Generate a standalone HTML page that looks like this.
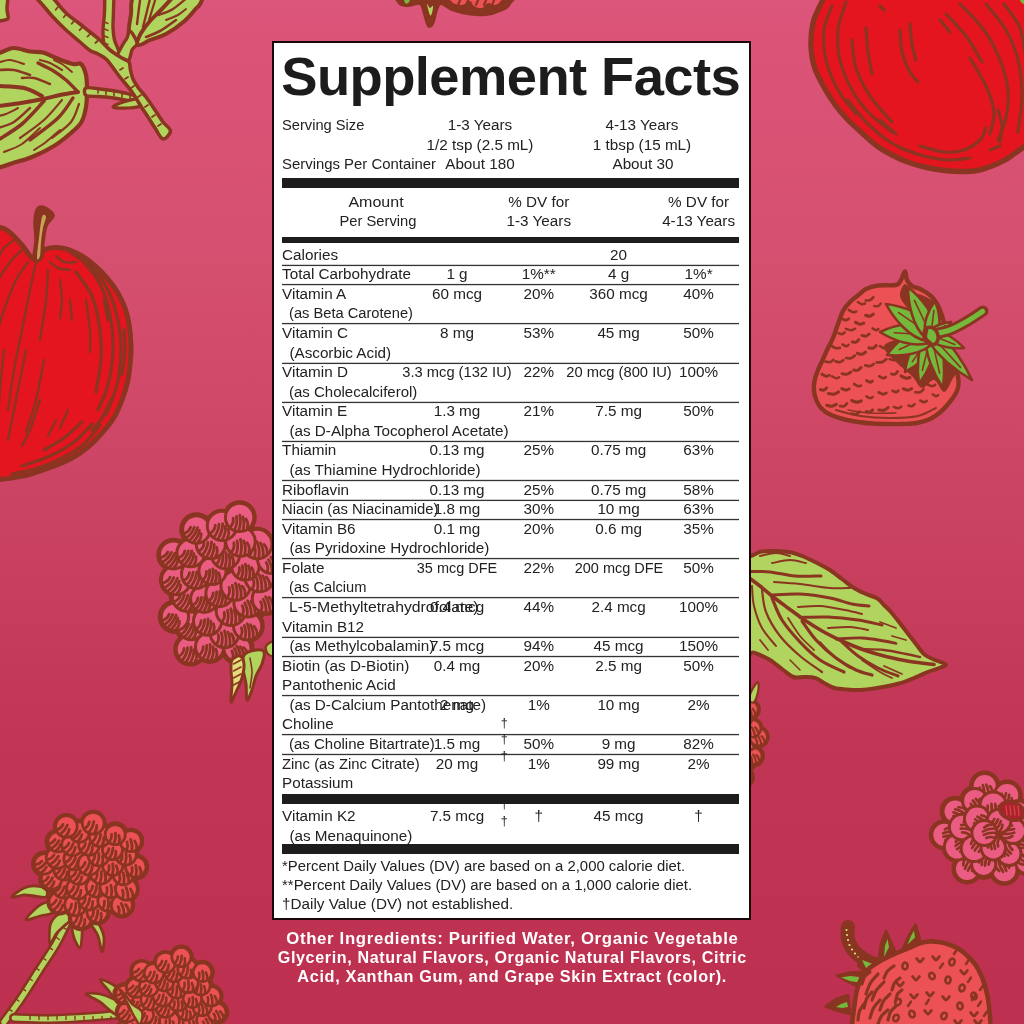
<!DOCTYPE html>
<html><head><meta charset="utf-8"><title>Supplement Facts</title>
<style>
html,body{margin:0;padding:0;}
body{width:1024px;height:1024px;overflow:hidden;position:relative;font-family:"Liberation Sans",sans-serif;
background:linear-gradient(180deg,#dc557a 0%,#d54f6f 25.6%,#cb4362 50%,#c03454 74%,#bd3050 100%);}
#art{position:absolute;left:0;top:0;width:1024px;height:1024px;}
#panel{position:absolute;left:272px;top:41px;width:475px;height:875px;border:2.2px solid #1a0508;background:#fff;box-sizing:content-box;}
#lbl{position:absolute;left:0;top:0;width:1024px;height:1024px;color:#222;font-size:15.25px;will-change:transform;}
.t{position:absolute;white-space:nowrap;line-height:20px;}
.b{position:absolute;}
.title{position:absolute;left:281.3px;top:47.1px;font-weight:bold;font-size:54.4px;line-height:60px;white-space:nowrap;color:#1c1c1c;letter-spacing:-0.6px;}
.oi{position:absolute;left:0;width:1024px;will-change:transform;text-align:center;color:#fff;font-weight:bold;font-size:15.6px;line-height:20px;white-space:nowrap;}
.oi span{display:inline-block;letter-spacing:0.62px;}
</style></head>
<body>
<svg id="art" viewBox="0 0 1024 1024" width="1024" height="1024">
<path d="M-30.0,-30.0 C-24.0,-37.7 -0.2,-36.3 6.0,-30.0 C12.2,-23.7 7.2,-0.3 7.0,8.0 C6.8,16.3 11.2,18.7 5.0,20.0 C-1.2,21.3 -24.2,24.3 -30.0,16.0 C-35.8,7.7 -36.0,-22.3 -30.0,-30.0Z" fill="#b1d45f" stroke="#8a3521" stroke-width="3.5" stroke-linejoin="round" stroke-linecap="round" />
<path d="M129.0,34.0 C127.8,28.8 130.3,20.3 131.0,14.0 C131.7,7.7 129.8,5.0 133.0,-4.0 C136.2,-13.0 136.3,-34.0 150.0,-40.0 C163.7,-46.0 206.3,-46.7 215.0,-40.0 C223.7,-33.3 205.2,-8.2 202.0,0.0 C198.8,8.2 198.5,5.4 195.5,9.0 C192.5,12.6 188.9,17.3 184.0,21.5 C179.1,25.7 171.7,30.9 166.0,34.0 C160.3,37.1 154.7,38.2 150.0,40.0 C145.3,41.8 141.5,46.0 138.0,45.0 C134.5,44.0 130.2,39.2 129.0,34.0Z" fill="#b1d45f" stroke="#8a3521" stroke-width="4" stroke-linejoin="round" stroke-linecap="round" />
<path d="M137.0,42.0 C137.7,40.5 138.8,36.5 141.0,33.0 C143.2,29.5 146.7,24.8 150.0,21.0 C153.3,17.2 157.2,14.0 161.0,10.0 C164.8,6.0 171.0,-0.8 173.0,-3.0" fill="none" stroke="#8a3521" stroke-width="4.0" stroke-linecap="round" stroke-linejoin="round"/>
<path d="M137.0,24.0 C137.3,21.3 138.4,12.5 139.0,8.0 C139.6,3.5 140.2,-1.2 140.5,-3.0" fill="none" stroke="#8a3521" stroke-width="2.4" stroke-linecap="round" stroke-linejoin="round"/>
<path d="M143.0,27.0 C143.7,24.3 145.8,16.0 147.0,11.0 C148.2,6.0 149.9,-0.7 150.5,-3.0" fill="none" stroke="#8a3521" stroke-width="2.4" stroke-linecap="round" stroke-linejoin="round"/>
<path d="M149.0,20.0 C149.7,17.8 151.8,10.8 153.0,7.0 C154.2,3.2 155.5,-1.3 156.0,-3.0" fill="none" stroke="#8a3521" stroke-width="2.2" stroke-linecap="round" stroke-linejoin="round"/>
<path d="M146.0,37.0 C148.3,36.0 155.0,33.8 160.0,31.0 C165.0,28.2 173.3,21.8 176.0,20.0" fill="none" stroke="#8a3521" stroke-width="2.6" stroke-linecap="round" stroke-linejoin="round"/>
<path d="M159.0,15.0 C161.3,14.0 168.2,12.0 173.0,9.0 C177.8,6.0 185.5,-1.0 188.0,-3.0" fill="none" stroke="#8a3521" stroke-width="2.4" stroke-linecap="round" stroke-linejoin="round"/>
<path d="M166.0,20.0 C168.0,19.2 174.7,16.8 178.0,15.0 C181.3,13.2 184.7,10.0 186.0,9.0" fill="none" stroke="#8a3521" stroke-width="2.0" stroke-linecap="round" stroke-linejoin="round"/>
<path d="M-40.0,60.0 C-34.0,40.7 -12.8,56.0 -4.0,54.0 C4.8,52.0 7.3,48.4 13.0,48.0 C18.7,47.6 25.0,50.8 30.0,51.5 C35.0,52.2 38.7,51.4 43.0,52.5 C47.3,53.6 51.0,56.1 56.0,58.0 C61.0,59.9 68.8,63.0 73.0,64.0 C77.2,65.0 78.8,62.2 81.0,64.0 C83.2,65.8 85.0,70.7 86.0,75.0 C87.0,79.3 87.0,84.7 87.0,90.0 C87.0,95.3 86.9,101.7 86.0,107.0 C85.1,112.3 84.0,117.7 81.5,122.0 C79.0,126.3 75.6,129.0 71.0,133.0 C66.4,137.0 60.5,142.0 54.0,146.0 C47.5,150.0 38.8,154.2 32.0,157.0 C25.2,159.8 19.0,161.2 13.0,163.0 C7.0,164.8 4.8,166.8 -4.0,168.0 C-12.8,169.2 -34.0,188.0 -40.0,170.0 C-46.0,152.0 -46.0,79.3 -40.0,60.0Z" fill="#b1d45f" stroke="#8a3521" stroke-width="4.2" stroke-linejoin="round" stroke-linecap="round" />
<path d="M78.0,92.0 C75.0,92.5 65.8,93.8 60.0,95.0 C54.2,96.2 49.5,97.7 43.0,99.0 C36.5,100.3 28.5,101.8 21.0,103.0 C13.5,104.2 1.8,105.5 -2.0,106.0" fill="none" stroke="#8a3521" stroke-width="4.0" stroke-linecap="round" stroke-linejoin="round"/>
<path d="M42.0,96.0 C39.0,94.7 31.3,89.7 24.0,88.0 C16.7,86.3 2.3,86.3 -2.0,86.0" fill="none" stroke="#8a3521" stroke-width="4.0" stroke-linecap="round" stroke-linejoin="round"/>
<path d="M77.0,91.0 C75.2,89.2 70.2,83.5 66.0,80.0 C61.8,76.5 56.7,72.8 52.0,70.0 C47.3,67.2 40.3,64.2 38.0,63.0" fill="none" stroke="#8a3521" stroke-width="3.4" stroke-linecap="round" stroke-linejoin="round"/>
<path d="M62.0,70.0 C60.0,68.8 53.7,64.7 50.0,63.0 C46.3,61.3 41.7,60.5 40.0,60.0" fill="none" stroke="#8a3521" stroke-width="2.2" stroke-linecap="round" stroke-linejoin="round"/>
<path d="M72.0,72.0 C70.3,70.7 65.0,66.0 62.0,64.0 C59.0,62.0 55.3,60.7 54.0,60.0" fill="none" stroke="#8a3521" stroke-width="2.0" stroke-linecap="round" stroke-linejoin="round"/>
<path d="M30.0,75.0 C27.3,74.2 19.3,70.8 14.0,70.0 C8.7,69.2 0.7,70.0 -2.0,70.0" fill="none" stroke="#8a3521" stroke-width="2.6" stroke-linecap="round" stroke-linejoin="round"/>
<path d="M24.0,64.0 C21.7,63.3 14.0,60.3 10.0,60.0 C6.0,59.7 1.7,61.7 0.0,62.0" fill="none" stroke="#8a3521" stroke-width="2.0" stroke-linecap="round" stroke-linejoin="round"/>
<path d="M50.0,84.0 C47.3,83.0 38.7,79.0 34.0,78.0 C29.3,77.0 24.0,78.0 22.0,78.0" fill="none" stroke="#8a3521" stroke-width="2.4" stroke-linecap="round" stroke-linejoin="round"/>
<path d="M73.0,98.0 C70.5,101.3 65.2,111.0 58.0,118.0 C50.8,125.0 34.7,136.3 30.0,140.0" fill="none" stroke="#8a3521" stroke-width="3.4" stroke-linecap="round" stroke-linejoin="round"/>
<path d="M44.0,101.0 C40.3,104.8 29.7,117.5 22.0,124.0 C14.3,130.5 2.0,137.3 -2.0,140.0" fill="none" stroke="#8a3521" stroke-width="3.6" stroke-linecap="round" stroke-linejoin="round"/>
<path d="M62.0,100.0 C59.0,103.3 51.0,113.7 44.0,120.0 C37.0,126.3 24.0,135.0 20.0,138.0" fill="none" stroke="#8a3521" stroke-width="2.2" stroke-linecap="round" stroke-linejoin="round"/>
<path d="M79.0,104.0 C77.7,107.0 75.5,116.3 71.0,122.0 C66.5,127.7 55.2,135.3 52.0,138.0" fill="none" stroke="#8a3521" stroke-width="2.2" stroke-linecap="round" stroke-linejoin="round"/>
<path d="M30.0,108.0 C27.3,110.3 19.3,118.7 14.0,122.0 C8.7,125.3 0.7,127.0 -2.0,128.0" fill="none" stroke="#8a3521" stroke-width="2.4" stroke-linecap="round" stroke-linejoin="round"/>
<path d="M40.0,128.0 C37.0,130.7 28.0,140.0 22.0,144.0 C16.0,148.0 7.0,150.7 4.0,152.0" fill="none" stroke="#8a3521" stroke-width="2.0" stroke-linecap="round" stroke-linejoin="round"/>
<path d="M18.0,108.0 C16.0,109.0 9.3,112.7 6.0,114.0 C2.7,115.3 -0.7,115.7 -2.0,116.0" fill="none" stroke="#8a3521" stroke-width="2.0" stroke-linecap="round" stroke-linejoin="round"/>
<path d="M60.0,130.0 C57.7,132.0 50.3,138.7 46.0,142.0 C41.7,145.3 36.0,148.7 34.0,150.0" fill="none" stroke="#8a3521" stroke-width="2.0" stroke-linecap="round" stroke-linejoin="round"/>
<path d="M106.0,-30.0 C107.6,-37.0 112.8,-36.7 114.0,-30.0 C115.2,-23.3 113.7,0.3 113.5,10.0 C113.3,19.7 112.8,23.0 113.0,28.0 C113.2,33.0 113.5,36.0 114.5,40.0 C115.5,44.0 118.6,49.0 119.0,52.0 C119.4,55.0 118.8,57.3 117.0,58.0 C115.2,58.7 110.2,58.2 108.0,56.0 C105.8,53.8 104.8,49.3 104.0,45.0 C103.2,40.7 102.9,35.5 103.0,30.0 C103.1,24.5 104.0,22.0 104.5,12.0 C105.0,2.0 104.4,-23.0 106.0,-30.0Z" fill="#b1d45f" stroke="#8a3521" stroke-width="3.4" stroke-linejoin="round" stroke-linecap="round" />
<path d="M86.0,88.0 C88.3,86.9 95.7,88.6 100.0,89.0 C104.3,89.4 107.8,89.8 112.0,90.5 C116.2,91.2 121.0,92.0 125.0,93.0 C129.0,94.0 133.8,94.8 136.0,96.5 C138.2,98.2 139.8,102.4 138.0,103.0 C136.2,103.6 129.7,100.9 125.0,100.0 C120.3,99.1 114.5,98.1 110.0,97.5 C105.5,96.9 102.0,96.8 98.0,96.5 C94.0,96.2 88.0,96.9 86.0,95.5 C84.0,94.1 83.7,89.1 86.0,88.0Z" fill="#b1d45f" stroke="#8a3521" stroke-width="3.4" stroke-linejoin="round" stroke-linecap="round" />
<path d="M113.0,107.0 C112.5,105.9 120.8,102.8 125.0,101.5 C129.2,100.2 135.0,98.4 138.0,99.0 C141.0,99.6 144.7,103.5 143.0,105.0 C141.3,106.5 133.0,107.7 128.0,108.0 C123.0,108.3 113.5,108.1 113.0,107.0Z" fill="#b1d45f" stroke="#8a3521" stroke-width="3.2" stroke-linejoin="round" stroke-linecap="round" />
<path d="M117.0,58.0 C116.0,55.5 120.3,49.3 122.0,46.0 C123.7,42.7 125.7,40.5 127.0,38.0 C128.3,35.5 128.3,30.2 130.0,31.0 C131.7,31.8 136.7,39.8 137.0,43.0 C137.3,46.2 133.5,47.0 132.0,50.0 C130.5,53.0 130.5,59.7 128.0,61.0 C125.5,62.3 118.0,60.5 117.0,58.0Z" fill="#b1d45f" stroke="#8a3521" stroke-width="3.4" stroke-linejoin="round" stroke-linecap="round" />
<path d="M10.0,-30.0 C8.0,-35.3 20.8,-34.7 28.0,-30.0 C35.2,-25.3 46.7,-9.2 53.0,-2.0 C59.3,5.2 61.5,8.7 66.0,13.0 C70.5,17.3 76.0,20.8 80.0,24.0 C84.0,27.2 86.7,29.3 90.0,32.0 C93.3,34.7 96.7,37.0 100.0,40.0 C103.3,43.0 106.3,47.0 110.0,50.0 C113.7,53.0 118.8,56.0 122.0,58.0 C125.2,60.0 127.6,60.0 129.0,62.0 C130.4,64.0 129.8,67.2 130.5,70.0 C131.2,72.8 131.7,76.0 133.0,79.0 C134.3,82.0 136.3,85.0 138.5,88.0 C140.7,91.0 143.2,93.3 146.0,97.0 C148.8,100.7 152.2,105.8 155.0,110.0 C157.8,114.2 160.4,118.5 163.0,122.0 C165.6,125.5 170.5,128.2 170.5,131.0 C170.5,133.8 165.6,139.5 163.0,139.0 C160.4,138.5 157.5,131.7 155.0,128.0 C152.5,124.3 150.2,120.3 148.0,117.0 C145.8,113.7 144.7,112.2 142.0,108.0 C139.3,103.8 135.8,97.3 132.0,92.0 C128.2,86.7 123.2,81.3 119.0,76.0 C114.8,70.7 110.5,63.7 107.0,60.0 C103.5,56.3 100.8,55.6 98.0,54.0 C95.2,52.4 93.0,52.5 90.0,50.5 C87.0,48.5 84.0,45.4 80.0,42.0 C76.0,38.6 70.7,34.3 66.0,30.0 C61.3,25.7 56.3,20.7 52.0,16.0 C47.7,11.3 47.0,9.7 40.0,2.0 C33.0,-5.7 12.0,-24.7 10.0,-30.0Z" fill="#b1d45f" stroke="#8a3521" stroke-width="3.6" stroke-linejoin="round" stroke-linecap="round" />
<path d="M58.0,7.0 L55.7,9.8" fill="none" stroke="#8a3521" stroke-width="1.8" stroke-linecap="round" stroke-linejoin="round"/>
<path d="M66.0,14.5 L63.7,17.3" fill="none" stroke="#8a3521" stroke-width="1.8" stroke-linecap="round" stroke-linejoin="round"/>
<path d="M74.0,21.0 L71.7,23.8" fill="none" stroke="#8a3521" stroke-width="1.8" stroke-linecap="round" stroke-linejoin="round"/>
<path d="M82.0,27.5 L79.6,30.2" fill="none" stroke="#8a3521" stroke-width="1.8" stroke-linecap="round" stroke-linejoin="round"/>
<path d="M90.0,34.0 L87.5,36.6" fill="none" stroke="#8a3521" stroke-width="1.8" stroke-linecap="round" stroke-linejoin="round"/>
<path d="M98.0,40.5 L95.4,43.0" fill="none" stroke="#8a3521" stroke-width="1.8" stroke-linecap="round" stroke-linejoin="round"/>
<path d="M123.0,68.0 L119.9,69.9" fill="none" stroke="#8a3521" stroke-width="1.8" stroke-linecap="round" stroke-linejoin="round"/>
<path d="M128.0,77.0 L124.9,78.9" fill="none" stroke="#8a3521" stroke-width="1.8" stroke-linecap="round" stroke-linejoin="round"/>
<path d="M134.0,86.0 L131.0,88.0" fill="none" stroke="#8a3521" stroke-width="1.8" stroke-linecap="round" stroke-linejoin="round"/>
<path d="M141.0,95.0 L138.0,97.0" fill="none" stroke="#8a3521" stroke-width="1.8" stroke-linecap="round" stroke-linejoin="round"/>
<path d="M148.0,105.0 L145.0,107.0" fill="none" stroke="#8a3521" stroke-width="1.8" stroke-linecap="round" stroke-linejoin="round"/>
<path d="M155.0,115.0 L152.0,117.0" fill="none" stroke="#8a3521" stroke-width="1.8" stroke-linecap="round" stroke-linejoin="round"/>
<path d="M161.0,124.0 L158.0,126.0" fill="none" stroke="#8a3521" stroke-width="1.8" stroke-linecap="round" stroke-linejoin="round"/>
<path d="M98.0,90.0 L98.0,93.0" fill="none" stroke="#8a3521" stroke-width="1.6" stroke-linecap="round" stroke-linejoin="round"/>
<path d="M106.0,91.4 L106.0,94.4" fill="none" stroke="#8a3521" stroke-width="1.6" stroke-linecap="round" stroke-linejoin="round"/>
<path d="M114.0,92.7 L114.0,95.7" fill="none" stroke="#8a3521" stroke-width="1.6" stroke-linecap="round" stroke-linejoin="round"/>
<path d="M122.0,94.1 L122.0,97.1" fill="none" stroke="#8a3521" stroke-width="1.6" stroke-linecap="round" stroke-linejoin="round"/>
<path d="M130.0,95.4 L130.0,98.4" fill="none" stroke="#8a3521" stroke-width="1.6" stroke-linecap="round" stroke-linejoin="round"/>
<path d="M104.5,22.0 L108.0,23.5" fill="none" stroke="#8a3521" stroke-width="1.5" stroke-linecap="round" stroke-linejoin="round"/>
<path d="M104.5,29.0 L108.0,30.5" fill="none" stroke="#8a3521" stroke-width="1.5" stroke-linecap="round" stroke-linejoin="round"/>
<path d="M104.5,36.0 L108.0,37.5" fill="none" stroke="#8a3521" stroke-width="1.5" stroke-linecap="round" stroke-linejoin="round"/>
<path d="M104.5,43.0 L108.0,44.5" fill="none" stroke="#8a3521" stroke-width="1.5" stroke-linecap="round" stroke-linejoin="round"/>
<path d="M-60.0,215.0 C-51.0,172.3 -17.3,223.3 -6.0,226.0 C5.3,228.7 3.3,227.8 8.0,231.0 C12.7,234.2 17.7,240.3 22.0,245.0 C26.3,249.7 30.0,258.3 34.0,259.0 C38.0,259.7 41.0,250.8 46.0,249.0 C51.0,247.2 58.0,247.3 64.0,248.5 C70.0,249.7 77.0,253.2 82.0,256.0 C87.0,258.8 89.8,261.3 94.0,265.0 C98.2,268.7 103.2,273.6 107.0,278.0 C110.8,282.4 114.0,286.5 117.0,291.5 C120.0,296.5 123.0,302.6 125.0,308.0 C127.0,313.4 128.0,317.5 129.0,324.0 C130.0,330.5 130.8,340.2 131.0,347.0 C131.2,353.8 130.6,359.2 130.0,365.0 C129.4,370.8 128.8,376.2 127.5,382.0 C126.2,387.8 124.2,394.1 122.0,400.0 C119.8,405.9 117.3,412.0 114.0,417.5 C110.7,423.0 106.3,428.1 102.0,433.0 C97.7,437.9 93.0,442.8 88.0,447.0 C83.0,451.2 77.0,455.1 72.0,458.0 C67.0,460.9 63.3,462.3 58.0,464.5 C52.7,466.7 45.8,469.1 40.0,471.0 C34.2,472.9 30.7,474.5 23.0,476.0 C15.3,477.5 7.8,479.0 -6.0,480.0 C-19.8,481.0 -51.0,526.2 -60.0,482.0 C-69.0,437.8 -69.0,257.7 -60.0,215.0Z" fill="#e5151f" stroke="#8a3521" stroke-width="5.0" stroke-linejoin="round" stroke-linecap="round" />
<path d="M70.0,252.0 C73.7,254.7 85.7,261.7 92.0,268.0 C98.3,274.3 103.7,281.3 108.0,290.0 C112.3,298.7 115.8,310.0 118.0,320.0 C120.2,330.0 121.2,339.2 121.0,350.0 C120.8,360.8 119.5,374.2 117.0,385.0 C114.5,395.8 107.8,410.0 106.0,415.0" fill="none" stroke="#8a3521" stroke-width="3.3" stroke-linecap="round" stroke-linejoin="round"/>
<path d="M84.0,262.0 C86.7,265.7 95.7,275.2 100.0,284.0 C104.3,292.8 107.8,304.0 110.0,315.0 C112.2,326.0 113.3,338.3 113.0,350.0 C112.7,361.7 110.5,375.0 108.0,385.0 C105.5,395.0 99.7,405.8 98.0,410.0" fill="none" stroke="#8a3521" stroke-width="3.3" stroke-linecap="round" stroke-linejoin="round"/>
<path d="M76.0,272.0 C78.7,276.0 88.0,286.3 92.0,296.0 C96.0,305.7 98.5,319.3 100.0,330.0 C101.5,340.7 101.7,349.7 101.0,360.0 C100.3,370.3 96.8,386.7 96.0,392.0" fill="none" stroke="#8a3521" stroke-width="3.3" stroke-linecap="round" stroke-linejoin="round"/>
<path d="M100.0,425.0 C97.3,428.2 90.3,438.5 84.0,444.0 C77.7,449.5 69.7,454.0 62.0,458.0 C54.3,462.0 46.3,465.3 38.0,468.0 C29.7,470.7 16.3,473.0 12.0,474.0" fill="none" stroke="#8a3521" stroke-width="3.3" stroke-linecap="round" stroke-linejoin="round"/>
<path d="M92.0,424.0 C89.0,427.0 81.0,436.7 74.0,442.0 C67.0,447.3 58.7,452.0 50.0,456.0 C41.3,460.0 26.7,464.3 22.0,466.0" fill="none" stroke="#8a3521" stroke-width="3.3" stroke-linecap="round" stroke-linejoin="round"/>
<path d="M82.0,422.0 C79.0,424.7 70.3,433.3 64.0,438.0 C57.7,442.7 47.3,448.0 44.0,450.0" fill="none" stroke="#8a3521" stroke-width="3.3" stroke-linecap="round" stroke-linejoin="round"/>
<path d="M112.0,398.0 C110.3,401.3 105.3,412.7 102.0,418.0 C98.7,423.3 93.7,428.0 92.0,430.0" fill="none" stroke="#8a3521" stroke-width="3.3" stroke-linecap="round" stroke-linejoin="round"/>
<path d="M124.0,330.0 C124.2,333.7 125.3,344.7 125.0,352.0 C124.7,359.3 122.5,370.3 122.0,374.0" fill="none" stroke="#8a3521" stroke-width="3.3" stroke-linecap="round" stroke-linejoin="round"/>
<path d="M104.0,300.0 L108.0,320.0" fill="none" stroke="#8a3521" stroke-width="3.3" stroke-linecap="round" stroke-linejoin="round"/>
<path d="M36.0,262.0 C35.0,266.7 32.3,278.7 30.0,290.0 C27.7,301.3 24.7,316.7 22.0,330.0 C19.3,343.3 16.3,356.7 14.0,370.0 C11.7,383.3 9.0,403.3 8.0,410.0" fill="none" stroke="#8a3521" stroke-width="2.5" stroke-linecap="round" stroke-linejoin="round"/>
<path d="M48.0,270.0 C47.7,275.0 47.3,288.3 46.0,300.0 C44.7,311.7 41.0,333.3 40.0,340.0" fill="none" stroke="#8a3521" stroke-width="2.5" stroke-linecap="round" stroke-linejoin="round"/>
<path d="M56.0,256.0 C57.3,257.0 60.7,261.0 64.0,262.0 C67.3,263.0 74.0,262.0 76.0,262.0" fill="none" stroke="#8a3521" stroke-width="2.5" stroke-linecap="round" stroke-linejoin="round"/>
<path d="M50.0,262.0 C51.3,263.0 54.7,266.7 58.0,268.0 C61.3,269.3 68.0,269.7 70.0,270.0" fill="none" stroke="#8a3521" stroke-width="2.5" stroke-linecap="round" stroke-linejoin="round"/>
<path d="M28.0,262.0 C26.0,265.0 20.0,272.0 16.0,280.0 C12.0,288.0 7.0,301.7 4.0,310.0 C1.0,318.3 -1.0,326.7 -2.0,330.0" fill="none" stroke="#8a3521" stroke-width="2.5" stroke-linecap="round" stroke-linejoin="round"/>
<path d="M22.0,250.0 C20.0,252.0 14.0,257.0 10.0,262.0 C6.0,267.0 0.0,277.0 -2.0,280.0" fill="none" stroke="#8a3521" stroke-width="2.5" stroke-linecap="round" stroke-linejoin="round"/>
<path d="M14.0,240.0 C12.3,241.3 6.7,245.0 4.0,248.0 C1.3,251.0 -1.0,256.3 -2.0,258.0" fill="none" stroke="#8a3521" stroke-width="2.5" stroke-linecap="round" stroke-linejoin="round"/>
<path d="M26.0,350.0 C24.3,358.3 19.0,385.0 16.0,400.0 C13.0,415.0 9.3,433.3 8.0,440.0" fill="none" stroke="#8a3521" stroke-width="2.5" stroke-linecap="round" stroke-linejoin="round"/>
<path d="M44.0,360.0 C42.7,366.7 39.0,388.0 36.0,400.0 C33.0,412.0 27.7,426.7 26.0,432.0" fill="none" stroke="#8a3521" stroke-width="2.5" stroke-linecap="round" stroke-linejoin="round"/>
<path d="M60.0,280.0 C60.3,283.3 62.0,293.7 62.0,300.0 C62.0,306.3 60.3,315.0 60.0,318.0" fill="none" stroke="#8a3521" stroke-width="2.5" stroke-linecap="round" stroke-linejoin="round"/>
<path d="M70.0,300.0 L72.0,320.0" fill="none" stroke="#8a3521" stroke-width="2.5" stroke-linecap="round" stroke-linejoin="round"/>
<path d="M40.0,400.0 C38.3,405.0 33.0,422.3 30.0,430.0 C27.0,437.7 23.3,443.3 22.0,446.0" fill="none" stroke="#8a3521" stroke-width="2.5" stroke-linecap="round" stroke-linejoin="round"/>
<path d="M56.0,420.0 L48.0,436.0" fill="none" stroke="#8a3521" stroke-width="2.5" stroke-linecap="round" stroke-linejoin="round"/>
<path d="M4.0,350.0 C3.3,356.7 1.0,378.3 0.0,390.0 C-1.0,401.7 -1.7,415.0 -2.0,420.0" fill="none" stroke="#8a3521" stroke-width="2.5" stroke-linecap="round" stroke-linejoin="round"/>
<path d="M68.0,410.0 L60.0,428.0" fill="none" stroke="#8a3521" stroke-width="2.5" stroke-linecap="round" stroke-linejoin="round"/>
<path d="M86.0,300.0 C86.7,305.0 89.3,321.3 90.0,330.0 C90.7,338.7 90.0,348.3 90.0,352.0" fill="none" stroke="#8a3521" stroke-width="2.5" stroke-linecap="round" stroke-linejoin="round"/>
<path d="M33.0,259.0 C32.5,255.3 34.8,246.2 35.0,240.0 C35.2,233.8 33.8,227.0 34.0,222.0 C34.2,217.0 34.8,212.7 36.0,210.0 C37.2,207.3 38.7,206.0 41.0,206.0 C43.3,206.0 47.8,208.3 50.0,210.0 C52.2,211.7 54.5,213.3 54.0,216.0 C53.5,218.7 48.7,221.7 47.0,226.0 C45.3,230.3 44.7,237.0 44.0,242.0 C43.3,247.0 44.0,252.7 43.0,256.0 C42.0,259.3 39.7,261.5 38.0,262.0 C36.3,262.5 33.5,262.7 33.0,259.0Z" fill="#8a3521" stroke="#8a3521" stroke-width="1.5" stroke-linejoin="round" stroke-linecap="round" />
<path d="M37.0,258.0 C36.8,255.0 38.3,244.0 39.0,238.0 C39.7,232.0 40.3,225.8 41.0,222.0 C41.7,218.2 42.2,215.8 43.0,215.0 C43.8,214.2 46.0,214.8 46.0,217.0 C46.0,219.2 43.8,223.8 43.0,228.0 C42.2,232.2 41.5,237.3 41.0,242.0 C40.5,246.7 40.7,253.3 40.0,256.0 C39.3,258.7 37.2,261.0 37.0,258.0Z" fill="#c9a257" stroke="none" stroke-width="0" stroke-linejoin="round" stroke-linecap="round" />
<path d="M835.0,-40.0 C794.3,-34.7 828.8,-16.3 826.0,-8.0 C823.2,0.3 820.2,4.8 818.0,10.0 C815.8,15.2 814.2,17.0 813.0,23.0 C811.8,29.0 810.7,38.3 811.0,46.0 C811.3,53.7 812.4,61.4 815.0,69.0 C817.6,76.6 823.0,85.3 826.5,91.5 C830.0,97.7 832.6,101.4 836.0,106.0 C839.4,110.6 842.7,114.5 847.0,119.0 C851.3,123.5 857.0,128.5 862.0,133.0 C867.0,137.5 872.0,142.3 877.0,146.0 C882.0,149.7 886.7,152.2 892.0,155.0 C897.3,157.8 903.2,160.4 909.0,162.5 C914.8,164.6 921.0,166.2 927.0,167.5 C933.0,168.8 939.2,169.8 945.0,170.5 C950.8,171.2 956.7,171.5 962.0,171.5 C967.3,171.5 972.0,171.4 977.0,170.5 C982.0,169.6 987.3,167.8 992.0,166.0 C996.7,164.2 1001.0,162.2 1005.0,160.0 C1009.0,157.8 1011.5,155.5 1016.0,152.5 C1020.5,149.5 1023.0,147.4 1032.0,142.0 C1041.0,136.6 1063.7,150.3 1070.0,120.0 C1076.3,89.7 1109.2,-13.3 1070.0,-40.0 C1030.8,-66.7 875.7,-45.3 835.0,-40.0Z" fill="#e5151f" stroke="#8a3521" stroke-width="5.4" stroke-linejoin="round" stroke-linecap="round" />
<path d="M832.0,6.0 C830.7,10.0 825.0,21.0 824.0,30.0 C823.0,39.0 823.7,50.0 826.0,60.0 C828.3,70.0 833.0,81.0 838.0,90.0 C843.0,99.0 853.0,110.0 856.0,114.0" fill="none" stroke="#8a3521" stroke-width="3.2" stroke-linecap="round" stroke-linejoin="round"/>
<path d="M846.0,2.0 C844.7,6.7 839.0,20.3 838.0,30.0 C837.0,39.7 837.7,50.0 840.0,60.0 C842.3,70.0 847.0,81.0 852.0,90.0 C857.0,99.0 863.3,107.0 870.0,114.0 C876.7,121.0 888.3,129.0 892.0,132.0" fill="none" stroke="#8a3521" stroke-width="3.2" stroke-linecap="round" stroke-linejoin="round"/>
<path d="M852.0,40.0 C852.7,44.7 853.0,58.7 856.0,68.0 C859.0,77.3 864.0,87.0 870.0,96.0 C876.0,105.0 888.3,117.7 892.0,122.0" fill="none" stroke="#8a3521" stroke-width="3.2" stroke-linecap="round" stroke-linejoin="round"/>
<path d="M866.0,28.0 C866.3,32.0 867.0,44.3 868.0,52.0 C869.0,59.7 871.3,70.3 872.0,74.0" fill="none" stroke="#8a3521" stroke-width="3.2" stroke-linecap="round" stroke-linejoin="round"/>
<path d="M848.0,100.0 C851.0,103.7 859.0,115.0 866.0,122.0 C873.0,129.0 881.7,136.7 890.0,142.0 C898.3,147.3 911.7,152.0 916.0,154.0" fill="none" stroke="#8a3521" stroke-width="3.2" stroke-linecap="round" stroke-linejoin="round"/>
<path d="M900.0,148.0 C904.0,149.3 916.0,154.0 924.0,156.0 C932.0,158.0 940.3,159.7 948.0,160.0 C955.7,160.3 966.3,158.3 970.0,158.0" fill="none" stroke="#8a3521" stroke-width="3.2" stroke-linecap="round" stroke-linejoin="round"/>
<path d="M920.0,146.0 C924.0,147.0 936.7,151.3 944.0,152.0 C951.3,152.7 958.0,152.0 964.0,150.0 C970.0,148.0 976.3,143.7 980.0,140.0 C983.7,136.3 985.0,130.0 986.0,128.0" fill="none" stroke="#8a3521" stroke-width="3.2" stroke-linecap="round" stroke-linejoin="round"/>
<path d="M960.0,4.0 C964.0,8.3 977.3,20.7 984.0,30.0 C990.7,39.3 996.0,50.0 1000.0,60.0 C1004.0,70.0 1007.0,80.3 1008.0,90.0 C1009.0,99.7 1007.7,109.7 1006.0,118.0 C1004.3,126.3 999.3,136.3 998.0,140.0" fill="none" stroke="#8a3521" stroke-width="3.2" stroke-linecap="round" stroke-linejoin="round"/>
<path d="M946.0,14.0 C949.3,17.7 960.0,28.0 966.0,36.0 C972.0,44.0 979.3,57.7 982.0,62.0" fill="none" stroke="#8a3521" stroke-width="3.2" stroke-linecap="round" stroke-linejoin="round"/>
<path d="M970.0,58.0 C972.7,62.7 982.0,77.0 986.0,86.0 C990.0,95.0 993.3,104.0 994.0,112.0 C994.7,120.0 990.7,130.3 990.0,134.0" fill="none" stroke="#8a3521" stroke-width="3.2" stroke-linecap="round" stroke-linejoin="round"/>
<path d="M986.0,4.0 C989.3,8.3 1000.7,20.7 1006.0,30.0 C1011.3,39.3 1015.3,49.0 1018.0,60.0 C1020.7,71.0 1022.0,84.0 1022.0,96.0 C1022.0,108.0 1018.7,126.0 1018.0,132.0" fill="none" stroke="#8a3521" stroke-width="3.2" stroke-linecap="round" stroke-linejoin="round"/>
<path d="M1004.0,4.0 C1006.7,8.0 1016.3,18.7 1020.0,28.0 C1023.7,37.3 1025.0,54.7 1026.0,60.0" fill="none" stroke="#8a3521" stroke-width="3.2" stroke-linecap="round" stroke-linejoin="round"/>
<path d="M900.0,30.0 C900.3,33.7 900.3,45.0 902.0,52.0 C903.7,59.0 907.3,67.0 910.0,72.0 C912.7,77.0 916.7,80.3 918.0,82.0" fill="none" stroke="#8a3521" stroke-width="3.2" stroke-linecap="round" stroke-linejoin="round"/>
<path d="M910.0,24.0 C910.3,27.3 911.0,38.0 912.0,44.0 C913.0,50.0 915.3,57.3 916.0,60.0" fill="none" stroke="#8a3521" stroke-width="3.2" stroke-linecap="round" stroke-linejoin="round"/>
<path d="M940.0,20.0 L950.0,32.0" fill="none" stroke="#8a3521" stroke-width="3.2" stroke-linecap="round" stroke-linejoin="round"/>
<path d="M884.0,10.0 L880.0,6.0" fill="none" stroke="#8a3521" stroke-width="3.2" stroke-linecap="round" stroke-linejoin="round"/>
<path d="M998.0,110.0 C998.7,112.7 1001.7,120.7 1002.0,126.0 C1002.3,131.3 1000.3,139.3 1000.0,142.0" fill="none" stroke="#8a3521" stroke-width="3.2" stroke-linecap="round" stroke-linejoin="round"/>
<path d="M880.0,120.0 L896.0,134.0" fill="none" stroke="#8a3521" stroke-width="3.2" stroke-linecap="round" stroke-linejoin="round"/>
<path d="M990.0,150.0 L1000.0,146.0" fill="none" stroke="#8a3521" stroke-width="3.2" stroke-linecap="round" stroke-linejoin="round"/>
<path d="M1019.0,-3.0 C1019.8,-4.0 1025.7,-4.2 1027.0,-3.0 C1028.3,-1.8 1027.8,3.0 1027.0,4.0 C1026.2,5.0 1023.3,4.2 1022.0,3.0 C1020.7,1.8 1018.2,-2.0 1019.0,-3.0Z" fill="#74b83c" stroke="none" stroke-width="0" stroke-linejoin="round" stroke-linecap="round" />
<path d="M396.0,-20.0 C376.3,-16.3 396.0,-2.3 398.0,2.0 C400.0,6.3 404.3,5.7 408.0,6.0 C411.7,6.3 417.3,2.7 420.0,4.0 C422.7,5.3 422.7,10.3 424.0,14.0 C425.3,17.7 426.5,24.3 428.0,26.0 C429.5,27.7 431.5,26.7 433.0,24.0 C434.5,21.3 435.7,13.3 437.0,10.0 C438.3,6.7 438.5,4.0 441.0,4.0 C443.5,4.0 447.2,8.2 452.0,10.0 C456.8,11.8 464.3,13.7 470.0,14.5 C475.7,15.3 481.0,15.6 486.0,15.0 C491.0,14.4 496.0,12.8 500.0,11.0 C504.0,9.2 507.3,9.2 510.0,4.0 C512.7,-1.2 535.0,-16.0 516.0,-20.0 C497.0,-24.0 415.7,-23.7 396.0,-20.0Z" fill="#8a3521" stroke="#8a3521" stroke-width="2" stroke-linejoin="round" stroke-linecap="round" />
<path d="M448.0,-10.0 C439.5,-8.0 449.7,-0.5 452.0,2.0 C454.3,4.5 459.0,5.2 462.0,5.0 C465.0,4.8 468.0,0.8 470.0,1.0 C472.0,1.2 472.0,4.8 474.0,6.0 C476.0,7.2 479.7,8.5 482.0,8.0 C484.3,7.5 486.0,3.5 488.0,3.0 C490.0,2.5 492.0,5.2 494.0,5.0 C496.0,4.8 498.5,4.5 500.0,2.0 C501.5,-0.5 511.7,-8.0 503.0,-10.0 C494.3,-12.0 456.5,-12.0 448.0,-10.0Z" fill="#ec5255" stroke="none" stroke-width="0" stroke-linejoin="round" stroke-linecap="round" />
<path d="M461.0,-2.0 L458.0,5.0" fill="none" stroke="#8a3521" stroke-width="2.2" stroke-linecap="round" stroke-linejoin="round"/>
<path d="M469.0,-2.0 L466.0,5.0" fill="none" stroke="#8a3521" stroke-width="2.2" stroke-linecap="round" stroke-linejoin="round"/>
<path d="M479.0,-2.0 L476.0,5.0" fill="none" stroke="#8a3521" stroke-width="2.2" stroke-linecap="round" stroke-linejoin="round"/>
<path d="M487.0,-2.0 L484.0,5.0" fill="none" stroke="#8a3521" stroke-width="2.2" stroke-linecap="round" stroke-linejoin="round"/>
<path d="M495.0,-2.0 L492.0,5.0" fill="none" stroke="#8a3521" stroke-width="2.2" stroke-linecap="round" stroke-linejoin="round"/>
<path d="M404.0,-6.0 C405.0,-7.5 410.2,-7.3 411.0,-6.0 C411.8,-4.7 410.0,0.5 409.0,2.0 C408.0,3.5 405.8,4.3 405.0,3.0 C404.2,1.7 403.0,-4.5 404.0,-6.0Z" fill="#74b83c" stroke="none" stroke-width="0" stroke-linejoin="round" stroke-linecap="round" />
<path d="M427.0,4.0 C427.0,2.8 429.0,7.7 430.0,8.0 C431.0,8.3 432.7,5.2 433.0,6.0 C433.3,6.8 432.5,11.5 432.0,13.0 C431.5,14.5 430.8,16.5 430.0,15.0 C429.2,13.5 427.0,5.2 427.0,4.0Z" fill="#b1d45f" stroke="none" stroke-width="0" stroke-linejoin="round" stroke-linecap="round" />
<path d="M878.0,285.5 C873.0,286.2 869.2,287.4 866.0,289.0 C862.8,290.6 861.2,292.8 858.5,295.0 C855.8,297.2 852.6,299.3 850.0,302.0 C847.4,304.7 845.0,307.3 843.0,311.0 C841.0,314.7 839.7,319.5 838.0,324.0 C836.3,328.5 834.7,334.0 833.0,338.0 C831.3,342.0 829.6,344.7 828.0,348.0 C826.4,351.3 825.2,354.3 823.5,358.0 C821.8,361.7 819.5,366.2 818.0,370.0 C816.5,373.8 815.2,377.5 814.5,381.0 C813.8,384.5 813.7,387.8 814.0,391.0 C814.3,394.2 815.3,397.7 816.5,400.5 C817.7,403.3 818.9,405.8 821.0,408.0 C823.1,410.2 825.3,412.2 829.0,414.0 C832.7,415.8 838.1,417.7 843.0,419.0 C847.9,420.3 853.5,421.2 858.5,422.0 C863.5,422.8 868.1,423.2 873.0,423.5 C877.9,423.8 883.0,423.9 888.0,424.0 C893.0,424.1 898.2,424.2 903.0,424.0 C907.8,423.8 912.5,423.8 917.0,423.0 C921.5,422.2 926.1,420.8 930.0,419.0 C933.9,417.2 937.3,414.7 940.5,412.0 C943.7,409.3 946.4,406.2 949.0,403.0 C951.6,399.8 954.4,396.0 956.0,393.0 C957.6,390.0 958.2,387.7 958.5,385.0 C958.8,382.3 958.6,380.3 958.0,377.0 C957.4,373.7 956.3,369.5 955.0,365.0 C953.7,360.5 951.5,355.8 950.0,350.0 C948.5,344.2 947.7,336.7 946.0,330.0 C944.3,323.3 942.3,315.5 940.0,310.0 C937.7,304.5 935.2,300.4 932.0,297.0 C928.8,293.6 924.3,291.3 921.0,289.5 C917.7,287.7 914.3,287.6 912.0,286.0 C909.7,284.4 908.2,282.4 907.0,280.0 C905.8,277.6 906.0,271.5 905.0,271.5 C904.0,271.5 902.5,277.8 901.0,280.0 C899.5,282.2 899.8,284.1 896.0,285.0 C892.2,285.9 883.0,284.8 878.0,285.5Z" fill="#ec5255" stroke="#8a3521" stroke-width="4.4" stroke-linejoin="round" stroke-linecap="round" />
<path d="M842.3,318.8 C842.9,319.1 844.9,320.2 846.0,320.2 C847.1,320.2 848.3,318.9 848.7,318.7" fill="none" stroke="#8a3521" stroke-width="2.9207475784318833" stroke-linecap="round" stroke-linejoin="round"/>
<path d="M848.8,310.0 C849.5,310.3 851.8,311.9 853.0,312.2 C854.2,312.5 855.7,311.6 856.2,311.5" fill="none" stroke="#8a3521" stroke-width="2.6925511335300683" stroke-linecap="round" stroke-linejoin="round"/>
<path d="M857.8,302.0 C858.5,302.3 860.8,303.9 862.0,304.2 C863.2,304.5 864.6,303.7 865.2,303.5" fill="none" stroke="#8a3521" stroke-width="2.429996526753588" stroke-linecap="round" stroke-linejoin="round"/>
<path d="M838.4,333.1 C839.0,333.3 841.0,334.3 842.0,334.2 C843.0,334.1 844.2,332.7 844.6,332.4" fill="none" stroke="#8a3521" stroke-width="2.472570410675092" stroke-linecap="round" stroke-linejoin="round"/>
<path d="M845.9,328.8 C846.7,329.1 849.5,330.2 851.0,330.2 C852.5,330.2 854.4,328.9 855.1,328.7" fill="none" stroke="#8a3521" stroke-width="2.4990415689197163" stroke-linecap="round" stroke-linejoin="round"/>
<path d="M855.4,322.3 C856.2,322.6 858.6,324.1 860.0,324.2 C861.4,324.3 863.0,323.4 863.6,323.2" fill="none" stroke="#8a3521" stroke-width="3.1581671539656044" stroke-linecap="round" stroke-linejoin="round"/>
<path d="M865.7,315.4 C866.4,315.5 868.7,316.4 870.0,316.2 C871.3,316.0 872.7,314.5 873.3,314.1" fill="none" stroke="#8a3521" stroke-width="3.181004084474336" stroke-linecap="round" stroke-linejoin="round"/>
<path d="M831.2,345.6 C832.0,346.0 834.6,347.8 836.0,348.2 C837.4,348.6 839.1,347.9 839.8,347.9" fill="none" stroke="#8a3521" stroke-width="2.631687429065341" stroke-linecap="round" stroke-linejoin="round"/>
<path d="M842.5,344.5 C843.1,344.8 845.0,346.1 846.0,346.2 C847.0,346.3 848.1,345.2 848.5,345.0" fill="none" stroke="#8a3521" stroke-width="2.6467854592815474" stroke-linecap="round" stroke-linejoin="round"/>
<path d="M852.2,341.9 C852.8,342.0 854.9,342.6 856.0,342.2 C857.1,341.8 858.4,340.0 858.8,339.6" fill="none" stroke="#8a3521" stroke-width="2.865280130929973" stroke-linecap="round" stroke-linejoin="round"/>
<path d="M861.8,335.5 C862.5,335.6 864.8,336.5 866.0,336.2 C867.2,335.9 868.7,334.3 869.2,334.0" fill="none" stroke="#8a3521" stroke-width="2.8381955725676464" stroke-linecap="round" stroke-linejoin="round"/>
<path d="M872.6,328.4 C873.2,328.7 875.0,330.1 876.0,330.2 C877.0,330.3 878.0,329.3 878.4,329.1" fill="none" stroke="#8a3521" stroke-width="2.5647669702554614" stroke-linecap="round" stroke-linejoin="round"/>
<path d="M825.6,361.6 C826.4,361.7 828.7,362.5 830.0,362.2 C831.3,361.9 832.8,360.2 833.4,359.9" fill="none" stroke="#8a3521" stroke-width="2.6513177363014333" stroke-linecap="round" stroke-linejoin="round"/>
<path d="M835.6,361.4 C836.3,361.5 838.7,362.4 840.0,362.2 C841.3,362.0 842.8,360.5 843.4,360.1" fill="none" stroke="#8a3521" stroke-width="2.639813597490946" stroke-linecap="round" stroke-linejoin="round"/>
<path d="M846.1,358.0 C846.9,358.1 849.5,358.6 851.0,358.2 C852.5,357.8 854.2,355.9 854.9,355.5" fill="none" stroke="#8a3521" stroke-width="2.5952772085777225" stroke-linecap="round" stroke-linejoin="round"/>
<path d="M857.5,353.4 C858.2,353.5 860.7,354.4 862.0,354.2 C863.3,354.0 865.0,352.5 865.5,352.1" fill="none" stroke="#8a3521" stroke-width="3.1001099964587433" stroke-linecap="round" stroke-linejoin="round"/>
<path d="M868.9,347.8 C869.6,347.8 871.8,348.5 873.0,348.2 C874.2,347.9 875.6,346.2 876.1,345.7" fill="none" stroke="#8a3521" stroke-width="3.184139877994066" stroke-linecap="round" stroke-linejoin="round"/>
<path d="M821.9,374.2 C822.6,374.5 824.8,376.0 826.0,376.2 C827.2,376.4 828.6,375.5 829.1,375.3" fill="none" stroke="#8a3521" stroke-width="3.0057127436521998" stroke-linecap="round" stroke-linejoin="round"/>
<path d="M831.8,376.2 C832.5,376.5 834.8,378.0 836.0,378.2 C837.2,378.4 838.7,377.4 839.2,377.3" fill="none" stroke="#8a3521" stroke-width="2.43136580563795" stroke-linecap="round" stroke-linejoin="round"/>
<path d="M842.0,373.6 C842.8,373.7 845.5,374.5 847.0,374.2 C848.5,373.9 850.4,372.3 851.0,371.9" fill="none" stroke="#8a3521" stroke-width="2.858420752221907" stroke-linecap="round" stroke-linejoin="round"/>
<path d="M853.9,370.1 C854.6,370.1 856.8,370.7 858.0,370.2 C859.2,369.7 860.6,367.8 861.1,367.4" fill="none" stroke="#8a3521" stroke-width="2.9562362930189274" stroke-linecap="round" stroke-linejoin="round"/>
<path d="M865.3,365.4 C866.1,365.5 868.6,366.4 870.0,366.2 C871.4,366.0 873.0,364.4 873.7,364.1" fill="none" stroke="#8a3521" stroke-width="2.7649642650411304" stroke-linecap="round" stroke-linejoin="round"/>
<path d="M876.7,362.3 C877.6,362.2 880.4,362.7 882.0,362.2 C883.6,361.7 885.6,359.7 886.3,359.2" fill="none" stroke="#8a3521" stroke-width="2.7792786699357155" stroke-linecap="round" stroke-linejoin="round"/>
<path d="M820.4,389.6 C821.0,389.7 823.0,390.5 824.0,390.2 C825.0,389.9 826.2,388.3 826.6,387.9" fill="none" stroke="#8a3521" stroke-width="2.961193617043539" stroke-linecap="round" stroke-linejoin="round"/>
<path d="M828.5,393.6 C829.4,393.7 832.3,394.5 834.0,394.2 C835.7,393.9 837.7,392.3 838.5,391.9" fill="none" stroke="#8a3521" stroke-width="3.057539829287772" stroke-linecap="round" stroke-linejoin="round"/>
<path d="M841.8,388.6 C842.5,388.9 844.8,390.2 846.0,390.2 C847.2,390.2 848.6,389.1 849.2,388.9" fill="none" stroke="#8a3521" stroke-width="2.934922172707351" stroke-linecap="round" stroke-linejoin="round"/>
<path d="M854.0,383.9 C854.6,384.3 856.8,385.9 858.0,386.2 C859.2,386.5 860.5,385.7 861.0,385.6" fill="none" stroke="#8a3521" stroke-width="2.5344387031252356" stroke-linecap="round" stroke-linejoin="round"/>
<path d="M866.6,380.5 C867.2,380.8 869.0,382.1 870.0,382.2 C871.0,382.3 872.0,381.2 872.4,381.0" fill="none" stroke="#8a3521" stroke-width="3.0145863907780166" stroke-linecap="round" stroke-linejoin="round"/>
<path d="M879.2,376.3 C879.9,376.7 881.9,378.1 883.0,378.2 C884.1,378.3 885.3,377.3 885.8,377.2" fill="none" stroke="#8a3521" stroke-width="2.7127597625065816" stroke-linecap="round" stroke-linejoin="round"/>
<path d="M891.4,374.0 C892.0,374.1 894.0,374.6 895.0,374.2 C896.0,373.8 897.2,371.9 897.6,371.5" fill="none" stroke="#8a3521" stroke-width="2.759349920759465" stroke-linecap="round" stroke-linejoin="round"/>
<path d="M826.7,405.2 C827.6,405.4 830.4,406.4 832.0,406.2 C833.6,406.0 835.5,404.6 836.3,404.3" fill="none" stroke="#8a3521" stroke-width="3.0554238702685934" stroke-linecap="round" stroke-linejoin="round"/>
<path d="M840.0,406.1 C840.7,406.1 842.8,406.6 844.0,406.2 C845.2,405.8 846.5,403.9 847.0,403.4" fill="none" stroke="#8a3521" stroke-width="2.732237213769359" stroke-linecap="round" stroke-linejoin="round"/>
<path d="M851.8,400.6 C852.7,400.9 855.4,402.1 857.0,402.2 C858.6,402.3 860.5,401.1 861.2,400.9" fill="none" stroke="#8a3521" stroke-width="3.166184963171193" stroke-linecap="round" stroke-linejoin="round"/>
<path d="M866.4,396.4 C867.0,396.7 869.0,398.1 870.0,398.2 C871.0,398.3 872.2,397.2 872.6,397.1" fill="none" stroke="#8a3521" stroke-width="2.5855654934556287" stroke-linecap="round" stroke-linejoin="round"/>
<path d="M878.7,392.4 C879.4,392.7 881.7,394.1 883.0,394.2 C884.3,394.3 885.8,393.3 886.3,393.1" fill="none" stroke="#8a3521" stroke-width="2.8712988029858044" stroke-linecap="round" stroke-linejoin="round"/>
<path d="M892.6,390.8 C893.2,391.0 895.0,392.2 896.0,392.2 C897.0,392.2 898.0,391.0 898.4,390.7" fill="none" stroke="#8a3521" stroke-width="2.7351572009002623" stroke-linecap="round" stroke-linejoin="round"/>
<path d="M903.4,388.8 C904.2,389.0 906.6,390.2 908.0,390.2 C909.4,390.2 911.0,389.0 911.6,388.7" fill="none" stroke="#8a3521" stroke-width="3.1624783404200763" stroke-linecap="round" stroke-linejoin="round"/>
<path d="M851.5,413.7 C852.2,413.8 854.7,414.5 856.0,414.2 C857.3,413.9 858.9,412.2 859.5,411.8" fill="none" stroke="#8a3521" stroke-width="2.894074199527302" stroke-linecap="round" stroke-linejoin="round"/>
<path d="M866.4,411.6 C867.0,411.7 869.0,412.5 870.0,412.2 C871.0,411.9 872.2,410.3 872.6,409.9" fill="none" stroke="#8a3521" stroke-width="3.119626408046362" stroke-linecap="round" stroke-linejoin="round"/>
<path d="M878.8,410.0 C879.7,410.1 882.4,410.6 884.0,410.2 C885.6,409.8 887.5,407.9 888.2,407.5" fill="none" stroke="#8a3521" stroke-width="3.038298496957253" stroke-linecap="round" stroke-linejoin="round"/>
<path d="M893.8,406.9 C894.5,407.1 896.8,408.2 898.0,408.2 C899.2,408.2 900.7,406.9 901.2,406.6" fill="none" stroke="#8a3521" stroke-width="2.4828296749682592" stroke-linecap="round" stroke-linejoin="round"/>
<path d="M908.4,405.5 C909.0,405.6 911.0,406.5 912.0,406.2 C913.0,405.9 914.2,404.4 914.6,404.0" fill="none" stroke="#8a3521" stroke-width="2.4538780926744197" stroke-linecap="round" stroke-linejoin="round"/>
<path d="M920.3,400.6 C920.9,400.8 922.9,402.1 924.0,402.2 C925.1,402.3 926.2,401.1 926.7,400.9" fill="none" stroke="#8a3521" stroke-width="2.6720429217858745" stroke-linecap="round" stroke-linejoin="round"/>
<path d="M932.8,394.4 C933.3,394.7 935.1,396.1 936.0,396.2 C936.9,396.3 937.9,395.3 938.2,395.1" fill="none" stroke="#8a3521" stroke-width="2.5210119458235423" stroke-linecap="round" stroke-linejoin="round"/>
<path d="M940.1,384.2 C940.7,384.5 942.9,386.0 944.0,386.2 C945.1,386.4 946.5,385.5 946.9,385.3" fill="none" stroke="#8a3521" stroke-width="2.4204007093329163" stroke-linecap="round" stroke-linejoin="round"/>
<path d="M915.3,392.2 C916.1,392.2 918.6,392.7 920.0,392.2 C921.4,391.7 923.0,389.8 923.7,389.3" fill="none" stroke="#8a3521" stroke-width="2.5188403882647132" stroke-linecap="round" stroke-linejoin="round"/>
<path d="M927.9,384.6 C928.6,384.8 930.8,386.1 932.0,386.2 C933.2,386.3 934.5,385.1 935.1,384.9" fill="none" stroke="#8a3521" stroke-width="2.691330751622626" stroke-linecap="round" stroke-linejoin="round"/>
<path d="M901.1,375.9 C901.9,376.2 904.5,377.9 906.0,378.2 C907.5,378.5 909.2,377.7 909.9,377.6" fill="none" stroke="#8a3521" stroke-width="3.1944821773637715" stroke-linecap="round" stroke-linejoin="round"/>
<path d="M889.6,359.1 C890.3,359.3 892.7,360.3 894.0,360.2 C895.3,360.1 896.9,358.7 897.4,358.4" fill="none" stroke="#8a3521" stroke-width="2.468707729244932" stroke-linecap="round" stroke-linejoin="round"/>
<path d="M880.1,346.2 C880.7,346.5 882.9,348.0 884.0,348.2 C885.1,348.4 886.4,347.4 886.9,347.3" fill="none" stroke="#8a3521" stroke-width="2.611805513373744" stroke-linecap="round" stroke-linejoin="round"/>
<path d="M874.2,306.0 C874.8,306.0 876.9,306.6 878.0,306.2 C879.1,305.8 880.3,304.0 880.8,303.5" fill="none" stroke="#8a3521" stroke-width="2.4184765768361984" stroke-linecap="round" stroke-linejoin="round"/>
<path d="M865.6,300.4 C866.3,300.4 868.7,300.8 870.0,300.2 C871.3,299.6 872.9,297.6 873.4,297.1" fill="none" stroke="#8a3521" stroke-width="2.5172820311192723" stroke-linecap="round" stroke-linejoin="round"/>
<path d="M836.0,410.0 C840.0,411.0 851.0,414.7 860.0,416.0 C869.0,417.3 880.3,418.0 890.0,418.0 C899.7,418.0 910.3,417.7 918.0,416.0 C925.7,414.3 933.0,409.3 936.0,408.0" fill="none" stroke="#8a3521" stroke-width="2.0" stroke-linecap="round" stroke-linejoin="round"/>
<path d="M848.0,410.0 C851.7,410.5 862.0,412.5 870.0,413.0 C878.0,413.5 891.7,413.0 896.0,413.0" fill="none" stroke="#8a3521" stroke-width="1.6" stroke-linecap="round" stroke-linejoin="round"/>
<path d="M884.0,346.0 C882.5,350.0 891.3,357.0 896.0,362.0 C900.7,367.0 907.7,371.7 912.0,376.0 C916.3,380.3 918.3,387.3 922.0,388.0 C925.7,388.7 930.3,379.3 934.0,380.0 C937.7,380.7 941.0,392.0 944.0,392.0 C947.0,392.0 949.7,384.3 952.0,380.0 C954.3,375.7 958.7,371.0 958.0,366.0 C957.3,361.0 952.7,354.3 948.0,350.0 C943.3,345.7 937.2,342.0 930.0,340.0 C922.8,338.0 912.7,337.0 905.0,338.0 C897.3,339.0 885.5,342.0 884.0,346.0Z" fill="#8a3521" stroke="none" stroke-width="0" stroke-linejoin="round" stroke-linecap="round" />
<path d="M905.0,284.0 C907.0,283.3 908.8,290.0 912.0,292.0 C915.2,294.0 920.0,294.0 924.0,296.0 C928.0,298.0 932.7,300.3 936.0,304.0 C939.3,307.7 945.0,315.3 944.0,318.0 C943.0,320.7 935.7,321.3 930.0,320.0 C924.3,318.7 915.0,314.0 910.0,310.0 C905.0,306.0 900.8,300.3 900.0,296.0 C899.2,291.7 903.0,284.7 905.0,284.0Z" fill="#8a3521" stroke="none" stroke-width="0" stroke-linejoin="round" stroke-linecap="round" />
<path d="M926.0,331.5 C912.8,338.8 906.5,359.3 905.0,372.0 C916.5,366.2 933.6,353.4 936.0,338.5Z" fill="#74b83c" stroke="#8a3521" stroke-width="2.6" stroke-linejoin="round"/>
<path d="M924.5,344.2 L912.3,361.6" stroke="#8a3521" stroke-width="1.6" stroke-linecap="round"/>
<path d="M925.9,333.8 C916.8,347.1 916.9,370.5 919.0,384.0 C927.1,373.0 938.0,352.3 936.1,336.2Z" fill="#74b83c" stroke="#8a3521" stroke-width="2.6" stroke-linejoin="round"/>
<path d="M928.0,347.2 L922.4,370.3" stroke="#8a3521" stroke-width="1.6" stroke-linecap="round"/>
<path d="M925.9,336.2 C923.9,353.3 934.9,375.9 943.0,388.0 C945.1,373.6 945.3,348.5 936.1,333.8Z" fill="#74b83c" stroke="#8a3521" stroke-width="2.6" stroke-linejoin="round"/>
<path d="M934.0,348.2 L939.6,373.2" stroke="#8a3521" stroke-width="1.6" stroke-linecap="round"/>
<path d="M927.3,338.3 C935.6,355.5 958.1,372.1 972.0,380.0 C965.4,365.4 951.0,341.5 934.7,331.7Z" fill="#74b83c" stroke="#8a3521" stroke-width="2.6" stroke-linejoin="round"/>
<path d="M941.2,346.2 L960.5,367.4" stroke="#8a3521" stroke-width="1.6" stroke-linecap="round"/>
<path d="M929.4,339.1 C937.5,347.5 954.1,348.8 964.0,348.0 C957.4,340.7 944.3,330.3 932.6,330.9Z" fill="#74b83c" stroke="#8a3521" stroke-width="2.6" stroke-linejoin="round"/>
<path d="M939.2,338.2 L954.8,344.4" stroke="#8a3521" stroke-width="1.6" stroke-linecap="round"/>
<path d="M928.0,328.5 C911.6,327.4 895.0,343.5 887.0,355.0 C901.0,356.5 924.0,354.6 934.0,341.5Z" fill="#74b83c" stroke="#8a3521" stroke-width="2.6" stroke-linejoin="round"/>
<path d="M920.0,340.0 L899.3,349.4" stroke="#8a3521" stroke-width="1.6" stroke-linecap="round"/>
<path d="M931.4,327.9 C916.6,319.2 893.2,325.6 880.0,332.0 C892.3,339.9 914.8,349.0 930.6,342.1Z" fill="#74b83c" stroke="#8a3521" stroke-width="2.6" stroke-linejoin="round"/>
<path d="M918.2,334.2 L894.3,332.8" stroke="#8a3521" stroke-width="1.6" stroke-linecap="round"/>
<path d="M935.1,329.1 C926.0,313.4 901.3,305.9 886.0,304.0 C893.2,317.6 909.0,338.0 926.9,340.9Z" fill="#74b83c" stroke="#8a3521" stroke-width="2.6" stroke-linejoin="round"/>
<path d="M919.8,327.2 L898.6,312.7" stroke="#8a3521" stroke-width="1.6" stroke-linecap="round"/>
<path d="M936.7,332.3 C936.0,314.9 919.5,296.3 908.0,287.0 C908.0,301.7 912.2,326.3 925.3,337.7Z" fill="#74b83c" stroke="#8a3521" stroke-width="2.6" stroke-linejoin="round"/>
<path d="M925.2,323.0 L914.4,300.4" stroke="#8a3521" stroke-width="1.6" stroke-linecap="round"/>
<path d="M935.9,335.6 C942.5,326.0 938.9,310.1 935.0,301.0 C929.1,308.9 921.9,323.6 926.1,334.4Z" fill="#74b83c" stroke="#8a3521" stroke-width="2.6" stroke-linejoin="round"/>
<path d="M932.0,326.5 L933.9,310.5" stroke="#8a3521" stroke-width="1.6" stroke-linecap="round"/>
<path d="M932.8,337.8 C940.8,336.9 947.8,328.0 951.0,322.0 C944.2,322.5 933.2,325.3 929.2,332.2Z" fill="#74b83c" stroke="#8a3521" stroke-width="2.6" stroke-linejoin="round"/>
<path d="M936.0,331.8 L945.4,325.6" stroke="#8a3521" stroke-width="1.6" stroke-linecap="round"/>
<path d="M934.0,334.0 C936.7,333.3 944.7,332.0 950.0,330.0 C955.3,328.0 960.5,325.2 966.0,322.0 C971.5,318.8 980.2,312.8 983.0,311.0" fill="none" stroke="#8a3521" stroke-width="11" stroke-linecap="round" stroke-linejoin="round"/>
<path d="M934.0,334.0 C936.7,333.3 944.7,332.0 950.0,330.0 C955.3,328.0 960.6,325.1 966.0,322.0 C971.4,318.9 979.8,313.2 982.5,311.5" fill="none" stroke="#74b83c" stroke-width="5.2" stroke-linecap="round" stroke-linejoin="round"/>
<ellipse cx="931" cy="336" rx="7" ry="9" fill="#74b83c" stroke="#8a3521" stroke-width="3.6" transform="rotate(-20 931 336)"/>
<path d="M927.0,330.0 C926.8,331.3 925.3,335.8 926.0,338.0 C926.7,340.2 930.2,342.2 931.0,343.0" fill="none" stroke="#8a3521" stroke-width="2.6" stroke-linecap="round" stroke-linejoin="round"/>
<path d="M740.0,560.0 C741.8,544.2 747.4,557.4 751.0,556.0 C754.6,554.6 757.3,552.3 761.5,551.5 C765.7,550.7 771.0,550.8 776.0,551.0 C781.0,551.2 787.2,551.7 791.5,552.5 C795.8,553.3 798.8,554.8 802.0,556.0 C805.2,557.2 807.8,558.5 811.0,560.0 C814.2,561.5 817.8,563.3 821.0,565.0 C824.2,566.7 826.5,567.7 830.0,570.0 C833.5,572.3 838.0,576.0 842.0,579.0 C846.0,582.0 850.0,585.5 854.0,588.0 C858.0,590.5 862.1,592.2 866.0,594.0 C869.9,595.8 874.5,596.7 877.5,598.5 C880.5,600.3 881.8,602.8 884.0,605.0 C886.2,607.2 888.0,608.7 890.5,611.5 C893.0,614.3 896.2,618.4 899.0,622.0 C901.8,625.6 904.7,629.3 907.5,633.0 C910.3,636.7 913.2,640.4 916.0,644.0 C918.8,647.6 921.3,651.8 924.5,654.5 C927.7,657.2 931.4,658.3 935.0,660.0 C938.6,661.7 945.5,663.1 946.0,664.5 C946.5,665.9 940.8,667.3 938.0,668.5 C935.2,669.7 933.0,669.9 929.0,671.5 C925.0,673.1 919.0,676.0 914.0,678.0 C909.0,680.0 904.7,681.9 899.0,683.5 C893.3,685.1 886.5,686.4 880.0,687.5 C873.5,688.6 865.5,689.7 860.0,690.0 C854.5,690.3 851.2,689.8 847.0,689.5 C842.8,689.2 838.2,689.0 834.5,688.0 C830.8,687.0 828.2,685.2 825.0,683.5 C821.8,681.8 818.5,679.1 815.0,678.0 C811.5,676.9 807.6,677.2 804.0,677.0 C800.4,676.8 797.2,678.3 793.5,677.0 C789.8,675.7 785.9,671.8 782.0,669.0 C778.1,666.2 773.5,662.2 770.0,660.0 C766.5,657.8 763.8,656.8 761.0,655.5 C758.2,654.2 756.5,653.2 753.0,652.5 C749.5,651.8 742.2,666.4 740.0,651.0 C737.8,635.6 738.2,575.8 740.0,560.0Z" fill="#b1d45f" stroke="#8a3521" stroke-width="4.0" stroke-linejoin="round" stroke-linecap="round" />
<path d="M748.0,577.0 C750.0,578.5 756.0,582.8 760.0,586.0 C764.0,589.2 767.3,592.3 772.0,596.0 C776.7,599.7 782.6,604.0 788.0,608.0 C793.4,612.0 798.7,616.1 804.5,620.0 C810.3,623.9 816.6,627.9 823.0,631.5 C829.4,635.1 836.2,638.4 843.0,641.5 C849.8,644.6 856.8,647.5 864.0,650.0 C871.2,652.5 878.3,654.6 886.0,656.5 C893.7,658.4 902.0,660.2 910.0,661.5 C918.0,662.8 930.0,664.0 934.0,664.5" fill="none" stroke="#8a3521" stroke-width="3.6" stroke-linecap="round" stroke-linejoin="round"/>
<path d="M750.0,571.5 C753.3,571.6 762.5,571.2 770.0,572.0 C777.5,572.8 786.5,575.3 795.0,576.0 C803.5,576.7 816.7,576.0 821.0,576.0" fill="none" stroke="#8a3521" stroke-width="3.0" stroke-linecap="round" stroke-linejoin="round"/>
<path d="M760.0,556.0 C762.7,555.5 771.0,553.0 776.0,553.0 C781.0,553.0 787.7,555.5 790.0,556.0" fill="none" stroke="#8a3521" stroke-width="2.0" stroke-linecap="round" stroke-linejoin="round"/>
<path d="M772.0,563.0 C775.0,562.5 784.3,560.0 790.0,560.0 C795.7,560.0 803.3,562.5 806.0,563.0" fill="none" stroke="#8a3521" stroke-width="1.8" stroke-linecap="round" stroke-linejoin="round"/>
<path d="M774.0,582.0 C778.3,582.3 790.7,583.0 800.0,584.0 C809.3,585.0 821.7,587.3 830.0,588.0 C838.3,588.7 846.7,588.0 850.0,588.0" fill="none" stroke="#8a3521" stroke-width="2.0" stroke-linecap="round" stroke-linejoin="round"/>
<path d="M772.0,595.0 C776.7,594.8 790.3,593.5 800.0,594.0 C809.7,594.5 821.3,596.3 830.0,598.0 C838.7,599.7 845.5,602.7 852.0,604.0 C858.5,605.3 866.2,605.7 869.0,606.0" fill="none" stroke="#8a3521" stroke-width="3.0" stroke-linecap="round" stroke-linejoin="round"/>
<path d="M798.0,607.0 C801.7,606.8 812.2,605.5 820.0,606.0 C827.8,606.5 838.0,608.7 845.0,610.0 C852.0,611.3 859.2,613.3 862.0,614.0" fill="none" stroke="#8a3521" stroke-width="2.0" stroke-linecap="round" stroke-linejoin="round"/>
<path d="M800.0,617.5 C804.7,617.4 818.3,616.6 828.0,617.0 C837.7,617.4 849.0,618.7 858.0,620.0 C867.0,621.3 878.0,624.2 882.0,625.0" fill="none" stroke="#8a3521" stroke-width="3.0" stroke-linecap="round" stroke-linejoin="round"/>
<path d="M828.0,628.0 C831.7,627.8 843.3,626.7 850.0,627.0 C856.7,627.3 865.0,629.5 868.0,630.0" fill="none" stroke="#8a3521" stroke-width="2.0" stroke-linecap="round" stroke-linejoin="round"/>
<path d="M836.0,639.0 C840.3,638.8 854.0,637.7 862.0,638.0 C870.0,638.3 878.3,640.1 884.0,641.0 C889.7,641.9 894.0,643.1 896.0,643.5" fill="none" stroke="#8a3521" stroke-width="2.8" stroke-linecap="round" stroke-linejoin="round"/>
<path d="M860.0,649.0 C864.0,649.2 876.3,649.2 884.0,650.0 C891.7,650.8 900.0,652.8 906.0,654.0 C912.0,655.2 917.7,656.5 920.0,657.0" fill="none" stroke="#8a3521" stroke-width="2.4" stroke-linecap="round" stroke-linejoin="round"/>
<path d="M880.0,622.0 L896.0,628.0" fill="none" stroke="#8a3521" stroke-width="1.8" stroke-linecap="round" stroke-linejoin="round"/>
<path d="M892.0,636.0 L906.0,640.0" fill="none" stroke="#8a3521" stroke-width="1.8" stroke-linecap="round" stroke-linejoin="round"/>
<path d="M772.0,598.0 C773.7,601.7 777.3,612.7 782.0,620.0 C786.7,627.3 793.7,635.3 800.0,642.0 C806.3,648.7 812.7,655.0 820.0,660.0 C827.3,665.0 840.0,670.0 844.0,672.0" fill="none" stroke="#8a3521" stroke-width="3.2" stroke-linecap="round" stroke-linejoin="round"/>
<path d="M802.0,621.0 C804.3,624.2 810.3,633.8 816.0,640.0 C821.7,646.2 829.3,653.0 836.0,658.0 C842.7,663.0 850.0,667.2 856.0,670.0 C862.0,672.8 869.3,674.2 872.0,675.0" fill="none" stroke="#8a3521" stroke-width="3.2" stroke-linecap="round" stroke-linejoin="round"/>
<path d="M842.0,642.0 C844.7,644.3 852.0,651.7 858.0,656.0 C864.0,660.3 871.3,664.7 878.0,668.0 C884.7,671.3 894.7,674.7 898.0,676.0" fill="none" stroke="#8a3521" stroke-width="3.0" stroke-linecap="round" stroke-linejoin="round"/>
<path d="M762.0,590.0 C762.7,593.7 763.0,604.3 766.0,612.0 C769.0,619.7 774.3,628.7 780.0,636.0 C785.7,643.3 793.0,650.0 800.0,656.0 C807.0,662.0 818.3,669.3 822.0,672.0" fill="none" stroke="#8a3521" stroke-width="2.2" stroke-linecap="round" stroke-linejoin="round"/>
<path d="M752.0,586.0 C752.3,589.3 752.3,599.0 754.0,606.0 C755.7,613.0 758.3,621.3 762.0,628.0 C765.7,634.7 773.7,643.0 776.0,646.0" fill="none" stroke="#8a3521" stroke-width="2.0" stroke-linecap="round" stroke-linejoin="round"/>
<path d="M788.0,618.0 C790.0,621.0 795.7,630.7 800.0,636.0 C804.3,641.3 811.7,647.7 814.0,650.0" fill="none" stroke="#8a3521" stroke-width="1.8" stroke-linecap="round" stroke-linejoin="round"/>
<path d="M820.0,642.0 C822.7,644.7 831.0,653.7 836.0,658.0 C841.0,662.3 847.7,666.3 850.0,668.0" fill="none" stroke="#8a3521" stroke-width="1.8" stroke-linecap="round" stroke-linejoin="round"/>
<path d="M862.0,660.0 C865.0,662.0 875.0,669.0 880.0,672.0 C885.0,675.0 890.0,677.0 892.0,678.0" fill="none" stroke="#8a3521" stroke-width="1.8" stroke-linecap="round" stroke-linejoin="round"/>
<path d="M884.0,666.0 L902.0,674.0" fill="none" stroke="#8a3521" stroke-width="1.8" stroke-linecap="round" stroke-linejoin="round"/>
<path d="M760.0,640.0 L768.0,650.0" fill="none" stroke="#8a3521" stroke-width="1.8" stroke-linecap="round" stroke-linejoin="round"/>
<path d="M790.0,660.0 L800.0,670.0" fill="none" stroke="#8a3521" stroke-width="1.6" stroke-linecap="round" stroke-linejoin="round"/>
<g>
<circle cx="190.4" cy="649.4" r="17.2" fill="#8a3521"/>
<circle cx="209.7" cy="646.7" r="17.2" fill="#8a3521"/>
<circle cx="237.4" cy="648.2" r="17.2" fill="#8a3521"/>
<circle cx="224.7" cy="633.1" r="17.2" fill="#8a3521"/>
<circle cx="191.1" cy="625.9" r="17.2" fill="#8a3521"/>
<circle cx="247.6" cy="625.9" r="17.2" fill="#8a3521"/>
<circle cx="207.6" cy="621.1" r="17.2" fill="#8a3521"/>
<circle cx="174.9" cy="616.8" r="17.2" fill="#8a3521"/>
<circle cx="230.8" cy="610.9" r="17.2" fill="#8a3521"/>
<circle cx="186.8" cy="597.0" r="17.2" fill="#8a3521"/>
<circle cx="204.1" cy="599.0" r="17.2" fill="#8a3521"/>
<circle cx="248.1" cy="602.8" r="17.2" fill="#8a3521"/>
<circle cx="219.4" cy="593.2" r="17.2" fill="#8a3521"/>
<circle cx="266.3" cy="598.8" r="17.2" fill="#8a3521"/>
<circle cx="176.1" cy="580.1" r="17.2" fill="#8a3521"/>
<circle cx="235.6" cy="585.6" r="17.2" fill="#8a3521"/>
<circle cx="196.0" cy="574.0" r="17.2" fill="#8a3521"/>
<circle cx="259.5" cy="577.1" r="17.2" fill="#8a3521"/>
<circle cx="212.5" cy="570.9" r="17.2" fill="#8a3521"/>
<circle cx="245.4" cy="566.4" r="17.2" fill="#8a3521"/>
<circle cx="173.5" cy="554.9" r="17.2" fill="#8a3521"/>
<circle cx="190.8" cy="552.9" r="17.2" fill="#8a3521"/>
<circle cx="225.6" cy="554.8" r="17.2" fill="#8a3521"/>
<circle cx="271.8" cy="559.3" r="17.2" fill="#8a3521"/>
<circle cx="210.8" cy="544.1" r="17.2" fill="#8a3521"/>
<circle cx="257.3" cy="544.0" r="17.2" fill="#8a3521"/>
<circle cx="240.5" cy="541.6" r="17.2" fill="#8a3521"/>
<circle cx="196.4" cy="529.5" r="17.2" fill="#8a3521"/>
<circle cx="222.0" cy="525.9" r="17.2" fill="#8a3521"/>
<circle cx="239.6" cy="517.4" r="17.2" fill="#8a3521"/>
<ellipse cx="220" cy="583.5" rx="51.3" ry="72.3" fill="#8a3521" transform="rotate(6.9 220 583.5)"/>
<circle cx="190.4" cy="649.4" r="15.7" fill="#8a3521"/>
<circle cx="190.4" cy="649.4" r="12.7" fill="#eb5c82"/>
<path d="M196.2,652.5 Q197.7,657.4 195.3,661.1" stroke="#8a3521" stroke-width="2.8" fill="none" stroke-linecap="round"/>
<path d="M193.7,649.7 Q194.1,656.5 190.6,662.1" stroke="#8a3521" stroke-width="2.8" fill="none" stroke-linecap="round"/>
<path d="M191.2,647.2 Q190.8,655.0 186.5,661.4" stroke="#8a3521" stroke-width="2.8" fill="none" stroke-linecap="round"/>
<path d="M187.6,647.7 Q187.2,654.2 182.8,659.5" stroke="#8a3521" stroke-width="2.8" fill="none" stroke-linecap="round"/>
<path d="M184.0,648.5 Q183.8,652.9 179.7,656.0" stroke="#8a3521" stroke-width="2.8" fill="none" stroke-linecap="round"/>
<circle cx="209.7" cy="646.7" r="15.7" fill="#8a3521"/>
<circle cx="209.7" cy="646.7" r="12.7" fill="#eb5c82"/>
<path d="M215.8,649.1 Q217.9,653.8 216.0,657.8" stroke="#8a3521" stroke-width="2.8" fill="none" stroke-linecap="round"/>
<path d="M213.0,646.6 Q214.3,653.4 211.5,659.4" stroke="#8a3521" stroke-width="2.8" fill="none" stroke-linecap="round"/>
<path d="M210.1,644.5 Q210.7,652.3 207.3,659.3" stroke="#8a3521" stroke-width="2.8" fill="none" stroke-linecap="round"/>
<path d="M206.7,645.4 Q207.0,652.0 203.4,657.8" stroke="#8a3521" stroke-width="2.8" fill="none" stroke-linecap="round"/>
<path d="M203.2,646.7 Q203.5,651.1 199.8,654.7" stroke="#8a3521" stroke-width="2.8" fill="none" stroke-linecap="round"/>
<circle cx="237.4" cy="648.2" r="15.0" fill="#8a3521"/>
<circle cx="237.4" cy="648.2" r="12.0" fill="#eb5c82"/>
<path d="M243.5,647.5 Q247.4,650.5 247.5,654.7" stroke="#8a3521" stroke-width="2.8" fill="none" stroke-linecap="round"/>
<path d="M240.1,646.7 Q244.1,651.7 244.5,658.0" stroke="#8a3521" stroke-width="2.8" fill="none" stroke-linecap="round"/>
<path d="M236.7,646.1 Q240.7,652.4 240.9,659.7" stroke="#8a3521" stroke-width="2.8" fill="none" stroke-linecap="round"/>
<path d="M234.3,648.4 Q237.5,653.8 237.0,660.2" stroke="#8a3521" stroke-width="2.8" fill="none" stroke-linecap="round"/>
<path d="M231.9,651.0 Q234.1,654.6 232.6,659.3" stroke="#8a3521" stroke-width="2.8" fill="none" stroke-linecap="round"/>
<circle cx="224.7" cy="633.1" r="16.0" fill="#8a3521"/>
<circle cx="224.7" cy="633.1" r="13.0" fill="#eb5c82"/>
<path d="M231.3,633.8 Q234.6,637.9 233.8,642.4" stroke="#8a3521" stroke-width="2.8" fill="none" stroke-linecap="round"/>
<path d="M227.9,632.1 Q230.9,638.4 229.7,645.1" stroke="#8a3521" stroke-width="2.8" fill="none" stroke-linecap="round"/>
<path d="M224.5,630.7 Q227.1,638.3 225.6,646.1" stroke="#8a3521" stroke-width="2.8" fill="none" stroke-linecap="round"/>
<path d="M221.3,632.6 Q223.4,639.0 221.3,645.7" stroke="#8a3521" stroke-width="2.8" fill="none" stroke-linecap="round"/>
<path d="M218.2,634.7 Q219.6,639.0 216.9,643.6" stroke="#8a3521" stroke-width="2.8" fill="none" stroke-linecap="round"/>
<circle cx="191.1" cy="625.9" r="15.3" fill="#8a3521"/>
<circle cx="191.1" cy="625.9" r="12.3" fill="#eb5c82"/>
<path d="M195.9,630.0 Q196.3,635.0 193.3,638.0" stroke="#8a3521" stroke-width="2.8" fill="none" stroke-linecap="round"/>
<path d="M194.1,626.9 Q193.1,633.4 188.7,638.0" stroke="#8a3521" stroke-width="2.8" fill="none" stroke-linecap="round"/>
<path d="M192.2,624.0 Q190.2,631.3 184.9,636.5" stroke="#8a3521" stroke-width="2.8" fill="none" stroke-linecap="round"/>
<path d="M188.7,623.8 Q187.0,629.9 181.8,634.0" stroke="#8a3521" stroke-width="2.8" fill="none" stroke-linecap="round"/>
<path d="M185.2,623.8 Q184.0,627.9 179.5,630.0" stroke="#8a3521" stroke-width="2.8" fill="none" stroke-linecap="round"/>
<circle cx="247.6" cy="625.9" r="15.6" fill="#8a3521"/>
<circle cx="247.6" cy="625.9" r="12.6" fill="#eb5c82"/>
<path d="M254.0,626.3 Q257.4,630.1 256.9,634.4" stroke="#8a3521" stroke-width="2.8" fill="none" stroke-linecap="round"/>
<path d="M250.6,624.8 Q253.9,630.8 253.1,637.2" stroke="#8a3521" stroke-width="2.8" fill="none" stroke-linecap="round"/>
<path d="M247.3,623.7 Q250.2,630.8 249.1,638.4" stroke="#8a3521" stroke-width="2.8" fill="none" stroke-linecap="round"/>
<path d="M244.3,625.6 Q246.7,631.7 245.0,638.3" stroke="#8a3521" stroke-width="2.8" fill="none" stroke-linecap="round"/>
<path d="M241.4,627.9 Q243.1,631.9 240.7,636.5" stroke="#8a3521" stroke-width="2.8" fill="none" stroke-linecap="round"/>
<circle cx="207.6" cy="621.1" r="15.6" fill="#8a3521"/>
<circle cx="207.6" cy="621.1" r="12.6" fill="#eb5c82"/>
<path d="M213.4,623.8 Q215.2,628.6 213.1,632.4" stroke="#8a3521" stroke-width="2.8" fill="none" stroke-linecap="round"/>
<path d="M210.8,621.2 Q211.6,627.9 208.6,633.6" stroke="#8a3521" stroke-width="2.8" fill="none" stroke-linecap="round"/>
<path d="M208.1,618.9 Q208.2,626.6 204.5,633.3" stroke="#8a3521" stroke-width="2.8" fill="none" stroke-linecap="round"/>
<path d="M204.7,619.6 Q204.6,626.1 200.7,631.6" stroke="#8a3521" stroke-width="2.8" fill="none" stroke-linecap="round"/>
<path d="M201.1,620.6 Q201.2,625.0 197.3,628.4" stroke="#8a3521" stroke-width="2.8" fill="none" stroke-linecap="round"/>
<circle cx="174.9" cy="616.8" r="15.2" fill="#8a3521"/>
<circle cx="174.9" cy="616.8" r="12.2" fill="#eb5c82"/>
<path d="M179.4,621.1 Q179.5,626.1 176.3,628.9" stroke="#8a3521" stroke-width="2.8" fill="none" stroke-linecap="round"/>
<path d="M177.8,617.9 Q176.4,624.3 171.8,628.6" stroke="#8a3521" stroke-width="2.8" fill="none" stroke-linecap="round"/>
<path d="M176.1,615.0 Q173.8,622.0 168.2,626.9" stroke="#8a3521" stroke-width="2.8" fill="none" stroke-linecap="round"/>
<path d="M172.7,614.5 Q170.6,620.4 165.2,624.2" stroke="#8a3521" stroke-width="2.8" fill="none" stroke-linecap="round"/>
<path d="M169.2,614.3 Q167.8,618.3 163.2,620.2" stroke="#8a3521" stroke-width="2.8" fill="none" stroke-linecap="round"/>
<circle cx="230.8" cy="610.9" r="16.1" fill="#8a3521"/>
<circle cx="230.8" cy="610.9" r="13.1" fill="#eb5c82"/>
<path d="M237.4,611.9 Q240.6,616.3 239.6,620.7" stroke="#8a3521" stroke-width="2.8" fill="none" stroke-linecap="round"/>
<path d="M234.1,610.1 Q236.8,616.6 235.4,623.2" stroke="#8a3521" stroke-width="2.8" fill="none" stroke-linecap="round"/>
<path d="M230.7,608.6 Q233.0,616.3 231.2,624.0" stroke="#8a3521" stroke-width="2.8" fill="none" stroke-linecap="round"/>
<path d="M227.5,610.3 Q229.3,616.8 226.9,623.4" stroke="#8a3521" stroke-width="2.8" fill="none" stroke-linecap="round"/>
<path d="M224.2,612.3 Q225.5,616.7 222.6,621.1" stroke="#8a3521" stroke-width="2.8" fill="none" stroke-linecap="round"/>
<circle cx="186.8" cy="597.0" r="15.9" fill="#8a3521"/>
<circle cx="186.8" cy="597.0" r="12.9" fill="#eb5c82"/>
<path d="M191.9,601.2 Q192.4,606.5 189.3,609.7" stroke="#8a3521" stroke-width="2.8" fill="none" stroke-linecap="round"/>
<path d="M190.0,598.0 Q189.0,604.9 184.5,609.7" stroke="#8a3521" stroke-width="2.8" fill="none" stroke-linecap="round"/>
<path d="M187.9,595.0 Q186.0,602.7 180.5,608.3" stroke="#8a3521" stroke-width="2.8" fill="none" stroke-linecap="round"/>
<path d="M184.3,594.8 Q182.5,601.2 177.2,605.7" stroke="#8a3521" stroke-width="2.8" fill="none" stroke-linecap="round"/>
<path d="M180.5,594.9 Q179.4,599.2 174.7,601.6" stroke="#8a3521" stroke-width="2.8" fill="none" stroke-linecap="round"/>
<circle cx="204.1" cy="599.0" r="15.0" fill="#8a3521"/>
<circle cx="204.1" cy="599.0" r="12.0" fill="#eb5c82"/>
<path d="M209.5,602.1 Q210.7,606.8 208.3,610.3" stroke="#8a3521" stroke-width="2.8" fill="none" stroke-linecap="round"/>
<path d="M207.2,599.4 Q207.4,605.9 203.9,611.0" stroke="#8a3521" stroke-width="2.8" fill="none" stroke-linecap="round"/>
<path d="M204.9,596.9 Q204.3,604.3 200.0,610.3" stroke="#8a3521" stroke-width="2.8" fill="none" stroke-linecap="round"/>
<path d="M201.5,597.3 Q200.9,603.5 196.6,608.3" stroke="#8a3521" stroke-width="2.8" fill="none" stroke-linecap="round"/>
<path d="M198.1,597.9 Q197.7,602.1 193.7,604.9" stroke="#8a3521" stroke-width="2.8" fill="none" stroke-linecap="round"/>
<circle cx="248.1" cy="602.8" r="15.7" fill="#8a3521"/>
<circle cx="248.1" cy="602.8" r="12.7" fill="#eb5c82"/>
<path d="M254.6,602.3 Q258.6,605.6 258.6,610.1" stroke="#8a3521" stroke-width="2.8" fill="none" stroke-linecap="round"/>
<path d="M251.0,601.3 Q255.1,606.8 255.2,613.4" stroke="#8a3521" stroke-width="2.8" fill="none" stroke-linecap="round"/>
<path d="M247.5,600.6 Q251.4,607.4 251.4,615.1" stroke="#8a3521" stroke-width="2.8" fill="none" stroke-linecap="round"/>
<path d="M244.8,603.0 Q248.0,608.7 247.2,615.5" stroke="#8a3521" stroke-width="2.8" fill="none" stroke-linecap="round"/>
<path d="M242.2,605.6 Q244.4,609.5 242.7,614.4" stroke="#8a3521" stroke-width="2.8" fill="none" stroke-linecap="round"/>
<circle cx="219.4" cy="593.2" r="15.0" fill="#8a3521"/>
<circle cx="219.4" cy="593.2" r="12.0" fill="#eb5c82"/>
<path d="M225.0,595.6 Q226.9,600.2 224.9,603.9" stroke="#8a3521" stroke-width="2.8" fill="none" stroke-linecap="round"/>
<path d="M222.5,593.3 Q223.4,599.6 220.6,605.2" stroke="#8a3521" stroke-width="2.8" fill="none" stroke-linecap="round"/>
<path d="M219.8,591.1 Q220.1,598.5 216.7,604.9" stroke="#8a3521" stroke-width="2.8" fill="none" stroke-linecap="round"/>
<path d="M216.6,591.9 Q216.7,598.1 213.1,603.5" stroke="#8a3521" stroke-width="2.8" fill="none" stroke-linecap="round"/>
<path d="M213.2,592.9 Q213.4,597.1 209.8,600.4" stroke="#8a3521" stroke-width="2.8" fill="none" stroke-linecap="round"/>
<circle cx="266.3" cy="598.8" r="15.6" fill="#8a3521"/>
<circle cx="266.3" cy="598.8" r="12.6" fill="#eb5c82"/>
<path d="M272.7,598.0 Q276.7,601.2 276.9,605.5" stroke="#8a3521" stroke-width="2.8" fill="none" stroke-linecap="round"/>
<path d="M269.1,597.2 Q273.3,602.5 273.7,609.0" stroke="#8a3521" stroke-width="2.8" fill="none" stroke-linecap="round"/>
<path d="M265.6,596.7 Q269.8,603.2 270.0,610.8" stroke="#8a3521" stroke-width="2.8" fill="none" stroke-linecap="round"/>
<path d="M263.1,599.1 Q266.4,604.7 266.0,611.4" stroke="#8a3521" stroke-width="2.8" fill="none" stroke-linecap="round"/>
<path d="M260.6,601.8 Q262.9,605.5 261.4,610.4" stroke="#8a3521" stroke-width="2.8" fill="none" stroke-linecap="round"/>
<circle cx="176.1" cy="580.1" r="16.1" fill="#8a3521"/>
<circle cx="176.1" cy="580.1" r="13.1" fill="#eb5c82"/>
<path d="M180.7,585.0 Q180.5,590.3 177.0,593.1" stroke="#8a3521" stroke-width="2.8" fill="none" stroke-linecap="round"/>
<path d="M179.2,581.4 Q177.4,588.2 172.1,592.5" stroke="#8a3521" stroke-width="2.8" fill="none" stroke-linecap="round"/>
<path d="M177.5,578.2 Q174.6,585.6 168.3,590.6" stroke="#8a3521" stroke-width="2.8" fill="none" stroke-linecap="round"/>
<path d="M173.9,577.5 Q171.3,583.7 165.3,587.5" stroke="#8a3521" stroke-width="2.8" fill="none" stroke-linecap="round"/>
<path d="M170.1,577.1 Q168.4,581.3 163.3,583.0" stroke="#8a3521" stroke-width="2.8" fill="none" stroke-linecap="round"/>
<circle cx="235.6" cy="585.6" r="16.2" fill="#8a3521"/>
<circle cx="235.6" cy="585.6" r="13.2" fill="#eb5c82"/>
<path d="M242.3,586.2 Q245.7,590.4 245.0,594.9" stroke="#8a3521" stroke-width="2.8" fill="none" stroke-linecap="round"/>
<path d="M238.9,584.6 Q242.0,591.0 240.9,597.7" stroke="#8a3521" stroke-width="2.8" fill="none" stroke-linecap="round"/>
<path d="M235.4,583.3 Q238.2,590.8 236.7,598.7" stroke="#8a3521" stroke-width="2.8" fill="none" stroke-linecap="round"/>
<path d="M232.2,585.2 Q234.4,591.6 232.4,598.4" stroke="#8a3521" stroke-width="2.8" fill="none" stroke-linecap="round"/>
<path d="M229.1,587.4 Q230.6,591.7 228.0,596.3" stroke="#8a3521" stroke-width="2.8" fill="none" stroke-linecap="round"/>
<circle cx="196.0" cy="574.0" r="16.0" fill="#8a3521"/>
<circle cx="196.0" cy="574.0" r="13.0" fill="#eb5c82"/>
<path d="M201.7,577.5 Q202.9,582.7 200.2,586.3" stroke="#8a3521" stroke-width="2.8" fill="none" stroke-linecap="round"/>
<path d="M199.3,574.5 Q199.3,581.5 195.4,587.0" stroke="#8a3521" stroke-width="2.8" fill="none" stroke-linecap="round"/>
<path d="M196.9,571.9 Q196.0,579.8 191.2,586.1" stroke="#8a3521" stroke-width="2.8" fill="none" stroke-linecap="round"/>
<path d="M193.2,572.1 Q192.3,578.8 187.6,583.9" stroke="#8a3521" stroke-width="2.8" fill="none" stroke-linecap="round"/>
<path d="M189.5,572.7 Q188.9,577.2 184.5,580.2" stroke="#8a3521" stroke-width="2.8" fill="none" stroke-linecap="round"/>
<circle cx="259.5" cy="577.1" r="16.2" fill="#8a3521"/>
<circle cx="259.5" cy="577.1" r="13.2" fill="#eb5c82"/>
<path d="M266.2,577.1 Q270.0,581.0 269.6,585.5" stroke="#8a3521" stroke-width="2.8" fill="none" stroke-linecap="round"/>
<path d="M262.6,575.8 Q266.3,581.9 265.8,588.6" stroke="#8a3521" stroke-width="2.8" fill="none" stroke-linecap="round"/>
<path d="M259.1,574.7 Q262.5,582.0 261.7,590.1" stroke="#8a3521" stroke-width="2.8" fill="none" stroke-linecap="round"/>
<path d="M256.1,576.9 Q258.8,583.1 257.4,590.1" stroke="#8a3521" stroke-width="2.8" fill="none" stroke-linecap="round"/>
<path d="M253.1,579.4 Q255.0,583.5 252.7,588.4" stroke="#8a3521" stroke-width="2.8" fill="none" stroke-linecap="round"/>
<circle cx="212.5" cy="570.9" r="15.1" fill="#8a3521"/>
<circle cx="212.5" cy="570.9" r="12.1" fill="#eb5c82"/>
<path d="M218.5,572.7 Q220.8,577.0 219.3,580.9" stroke="#8a3521" stroke-width="2.8" fill="none" stroke-linecap="round"/>
<path d="M215.7,570.6 Q217.3,576.9 215.2,582.7" stroke="#8a3521" stroke-width="2.8" fill="none" stroke-linecap="round"/>
<path d="M212.8,568.8 Q213.9,576.1 211.2,583.0" stroke="#8a3521" stroke-width="2.8" fill="none" stroke-linecap="round"/>
<path d="M209.6,569.9 Q210.4,576.1 207.4,581.9" stroke="#8a3521" stroke-width="2.8" fill="none" stroke-linecap="round"/>
<path d="M206.4,571.3 Q207.0,575.5 203.8,579.2" stroke="#8a3521" stroke-width="2.8" fill="none" stroke-linecap="round"/>
<circle cx="245.4" cy="566.4" r="15.2" fill="#8a3521"/>
<circle cx="245.4" cy="566.4" r="12.2" fill="#eb5c82"/>
<path d="M251.6,567.6 Q254.4,571.7 253.3,575.8" stroke="#8a3521" stroke-width="2.8" fill="none" stroke-linecap="round"/>
<path d="M248.5,565.8 Q250.9,571.9 249.3,578.1" stroke="#8a3521" stroke-width="2.8" fill="none" stroke-linecap="round"/>
<path d="M245.4,564.2 Q247.3,571.5 245.3,578.7" stroke="#8a3521" stroke-width="2.8" fill="none" stroke-linecap="round"/>
<path d="M242.3,565.7 Q243.8,571.9 241.4,578.0" stroke="#8a3521" stroke-width="2.8" fill="none" stroke-linecap="round"/>
<path d="M239.2,567.5 Q240.3,571.6 237.4,575.7" stroke="#8a3521" stroke-width="2.8" fill="none" stroke-linecap="round"/>
<circle cx="173.5" cy="554.9" r="15.5" fill="#8a3521"/>
<circle cx="173.5" cy="554.9" r="12.5" fill="#eb5c82"/>
<path d="M177.8,559.7 Q177.5,564.8 174.0,567.4" stroke="#8a3521" stroke-width="2.8" fill="none" stroke-linecap="round"/>
<path d="M176.4,556.3 Q174.5,562.8 169.4,566.8" stroke="#8a3521" stroke-width="2.8" fill="none" stroke-linecap="round"/>
<path d="M174.9,553.1 Q171.9,560.2 165.8,564.8" stroke="#8a3521" stroke-width="2.8" fill="none" stroke-linecap="round"/>
<path d="M171.4,552.4 Q168.8,558.3 163.0,561.8" stroke="#8a3521" stroke-width="2.8" fill="none" stroke-linecap="round"/>
<path d="M167.8,551.9 Q166.1,555.9 161.2,557.5" stroke="#8a3521" stroke-width="2.8" fill="none" stroke-linecap="round"/>
<circle cx="190.8" cy="552.9" r="15.4" fill="#8a3521"/>
<circle cx="190.8" cy="552.9" r="12.4" fill="#eb5c82"/>
<path d="M195.9,556.7 Q196.6,561.7 193.7,564.9" stroke="#8a3521" stroke-width="2.8" fill="none" stroke-linecap="round"/>
<path d="M193.9,553.7 Q193.3,560.3 189.1,565.1" stroke="#8a3521" stroke-width="2.8" fill="none" stroke-linecap="round"/>
<path d="M191.8,550.9 Q190.3,558.3 185.2,563.9" stroke="#8a3521" stroke-width="2.8" fill="none" stroke-linecap="round"/>
<path d="M188.4,550.8 Q186.9,557.1 182.0,561.5" stroke="#8a3521" stroke-width="2.8" fill="none" stroke-linecap="round"/>
<path d="M184.8,551.0 Q183.9,555.2 179.4,557.6" stroke="#8a3521" stroke-width="2.8" fill="none" stroke-linecap="round"/>
<circle cx="225.6" cy="554.8" r="15.5" fill="#8a3521"/>
<circle cx="225.6" cy="554.8" r="12.5" fill="#eb5c82"/>
<path d="M231.8,556.2 Q234.5,560.5 233.1,564.7" stroke="#8a3521" stroke-width="2.8" fill="none" stroke-linecap="round"/>
<path d="M228.7,554.2 Q230.9,560.6 229.0,566.7" stroke="#8a3521" stroke-width="2.8" fill="none" stroke-linecap="round"/>
<path d="M225.7,552.5 Q227.3,560.0 224.9,567.2" stroke="#8a3521" stroke-width="2.8" fill="none" stroke-linecap="round"/>
<path d="M222.5,553.9 Q223.7,560.2 220.9,566.3" stroke="#8a3521" stroke-width="2.8" fill="none" stroke-linecap="round"/>
<path d="M219.2,555.6 Q220.1,559.8 217.0,563.8" stroke="#8a3521" stroke-width="2.8" fill="none" stroke-linecap="round"/>
<circle cx="271.8" cy="559.3" r="15.7" fill="#8a3521"/>
<circle cx="271.8" cy="559.3" r="12.7" fill="#eb5c82"/>
<path d="M278.2,558.2 Q282.5,561.2 282.9,565.6" stroke="#8a3521" stroke-width="2.8" fill="none" stroke-linecap="round"/>
<path d="M274.6,557.5 Q279.1,562.7 279.8,569.2" stroke="#8a3521" stroke-width="2.8" fill="none" stroke-linecap="round"/>
<path d="M271.0,557.2 Q275.5,563.5 276.2,571.3" stroke="#8a3521" stroke-width="2.8" fill="none" stroke-linecap="round"/>
<path d="M268.5,559.7 Q272.2,565.2 272.1,572.0" stroke="#8a3521" stroke-width="2.8" fill="none" stroke-linecap="round"/>
<path d="M266.2,562.6 Q268.7,566.2 267.4,571.2" stroke="#8a3521" stroke-width="2.8" fill="none" stroke-linecap="round"/>
<circle cx="210.8" cy="544.1" r="16.1" fill="#8a3521"/>
<circle cx="210.8" cy="544.1" r="13.1" fill="#eb5c82"/>
<path d="M216.7,547.3 Q218.2,552.5 215.6,556.3" stroke="#8a3521" stroke-width="2.8" fill="none" stroke-linecap="round"/>
<path d="M214.2,544.4 Q214.5,551.5 210.8,557.2" stroke="#8a3521" stroke-width="2.8" fill="none" stroke-linecap="round"/>
<path d="M211.6,541.8 Q211.1,549.8 206.6,556.5" stroke="#8a3521" stroke-width="2.8" fill="none" stroke-linecap="round"/>
<path d="M207.9,542.3 Q207.3,549.1 202.8,554.5" stroke="#8a3521" stroke-width="2.8" fill="none" stroke-linecap="round"/>
<path d="M204.1,543.1 Q203.8,547.6 199.5,550.8" stroke="#8a3521" stroke-width="2.8" fill="none" stroke-linecap="round"/>
<circle cx="257.3" cy="544.0" r="16.2" fill="#8a3521"/>
<circle cx="257.3" cy="544.0" r="13.2" fill="#eb5c82"/>
<path d="M264.1,544.4 Q267.6,548.4 267.0,553.0" stroke="#8a3521" stroke-width="2.8" fill="none" stroke-linecap="round"/>
<path d="M260.5,542.9 Q263.9,549.1 263.0,555.9" stroke="#8a3521" stroke-width="2.8" fill="none" stroke-linecap="round"/>
<path d="M257.0,541.7 Q260.1,549.1 258.9,557.1" stroke="#8a3521" stroke-width="2.8" fill="none" stroke-linecap="round"/>
<path d="M253.9,543.7 Q256.3,550.0 254.6,556.9" stroke="#8a3521" stroke-width="2.8" fill="none" stroke-linecap="round"/>
<path d="M250.9,546.0 Q252.5,550.2 250.0,555.0" stroke="#8a3521" stroke-width="2.8" fill="none" stroke-linecap="round"/>
<circle cx="240.5" cy="541.6" r="16.2" fill="#8a3521"/>
<circle cx="240.5" cy="541.6" r="13.2" fill="#eb5c82"/>
<path d="M247.1,542.8 Q250.2,547.3 249.0,551.7" stroke="#8a3521" stroke-width="2.8" fill="none" stroke-linecap="round"/>
<path d="M243.8,540.9 Q246.4,547.5 244.7,554.1" stroke="#8a3521" stroke-width="2.8" fill="none" stroke-linecap="round"/>
<path d="M240.5,539.2 Q242.6,547.0 240.4,554.8" stroke="#8a3521" stroke-width="2.8" fill="none" stroke-linecap="round"/>
<path d="M237.1,540.8 Q238.7,547.5 236.1,554.1" stroke="#8a3521" stroke-width="2.8" fill="none" stroke-linecap="round"/>
<path d="M233.8,542.8 Q234.9,547.2 231.8,551.7" stroke="#8a3521" stroke-width="2.8" fill="none" stroke-linecap="round"/>
<circle cx="196.4" cy="529.5" r="15.2" fill="#8a3521"/>
<circle cx="196.4" cy="529.5" r="12.2" fill="#eb5c82"/>
<path d="M201.1,533.6 Q201.4,538.6 198.3,541.5" stroke="#8a3521" stroke-width="2.8" fill="none" stroke-linecap="round"/>
<path d="M199.4,530.5 Q198.3,536.9 193.8,541.3" stroke="#8a3521" stroke-width="2.8" fill="none" stroke-linecap="round"/>
<path d="M197.6,527.6 Q195.5,534.7 190.1,539.8" stroke="#8a3521" stroke-width="2.8" fill="none" stroke-linecap="round"/>
<path d="M194.2,527.3 Q192.3,533.3 187.1,537.2" stroke="#8a3521" stroke-width="2.8" fill="none" stroke-linecap="round"/>
<path d="M190.6,527.2 Q189.4,531.2 184.9,533.3" stroke="#8a3521" stroke-width="2.8" fill="none" stroke-linecap="round"/>
<circle cx="222.0" cy="525.9" r="16.2" fill="#8a3521"/>
<circle cx="222.0" cy="525.9" r="13.2" fill="#eb5c82"/>
<path d="M228.1,529.0 Q229.7,534.1 227.3,538.0" stroke="#8a3521" stroke-width="2.8" fill="none" stroke-linecap="round"/>
<path d="M225.4,526.1 Q226.0,533.2 222.5,539.1" stroke="#8a3521" stroke-width="2.8" fill="none" stroke-linecap="round"/>
<path d="M222.7,523.6 Q222.5,531.7 218.2,538.5" stroke="#8a3521" stroke-width="2.8" fill="none" stroke-linecap="round"/>
<path d="M219.0,524.2 Q218.7,531.0 214.3,536.6" stroke="#8a3521" stroke-width="2.8" fill="none" stroke-linecap="round"/>
<path d="M215.3,525.1 Q215.1,529.7 210.9,533.0" stroke="#8a3521" stroke-width="2.8" fill="none" stroke-linecap="round"/>
<circle cx="239.6" cy="517.4" r="15.7" fill="#8a3521"/>
<circle cx="239.6" cy="517.4" r="12.7" fill="#eb5c82"/>
<path d="M246.0,518.9 Q248.7,523.3 247.3,527.5" stroke="#8a3521" stroke-width="2.8" fill="none" stroke-linecap="round"/>
<path d="M242.9,516.9 Q245.0,523.4 243.1,529.6" stroke="#8a3521" stroke-width="2.8" fill="none" stroke-linecap="round"/>
<path d="M239.8,515.1 Q241.4,522.7 238.9,530.1" stroke="#8a3521" stroke-width="2.8" fill="none" stroke-linecap="round"/>
<path d="M236.5,516.5 Q237.7,523.0 234.9,529.2" stroke="#8a3521" stroke-width="2.8" fill="none" stroke-linecap="round"/>
<path d="M233.2,518.2 Q234.1,522.5 230.9,526.6" stroke="#8a3521" stroke-width="2.8" fill="none" stroke-linecap="round"/>
</g>
<path d="M244.0,655.0 C246.2,652.0 252.7,650.5 256.0,650.0 C259.3,649.5 263.0,649.7 264.0,652.0 C265.0,654.3 263.3,660.0 262.0,664.0 C260.7,668.0 257.7,671.7 256.0,676.0 C254.3,680.3 253.5,686.0 252.0,690.0 C250.5,694.0 248.0,701.0 247.0,700.0 C246.0,699.0 246.7,689.3 246.0,684.0 C245.3,678.7 243.3,672.8 243.0,668.0 C242.7,663.2 241.8,658.0 244.0,655.0Z" fill="#b1d45f" stroke="#8a3521" stroke-width="3.0" stroke-linejoin="round" stroke-linecap="round" />
<path d="M232.0,660.0 C233.5,657.7 238.0,655.3 240.0,656.0 C242.0,656.7 243.7,660.3 244.0,664.0 C244.3,667.7 243.3,673.3 242.0,678.0 C240.7,682.7 237.8,688.0 236.0,692.0 C234.2,696.0 231.7,703.3 231.0,702.0 C230.3,700.7 232.0,689.3 232.0,684.0 C232.0,678.7 231.0,674.0 231.0,670.0 C231.0,666.0 230.5,662.3 232.0,660.0Z" fill="#e2dd7a" stroke="#8a3521" stroke-width="3.0" stroke-linejoin="round" stroke-linecap="round" />
<path d="M233.5,664.0 L241.0,660.0" fill="none" stroke="#8a3521" stroke-width="1.6" stroke-linecap="round" stroke-linejoin="round"/>
<path d="M233.5,671.0 L241.0,667.0" fill="none" stroke="#8a3521" stroke-width="1.6" stroke-linecap="round" stroke-linejoin="round"/>
<path d="M233.5,678.0 L241.0,674.0" fill="none" stroke="#8a3521" stroke-width="1.6" stroke-linecap="round" stroke-linejoin="round"/>
<path d="M233.5,685.0 L241.0,681.0" fill="none" stroke="#8a3521" stroke-width="1.6" stroke-linecap="round" stroke-linejoin="round"/>
<path d="M250.0,658.0 C250.3,660.3 252.0,667.0 252.0,672.0 C252.0,677.0 250.3,685.3 250.0,688.0" fill="none" stroke="#8a3521" stroke-width="1.6" stroke-linecap="round" stroke-linejoin="round"/>
<path d="M266.0,646.0 C267.0,644.0 272.3,640.3 274.0,642.0 C275.7,643.7 277.0,654.0 276.0,656.0 C275.0,658.0 269.7,655.7 268.0,654.0 C266.3,652.3 265.0,648.0 266.0,646.0Z" fill="#b1d45f" stroke="#8a3521" stroke-width="2.4" stroke-linejoin="round" stroke-linecap="round" />
<path d="M68.0,920.0 C66.0,924.0 61.0,935.3 56.0,944.0 C51.0,952.7 44.0,962.7 38.0,972.0 C32.0,981.3 25.7,991.7 20.0,1000.0 C14.3,1008.3 6.7,1018.3 4.0,1022.0" fill="none" stroke="#8a3521" stroke-width="10.5" stroke-linecap="round" stroke-linejoin="round"/>
<path d="M68.0,920.0 C66.0,924.0 61.0,935.3 56.0,944.0 C51.0,952.7 44.0,962.7 38.0,972.0 C32.0,981.3 25.7,991.7 20.0,1000.0 C14.3,1008.3 6.7,1018.3 4.0,1022.0" fill="none" stroke="#b1d45f" stroke-width="5.2" stroke-linecap="round" stroke-linejoin="round"/>
<path d="M14.0,1018.0 C20.0,1018.2 37.3,1019.2 50.0,1019.0 C62.7,1018.8 76.0,1018.0 90.0,1017.0 C104.0,1016.0 126.7,1013.7 134.0,1013.0" fill="none" stroke="#8a3521" stroke-width="10" stroke-linecap="round" stroke-linejoin="round"/>
<path d="M14.0,1018.0 C20.0,1018.2 37.3,1019.2 50.0,1019.0 C62.7,1018.8 76.0,1018.0 90.0,1017.0 C104.0,1016.0 126.7,1013.7 134.0,1013.0" fill="none" stroke="#b1d45f" stroke-width="4.8" stroke-linecap="round" stroke-linejoin="round"/>
<path d="M62.5,926.8 L66.0,929.2" fill="none" stroke="#8a3521" stroke-width="1.5" stroke-linecap="round" stroke-linejoin="round"/>
<path d="M55.8,937.0 L59.2,939.5" fill="none" stroke="#8a3521" stroke-width="1.5" stroke-linecap="round" stroke-linejoin="round"/>
<path d="M49.0,947.3 L52.5,949.7" fill="none" stroke="#8a3521" stroke-width="1.5" stroke-linecap="round" stroke-linejoin="round"/>
<path d="M42.2,957.5 L45.8,960.0" fill="none" stroke="#8a3521" stroke-width="1.5" stroke-linecap="round" stroke-linejoin="round"/>
<path d="M35.5,967.8 L39.0,970.2" fill="none" stroke="#8a3521" stroke-width="1.5" stroke-linecap="round" stroke-linejoin="round"/>
<path d="M28.8,978.0 L32.2,980.5" fill="none" stroke="#8a3521" stroke-width="1.5" stroke-linecap="round" stroke-linejoin="round"/>
<path d="M22.0,988.3 L25.5,990.7" fill="none" stroke="#8a3521" stroke-width="1.5" stroke-linecap="round" stroke-linejoin="round"/>
<path d="M15.2,998.5 L18.8,1001.0" fill="none" stroke="#8a3521" stroke-width="1.5" stroke-linecap="round" stroke-linejoin="round"/>
<path d="M8.5,1008.8 L12.0,1011.2" fill="none" stroke="#8a3521" stroke-width="1.5" stroke-linecap="round" stroke-linejoin="round"/>
<path d="M30.0,1016.5 L30.0,1019.5" fill="none" stroke="#8a3521" stroke-width="1.4" stroke-linecap="round" stroke-linejoin="round"/>
<path d="M39.0,1016.5 L39.0,1019.5" fill="none" stroke="#8a3521" stroke-width="1.4" stroke-linecap="round" stroke-linejoin="round"/>
<path d="M48.0,1016.5 L48.0,1019.5" fill="none" stroke="#8a3521" stroke-width="1.4" stroke-linecap="round" stroke-linejoin="round"/>
<path d="M57.0,1016.5 L57.0,1019.5" fill="none" stroke="#8a3521" stroke-width="1.4" stroke-linecap="round" stroke-linejoin="round"/>
<path d="M66.0,1016.5 L66.0,1019.5" fill="none" stroke="#8a3521" stroke-width="1.4" stroke-linecap="round" stroke-linejoin="round"/>
<path d="M75.0,1016.5 L75.0,1019.5" fill="none" stroke="#8a3521" stroke-width="1.4" stroke-linecap="round" stroke-linejoin="round"/>
<path d="M84.0,1016.5 L84.0,1019.5" fill="none" stroke="#8a3521" stroke-width="1.4" stroke-linecap="round" stroke-linejoin="round"/>
<path d="M93.0,1016.5 L93.0,1019.5" fill="none" stroke="#8a3521" stroke-width="1.4" stroke-linecap="round" stroke-linejoin="round"/>
<path d="M102.0,1016.5 L102.0,1019.5" fill="none" stroke="#8a3521" stroke-width="1.4" stroke-linecap="round" stroke-linejoin="round"/>
<path d="M111.0,1016.5 L111.0,1019.5" fill="none" stroke="#8a3521" stroke-width="1.4" stroke-linecap="round" stroke-linejoin="round"/>
<path d="M120.0,1016.5 L120.0,1019.5" fill="none" stroke="#8a3521" stroke-width="1.4" stroke-linecap="round" stroke-linejoin="round"/>
<path d="M129.0,1016.5 L129.0,1019.5" fill="none" stroke="#8a3521" stroke-width="1.4" stroke-linecap="round" stroke-linejoin="round"/>
<path d="M46.0,889.0 C44.3,887.2 39.7,886.2 36.0,886.0 C32.3,885.8 28.0,886.2 24.0,888.0 C20.0,889.8 12.0,895.8 12.0,897.0 C12.0,898.2 20.3,895.2 24.0,895.0 C27.7,894.8 30.3,895.7 34.0,896.0 C37.7,896.3 44.0,898.2 46.0,897.0 C48.0,895.8 47.7,890.8 46.0,889.0Z" fill="#b1d45f" stroke="#8a3521" stroke-width="2.8" stroke-linejoin="round" stroke-linecap="round" />
<path d="M56.0,902.0 C53.3,901.2 47.7,901.7 44.0,903.0 C40.3,904.3 37.0,907.2 34.0,910.0 C31.0,912.8 25.0,919.0 26.0,920.0 C27.0,921.0 36.0,917.0 40.0,916.0 C44.0,915.0 46.7,915.3 50.0,914.0 C53.3,912.7 59.0,910.0 60.0,908.0 C61.0,906.0 58.7,902.8 56.0,902.0Z" fill="#b1d45f" stroke="#8a3521" stroke-width="2.8" stroke-linejoin="round" stroke-linecap="round" />
<path d="M66.0,912.0 C63.7,911.3 58.7,913.7 56.0,916.0 C53.3,918.3 51.0,921.3 50.0,926.0 C49.0,930.7 49.0,942.7 50.0,944.0 C51.0,945.3 53.7,937.0 56.0,934.0 C58.3,931.0 61.7,928.3 64.0,926.0 C66.3,923.7 69.7,922.3 70.0,920.0 C70.3,917.7 68.3,912.7 66.0,912.0Z" fill="#b1d45f" stroke="#8a3521" stroke-width="2.8" stroke-linejoin="round" stroke-linecap="round" />
<path d="M74.0,916.0 C72.7,917.3 72.0,922.3 72.0,926.0 C72.0,929.7 72.7,934.3 74.0,938.0 C75.3,941.7 78.7,948.3 80.0,948.0 C81.3,947.7 81.7,939.7 82.0,936.0 C82.3,932.3 82.3,929.0 82.0,926.0 C81.7,923.0 81.3,919.7 80.0,918.0 C78.7,916.3 75.3,914.7 74.0,916.0Z" fill="#b1d45f" stroke="#8a3521" stroke-width="2.8" stroke-linejoin="round" stroke-linecap="round" />
<path d="M88.0,918.0 C87.7,919.3 90.3,923.0 92.0,926.0 C93.7,929.0 96.3,931.7 98.0,936.0 C99.7,940.3 101.0,951.7 102.0,952.0 C103.0,952.3 104.3,942.3 104.0,938.0 C103.7,933.7 101.7,929.3 100.0,926.0 C98.3,922.7 96.0,919.3 94.0,918.0 C92.0,916.7 88.3,916.7 88.0,918.0Z" fill="#b1d45f" stroke="#8a3521" stroke-width="2.8" stroke-linejoin="round" stroke-linecap="round" />
<g>
<circle cx="81.2" cy="917.8" r="13.4" fill="#8a3521"/>
<circle cx="59.8" cy="902.1" r="13.4" fill="#8a3521"/>
<circle cx="75.6" cy="904.7" r="13.4" fill="#8a3521"/>
<circle cx="97.4" cy="912.1" r="13.4" fill="#8a3521"/>
<circle cx="89.2" cy="899.5" r="13.4" fill="#8a3521"/>
<circle cx="63.6" cy="888.0" r="13.4" fill="#8a3521"/>
<circle cx="108.1" cy="900.9" r="13.4" fill="#8a3521"/>
<circle cx="121.8" cy="905.1" r="13.4" fill="#8a3521"/>
<circle cx="51.6" cy="879.0" r="13.4" fill="#8a3521"/>
<circle cx="77.6" cy="888.2" r="13.4" fill="#8a3521"/>
<circle cx="96.3" cy="886.9" r="13.4" fill="#8a3521"/>
<circle cx="44.4" cy="863.9" r="13.4" fill="#8a3521"/>
<circle cx="64.1" cy="869.9" r="13.4" fill="#8a3521"/>
<circle cx="110.9" cy="886.9" r="13.4" fill="#8a3521"/>
<circle cx="79.0" cy="874.3" r="13.4" fill="#8a3521"/>
<circle cx="126.4" cy="889.2" r="13.4" fill="#8a3521"/>
<circle cx="57.2" cy="857.5" r="13.4" fill="#8a3521"/>
<circle cx="101.1" cy="873.3" r="13.4" fill="#8a3521"/>
<circle cx="74.7" cy="859.0" r="13.4" fill="#8a3521"/>
<circle cx="88.9" cy="864.1" r="13.4" fill="#8a3521"/>
<circle cx="123.3" cy="874.6" r="13.4" fill="#8a3521"/>
<circle cx="112.7" cy="865.4" r="13.4" fill="#8a3521"/>
<circle cx="57.9" cy="841.8" r="13.4" fill="#8a3521"/>
<circle cx="98.7" cy="855.2" r="13.4" fill="#8a3521"/>
<circle cx="72.4" cy="845.0" r="13.4" fill="#8a3521"/>
<circle cx="135.8" cy="866.9" r="13.4" fill="#8a3521"/>
<circle cx="89.1" cy="844.8" r="13.4" fill="#8a3521"/>
<circle cx="125.9" cy="854.6" r="13.4" fill="#8a3521"/>
<circle cx="112.5" cy="849.6" r="13.4" fill="#8a3521"/>
<circle cx="79.4" cy="832.0" r="13.4" fill="#8a3521"/>
<circle cx="66.4" cy="826.5" r="13.4" fill="#8a3521"/>
<circle cx="100.1" cy="835.9" r="13.4" fill="#8a3521"/>
<circle cx="130.8" cy="841.1" r="13.4" fill="#8a3521"/>
<circle cx="115.2" cy="834.6" r="13.4" fill="#8a3521"/>
<circle cx="93.2" cy="823.2" r="13.4" fill="#8a3521"/>
<ellipse cx="91.5" cy="869.5" rx="48.0" ry="48.5" fill="#8a3521" transform="rotate(20.1 91.5 869.5)"/>
<circle cx="81.2" cy="917.8" r="12.1" fill="#8a3521"/>
<circle cx="81.2" cy="917.8" r="9.3" fill="#ec5255"/>
<path d="M84.8,919.5 Q85.4,923.7 83.2,926.9" stroke="#8a3521" stroke-width="2.8" fill="none" stroke-linecap="round"/>
<path d="M81.8,916.2 Q81.3,921.9 78.0,926.6" stroke="#8a3521" stroke-width="2.8" fill="none" stroke-linecap="round"/>
<path d="M77.4,916.8 Q77.0,920.6 73.8,923.4" stroke="#8a3521" stroke-width="2.8" fill="none" stroke-linecap="round"/>
<circle cx="59.8" cy="902.1" r="12.3" fill="#8a3521"/>
<circle cx="59.8" cy="902.1" r="9.5" fill="#ec5255"/>
<path d="M62.8,904.8 Q62.1,909.1 59.1,911.6" stroke="#8a3521" stroke-width="2.8" fill="none" stroke-linecap="round"/>
<path d="M60.8,900.7 Q58.7,906.1 54.1,909.7" stroke="#8a3521" stroke-width="2.8" fill="none" stroke-linecap="round"/>
<path d="M56.4,900.0 Q54.8,903.6 50.9,905.4" stroke="#8a3521" stroke-width="2.8" fill="none" stroke-linecap="round"/>
<circle cx="75.6" cy="904.7" r="12.3" fill="#8a3521"/>
<circle cx="75.6" cy="904.7" r="9.5" fill="#ec5255"/>
<path d="M79.4,906.0 Q80.5,910.2 78.7,913.7" stroke="#8a3521" stroke-width="2.8" fill="none" stroke-linecap="round"/>
<path d="M76.0,903.0 Q76.1,908.9 73.3,913.9" stroke="#8a3521" stroke-width="2.8" fill="none" stroke-linecap="round"/>
<path d="M71.6,904.1 Q71.6,908.0 68.7,911.2" stroke="#8a3521" stroke-width="2.8" fill="none" stroke-linecap="round"/>
<circle cx="97.4" cy="912.1" r="11.9" fill="#8a3521"/>
<circle cx="97.4" cy="912.1" r="9.1" fill="#ec5255"/>
<path d="M101.0,913.3 Q102.1,917.3 100.4,920.7" stroke="#8a3521" stroke-width="2.8" fill="none" stroke-linecap="round"/>
<path d="M97.8,910.5 Q97.9,916.0 95.2,920.9" stroke="#8a3521" stroke-width="2.8" fill="none" stroke-linecap="round"/>
<path d="M93.6,911.5 Q93.6,915.3 90.8,918.3" stroke="#8a3521" stroke-width="2.8" fill="none" stroke-linecap="round"/>
<circle cx="89.2" cy="899.5" r="12.1" fill="#8a3521"/>
<circle cx="89.2" cy="899.5" r="9.3" fill="#ec5255"/>
<path d="M92.7,901.3 Q93.2,905.5 91.0,908.6" stroke="#8a3521" stroke-width="2.8" fill="none" stroke-linecap="round"/>
<path d="M89.8,898.0 Q89.2,903.6 85.8,908.2" stroke="#8a3521" stroke-width="2.8" fill="none" stroke-linecap="round"/>
<path d="M85.4,898.5 Q84.9,902.3 81.7,905.0" stroke="#8a3521" stroke-width="2.8" fill="none" stroke-linecap="round"/>
<circle cx="63.6" cy="888.0" r="11.6" fill="#8a3521"/>
<circle cx="63.6" cy="888.0" r="8.8" fill="#ec5255"/>
<path d="M66.5,890.3 Q66.2,894.3 63.5,896.7" stroke="#8a3521" stroke-width="2.8" fill="none" stroke-linecap="round"/>
<path d="M64.5,886.6 Q62.8,891.7 58.8,895.3" stroke="#8a3521" stroke-width="2.8" fill="none" stroke-linecap="round"/>
<path d="M60.3,886.2 Q59.1,889.6 55.6,891.5" stroke="#8a3521" stroke-width="2.8" fill="none" stroke-linecap="round"/>
<circle cx="108.1" cy="900.9" r="11.7" fill="#8a3521"/>
<circle cx="108.1" cy="900.9" r="8.9" fill="#ec5255"/>
<path d="M111.8,901.4 Q113.6,905.0 112.5,908.6" stroke="#8a3521" stroke-width="2.8" fill="none" stroke-linecap="round"/>
<path d="M108.2,899.3 Q109.4,904.6 107.7,909.7" stroke="#8a3521" stroke-width="2.8" fill="none" stroke-linecap="round"/>
<path d="M104.4,901.0 Q105.1,904.6 103.0,908.1" stroke="#8a3521" stroke-width="2.8" fill="none" stroke-linecap="round"/>
<circle cx="121.8" cy="905.1" r="12.0" fill="#8a3521"/>
<circle cx="121.8" cy="905.1" r="9.2" fill="#ec5255"/>
<path d="M125.6,904.5 Q128.5,907.5 128.6,911.3" stroke="#8a3521" stroke-width="2.8" fill="none" stroke-linecap="round"/>
<path d="M121.3,903.5 Q124.2,908.4 124.1,914.0" stroke="#8a3521" stroke-width="2.8" fill="none" stroke-linecap="round"/>
<path d="M118.1,906.5 Q120.0,909.8 119.0,913.9" stroke="#8a3521" stroke-width="2.8" fill="none" stroke-linecap="round"/>
<circle cx="51.6" cy="879.0" r="11.7" fill="#8a3521"/>
<circle cx="51.6" cy="879.0" r="8.9" fill="#ec5255"/>
<path d="M54.2,881.6 Q53.5,885.6 50.5,887.8" stroke="#8a3521" stroke-width="2.8" fill="none" stroke-linecap="round"/>
<path d="M52.6,877.8 Q50.4,882.7 45.9,885.9" stroke="#8a3521" stroke-width="2.8" fill="none" stroke-linecap="round"/>
<path d="M48.5,876.9 Q46.9,880.2 43.1,881.8" stroke="#8a3521" stroke-width="2.8" fill="none" stroke-linecap="round"/>
<circle cx="77.6" cy="888.2" r="12.3" fill="#8a3521"/>
<circle cx="77.6" cy="888.2" r="9.5" fill="#ec5255"/>
<path d="M80.9,890.5 Q80.9,894.9 78.1,897.7" stroke="#8a3521" stroke-width="2.8" fill="none" stroke-linecap="round"/>
<path d="M78.4,886.8 Q77.0,892.4 72.9,896.5" stroke="#8a3521" stroke-width="2.8" fill="none" stroke-linecap="round"/>
<path d="M73.9,886.6 Q72.9,890.4 69.2,892.7" stroke="#8a3521" stroke-width="2.8" fill="none" stroke-linecap="round"/>
<circle cx="96.3" cy="886.9" r="11.6" fill="#8a3521"/>
<circle cx="96.3" cy="886.9" r="8.8" fill="#ec5255"/>
<path d="M99.8,888.3 Q100.5,892.3 98.6,895.4" stroke="#8a3521" stroke-width="2.8" fill="none" stroke-linecap="round"/>
<path d="M96.8,885.4 Q96.6,890.7 93.6,895.3" stroke="#8a3521" stroke-width="2.8" fill="none" stroke-linecap="round"/>
<path d="M92.7,886.1 Q92.5,889.7 89.5,892.5" stroke="#8a3521" stroke-width="2.8" fill="none" stroke-linecap="round"/>
<circle cx="44.4" cy="863.9" r="11.6" fill="#8a3521"/>
<circle cx="44.4" cy="863.9" r="8.8" fill="#ec5255"/>
<path d="M46.4,867.0 Q44.8,870.7 41.5,872.2" stroke="#8a3521" stroke-width="2.8" fill="none" stroke-linecap="round"/>
<path d="M45.6,862.9 Q42.4,867.2 37.5,869.3" stroke="#8a3521" stroke-width="2.8" fill="none" stroke-linecap="round"/>
<path d="M41.9,861.2 Q39.6,864.1 35.7,864.7" stroke="#8a3521" stroke-width="2.8" fill="none" stroke-linecap="round"/>
<circle cx="64.1" cy="869.9" r="11.6" fill="#8a3521"/>
<circle cx="64.1" cy="869.9" r="8.8" fill="#ec5255"/>
<path d="M67.2,872.0 Q67.1,876.0 64.7,878.7" stroke="#8a3521" stroke-width="2.8" fill="none" stroke-linecap="round"/>
<path d="M64.9,868.6 Q63.6,873.8 59.8,877.6" stroke="#8a3521" stroke-width="2.8" fill="none" stroke-linecap="round"/>
<path d="M60.7,868.4 Q59.8,871.9 56.4,874.1" stroke="#8a3521" stroke-width="2.8" fill="none" stroke-linecap="round"/>
<circle cx="110.9" cy="886.9" r="12.3" fill="#8a3521"/>
<circle cx="110.9" cy="886.9" r="9.5" fill="#ec5255"/>
<path d="M114.9,887.2 Q117.1,890.9 116.2,894.7" stroke="#8a3521" stroke-width="2.8" fill="none" stroke-linecap="round"/>
<path d="M110.8,885.2 Q112.5,890.8 111.2,896.4" stroke="#8a3521" stroke-width="2.8" fill="none" stroke-linecap="round"/>
<path d="M106.9,887.4 Q108.0,891.2 106.0,895.0" stroke="#8a3521" stroke-width="2.8" fill="none" stroke-linecap="round"/>
<circle cx="79.0" cy="874.3" r="11.7" fill="#8a3521"/>
<circle cx="79.0" cy="874.3" r="8.9" fill="#ec5255"/>
<path d="M81.8,876.8 Q81.3,880.8 78.6,883.2" stroke="#8a3521" stroke-width="2.8" fill="none" stroke-linecap="round"/>
<path d="M79.9,873.0 Q78.0,878.1 73.8,881.5" stroke="#8a3521" stroke-width="2.8" fill="none" stroke-linecap="round"/>
<path d="M75.8,872.4 Q74.4,875.8 70.8,877.6" stroke="#8a3521" stroke-width="2.8" fill="none" stroke-linecap="round"/>
<circle cx="126.4" cy="889.2" r="12.3" fill="#8a3521"/>
<circle cx="126.4" cy="889.2" r="9.5" fill="#ec5255"/>
<path d="M130.4,888.9 Q133.1,892.3 132.8,896.2" stroke="#8a3521" stroke-width="2.8" fill="none" stroke-linecap="round"/>
<path d="M126.1,887.5 Q128.5,892.8 128.0,898.5" stroke="#8a3521" stroke-width="2.8" fill="none" stroke-linecap="round"/>
<path d="M122.5,890.2 Q124.1,893.8 122.7,897.9" stroke="#8a3521" stroke-width="2.8" fill="none" stroke-linecap="round"/>
<circle cx="57.2" cy="857.5" r="12.4" fill="#8a3521"/>
<circle cx="57.2" cy="857.5" r="9.6" fill="#ec5255"/>
<path d="M59.8,860.6 Q58.6,864.8 55.2,866.8" stroke="#8a3521" stroke-width="2.8" fill="none" stroke-linecap="round"/>
<path d="M58.4,856.3 Q55.5,861.3 50.5,864.2" stroke="#8a3521" stroke-width="2.8" fill="none" stroke-linecap="round"/>
<path d="M54.1,854.9 Q52.1,858.3 47.9,859.5" stroke="#8a3521" stroke-width="2.8" fill="none" stroke-linecap="round"/>
<circle cx="101.1" cy="873.3" r="12.1" fill="#8a3521"/>
<circle cx="101.1" cy="873.3" r="9.3" fill="#ec5255"/>
<path d="M104.9,874.2 Q106.5,878.2 105.0,881.7" stroke="#8a3521" stroke-width="2.8" fill="none" stroke-linecap="round"/>
<path d="M101.3,871.7 Q102.1,877.3 99.9,882.5" stroke="#8a3521" stroke-width="2.8" fill="none" stroke-linecap="round"/>
<path d="M97.2,873.1 Q97.6,877.0 95.1,880.4" stroke="#8a3521" stroke-width="2.8" fill="none" stroke-linecap="round"/>
<circle cx="74.7" cy="859.0" r="12.3" fill="#8a3521"/>
<circle cx="74.7" cy="859.0" r="9.5" fill="#ec5255"/>
<path d="M77.7,861.7 Q77.0,866.1 74.0,868.6" stroke="#8a3521" stroke-width="2.8" fill="none" stroke-linecap="round"/>
<path d="M75.7,857.7 Q73.5,863.1 69.0,866.7" stroke="#8a3521" stroke-width="2.8" fill="none" stroke-linecap="round"/>
<path d="M71.2,856.9 Q69.7,860.6 65.7,862.4" stroke="#8a3521" stroke-width="2.8" fill="none" stroke-linecap="round"/>
<circle cx="88.9" cy="864.1" r="12.4" fill="#8a3521"/>
<circle cx="88.9" cy="864.1" r="9.6" fill="#ec5255"/>
<path d="M92.2,866.4 Q92.1,870.8 89.4,873.6" stroke="#8a3521" stroke-width="2.8" fill="none" stroke-linecap="round"/>
<path d="M89.8,862.6 Q88.3,868.2 84.2,872.4" stroke="#8a3521" stroke-width="2.8" fill="none" stroke-linecap="round"/>
<path d="M85.2,862.4 Q84.2,866.2 80.4,868.5" stroke="#8a3521" stroke-width="2.8" fill="none" stroke-linecap="round"/>
<circle cx="123.3" cy="874.6" r="11.7" fill="#8a3521"/>
<circle cx="123.3" cy="874.6" r="8.9" fill="#ec5255"/>
<path d="M127.0,874.7 Q129.2,878.2 128.6,881.8" stroke="#8a3521" stroke-width="2.8" fill="none" stroke-linecap="round"/>
<path d="M123.2,873.0 Q124.9,878.2 123.8,883.5" stroke="#8a3521" stroke-width="2.8" fill="none" stroke-linecap="round"/>
<path d="M119.5,875.2 Q120.7,878.7 118.9,882.4" stroke="#8a3521" stroke-width="2.8" fill="none" stroke-linecap="round"/>
<circle cx="112.7" cy="865.4" r="11.6" fill="#8a3521"/>
<circle cx="112.7" cy="865.4" r="8.8" fill="#ec5255"/>
<path d="M116.4,865.8 Q118.3,869.3 117.3,872.9" stroke="#8a3521" stroke-width="2.8" fill="none" stroke-linecap="round"/>
<path d="M112.7,863.8 Q114.0,869.0 112.5,874.2" stroke="#8a3521" stroke-width="2.8" fill="none" stroke-linecap="round"/>
<path d="M109.0,865.6 Q109.8,869.2 107.8,872.7" stroke="#8a3521" stroke-width="2.8" fill="none" stroke-linecap="round"/>
<circle cx="57.9" cy="841.8" r="11.5" fill="#8a3521"/>
<circle cx="57.9" cy="841.8" r="8.7" fill="#ec5255"/>
<path d="M60.4,844.5 Q59.3,848.4 56.3,850.3" stroke="#8a3521" stroke-width="2.8" fill="none" stroke-linecap="round"/>
<path d="M59.0,840.6 Q56.5,845.3 51.9,848.1" stroke="#8a3521" stroke-width="2.8" fill="none" stroke-linecap="round"/>
<path d="M55.1,839.5 Q53.3,842.6 49.5,843.8" stroke="#8a3521" stroke-width="2.8" fill="none" stroke-linecap="round"/>
<circle cx="98.7" cy="855.2" r="12.0" fill="#8a3521"/>
<circle cx="98.7" cy="855.2" r="9.2" fill="#ec5255"/>
<path d="M102.4,856.3 Q103.7,860.3 102.2,863.8" stroke="#8a3521" stroke-width="2.8" fill="none" stroke-linecap="round"/>
<path d="M98.9,853.6 Q99.4,859.2 97.0,864.3" stroke="#8a3521" stroke-width="2.8" fill="none" stroke-linecap="round"/>
<path d="M94.8,854.9 Q95.0,858.7 92.4,862.0" stroke="#8a3521" stroke-width="2.8" fill="none" stroke-linecap="round"/>
<circle cx="72.4" cy="845.0" r="12.1" fill="#8a3521"/>
<circle cx="72.4" cy="845.0" r="9.3" fill="#ec5255"/>
<path d="M75.3,847.5 Q74.8,851.7 71.9,854.2" stroke="#8a3521" stroke-width="2.8" fill="none" stroke-linecap="round"/>
<path d="M73.3,843.6 Q71.4,848.9 67.0,852.5" stroke="#8a3521" stroke-width="2.8" fill="none" stroke-linecap="round"/>
<path d="M69.0,843.0 Q67.6,846.6 63.7,848.4" stroke="#8a3521" stroke-width="2.8" fill="none" stroke-linecap="round"/>
<circle cx="135.8" cy="866.9" r="11.7" fill="#8a3521"/>
<circle cx="135.8" cy="866.9" r="8.9" fill="#ec5255"/>
<path d="M139.6,867.2 Q141.6,870.7 140.8,874.4" stroke="#8a3521" stroke-width="2.8" fill="none" stroke-linecap="round"/>
<path d="M135.7,865.3 Q137.3,870.6 136.0,875.9" stroke="#8a3521" stroke-width="2.8" fill="none" stroke-linecap="round"/>
<path d="M132.0,867.4 Q133.0,870.9 131.1,874.6" stroke="#8a3521" stroke-width="2.8" fill="none" stroke-linecap="round"/>
<circle cx="89.1" cy="844.8" r="11.9" fill="#8a3521"/>
<circle cx="89.1" cy="844.8" r="9.1" fill="#ec5255"/>
<path d="M92.5,846.7 Q92.8,850.8 90.4,853.8" stroke="#8a3521" stroke-width="2.8" fill="none" stroke-linecap="round"/>
<path d="M89.8,843.3 Q88.9,848.8 85.3,853.1" stroke="#8a3521" stroke-width="2.8" fill="none" stroke-linecap="round"/>
<path d="M85.5,843.5 Q84.8,847.2 81.5,849.7" stroke="#8a3521" stroke-width="2.8" fill="none" stroke-linecap="round"/>
<circle cx="125.9" cy="854.6" r="11.9" fill="#8a3521"/>
<circle cx="125.9" cy="854.6" r="9.1" fill="#ec5255"/>
<path d="M129.7,855.3 Q131.3,859.1 130.1,862.6" stroke="#8a3521" stroke-width="2.8" fill="none" stroke-linecap="round"/>
<path d="M126.0,853.0 Q127.0,858.4 125.1,863.7" stroke="#8a3521" stroke-width="2.8" fill="none" stroke-linecap="round"/>
<path d="M122.0,854.6 Q122.6,858.3 120.3,861.8" stroke="#8a3521" stroke-width="2.8" fill="none" stroke-linecap="round"/>
<circle cx="112.5" cy="849.6" r="11.5" fill="#8a3521"/>
<circle cx="112.5" cy="849.6" r="8.7" fill="#ec5255"/>
<path d="M115.8,851.2 Q116.5,855.1 114.5,858.1" stroke="#8a3521" stroke-width="2.8" fill="none" stroke-linecap="round"/>
<path d="M113.0,848.2 Q112.6,853.5 109.6,857.9" stroke="#8a3521" stroke-width="2.8" fill="none" stroke-linecap="round"/>
<path d="M108.9,848.7 Q108.6,852.3 105.6,855.0" stroke="#8a3521" stroke-width="2.8" fill="none" stroke-linecap="round"/>
<circle cx="79.4" cy="832.0" r="11.5" fill="#8a3521"/>
<circle cx="79.4" cy="832.0" r="8.7" fill="#ec5255"/>
<path d="M81.9,834.6 Q81.1,838.5 78.1,840.6" stroke="#8a3521" stroke-width="2.8" fill="none" stroke-linecap="round"/>
<path d="M80.4,830.8 Q78.1,835.6 73.7,838.5" stroke="#8a3521" stroke-width="2.8" fill="none" stroke-linecap="round"/>
<path d="M76.4,829.8 Q74.8,833.0 71.1,834.4" stroke="#8a3521" stroke-width="2.8" fill="none" stroke-linecap="round"/>
<circle cx="66.4" cy="826.5" r="12.2" fill="#8a3521"/>
<circle cx="66.4" cy="826.5" r="9.4" fill="#ec5255"/>
<path d="M69.3,829.2 Q68.7,833.4 65.7,835.9" stroke="#8a3521" stroke-width="2.8" fill="none" stroke-linecap="round"/>
<path d="M67.4,825.1 Q65.3,830.5 60.7,834.0" stroke="#8a3521" stroke-width="2.8" fill="none" stroke-linecap="round"/>
<path d="M63.0,824.4 Q61.5,828.0 57.5,829.7" stroke="#8a3521" stroke-width="2.8" fill="none" stroke-linecap="round"/>
<circle cx="100.1" cy="835.9" r="12.2" fill="#8a3521"/>
<circle cx="100.1" cy="835.9" r="9.4" fill="#ec5255"/>
<path d="M103.7,837.6 Q104.3,841.9 102.1,845.1" stroke="#8a3521" stroke-width="2.8" fill="none" stroke-linecap="round"/>
<path d="M100.7,834.3 Q100.2,840.1 96.9,844.7" stroke="#8a3521" stroke-width="2.8" fill="none" stroke-linecap="round"/>
<path d="M96.3,834.9 Q95.8,838.8 92.6,841.6" stroke="#8a3521" stroke-width="2.8" fill="none" stroke-linecap="round"/>
<circle cx="130.8" cy="841.1" r="12.0" fill="#8a3521"/>
<circle cx="130.8" cy="841.1" r="9.2" fill="#ec5255"/>
<path d="M134.7,841.0 Q137.1,844.4 136.7,848.2" stroke="#8a3521" stroke-width="2.8" fill="none" stroke-linecap="round"/>
<path d="M130.6,839.5 Q132.7,844.7 131.9,850.2" stroke="#8a3521" stroke-width="2.8" fill="none" stroke-linecap="round"/>
<path d="M127.0,841.9 Q128.4,845.5 126.8,849.4" stroke="#8a3521" stroke-width="2.8" fill="none" stroke-linecap="round"/>
<circle cx="115.2" cy="834.6" r="11.5" fill="#8a3521"/>
<circle cx="115.2" cy="834.6" r="8.7" fill="#ec5255"/>
<path d="M118.8,835.4 Q120.3,839.1 119.0,842.5" stroke="#8a3521" stroke-width="2.8" fill="none" stroke-linecap="round"/>
<path d="M115.4,833.1 Q116.2,838.3 114.1,843.2" stroke="#8a3521" stroke-width="2.8" fill="none" stroke-linecap="round"/>
<path d="M111.6,834.5 Q112.0,838.0 109.7,841.3" stroke="#8a3521" stroke-width="2.8" fill="none" stroke-linecap="round"/>
<circle cx="93.2" cy="823.2" r="12.3" fill="#8a3521"/>
<circle cx="93.2" cy="823.2" r="9.5" fill="#ec5255"/>
<path d="M96.7,825.3 Q97.0,829.6 94.5,832.7" stroke="#8a3521" stroke-width="2.8" fill="none" stroke-linecap="round"/>
<path d="M93.9,821.7 Q92.9,827.4 89.2,831.9" stroke="#8a3521" stroke-width="2.8" fill="none" stroke-linecap="round"/>
<path d="M89.4,821.9 Q88.6,825.8 85.1,828.4" stroke="#8a3521" stroke-width="2.8" fill="none" stroke-linecap="round"/>
</g>
<path d="M128.0,996.0 C126.7,993.0 121.3,990.3 118.0,988.0 C114.7,985.7 111.0,983.3 108.0,982.0 C105.0,980.7 100.0,978.7 100.0,980.0 C100.0,981.3 105.3,986.7 108.0,990.0 C110.7,993.3 113.0,997.3 116.0,1000.0 C119.0,1002.7 124.0,1006.7 126.0,1006.0 C128.0,1005.3 129.3,999.0 128.0,996.0Z" fill="#b1d45f" stroke="#8a3521" stroke-width="2.8" stroke-linejoin="round" stroke-linecap="round" />
<path d="M130.0,1010.0 C128.3,1006.7 121.0,1002.7 116.0,1000.0 C111.0,997.3 105.0,995.0 100.0,994.0 C95.0,993.0 86.0,992.7 86.0,994.0 C86.0,995.3 95.7,999.0 100.0,1002.0 C104.3,1005.0 107.7,1009.0 112.0,1012.0 C116.3,1015.0 123.0,1020.3 126.0,1020.0 C129.0,1019.7 131.7,1013.3 130.0,1010.0Z" fill="#b1d45f" stroke="#8a3521" stroke-width="2.8" stroke-linejoin="round" stroke-linecap="round" />
<path d="M134.0,1018.0 C131.0,1017.3 125.7,1020.0 122.0,1022.0 C118.3,1024.0 111.0,1028.3 112.0,1030.0 C113.0,1031.7 123.3,1032.7 128.0,1032.0 C132.7,1031.3 139.0,1028.3 140.0,1026.0 C141.0,1023.7 137.0,1018.7 134.0,1018.0Z" fill="#b1d45f" stroke="#8a3521" stroke-width="2.8" stroke-linejoin="round" stroke-linecap="round" />
<g>
<circle cx="169.0" cy="1057.0" r="12.5" fill="#8a3521"/>
<circle cx="147.0" cy="1046.5" r="12.5" fill="#8a3521"/>
<circle cx="132.6" cy="1039.1" r="12.5" fill="#8a3521"/>
<circle cx="161.7" cy="1046.4" r="12.5" fill="#8a3521"/>
<circle cx="194.9" cy="1052.0" r="12.5" fill="#8a3521"/>
<circle cx="182.9" cy="1048.7" r="12.5" fill="#8a3521"/>
<circle cx="173.6" cy="1039.6" r="12.5" fill="#8a3521"/>
<circle cx="147.4" cy="1032.8" r="12.5" fill="#8a3521"/>
<circle cx="135.6" cy="1025.8" r="12.5" fill="#8a3521"/>
<circle cx="159.9" cy="1031.9" r="12.5" fill="#8a3521"/>
<circle cx="191.5" cy="1036.0" r="12.5" fill="#8a3521"/>
<circle cx="204.0" cy="1036.5" r="12.5" fill="#8a3521"/>
<circle cx="179.7" cy="1027.6" r="12.5" fill="#8a3521"/>
<circle cx="127.3" cy="1012.2" r="12.5" fill="#8a3521"/>
<circle cx="155.9" cy="1018.3" r="12.5" fill="#8a3521"/>
<circle cx="144.1" cy="1014.6" r="12.5" fill="#8a3521"/>
<circle cx="169.5" cy="1020.8" r="12.5" fill="#8a3521"/>
<circle cx="193.2" cy="1022.2" r="12.5" fill="#8a3521"/>
<circle cx="137.0" cy="1003.2" r="12.5" fill="#8a3521"/>
<circle cx="206.3" cy="1020.2" r="12.5" fill="#8a3521"/>
<circle cx="165.7" cy="1008.0" r="12.5" fill="#8a3521"/>
<circle cx="186.4" cy="1010.9" r="12.5" fill="#8a3521"/>
<circle cx="124.8" cy="994.4" r="12.5" fill="#8a3521"/>
<circle cx="150.9" cy="1000.0" r="12.5" fill="#8a3521"/>
<circle cx="216.8" cy="1012.3" r="12.5" fill="#8a3521"/>
<circle cx="178.0" cy="1001.2" r="12.5" fill="#8a3521"/>
<circle cx="202.1" cy="1006.4" r="12.5" fill="#8a3521"/>
<circle cx="163.0" cy="996.0" r="12.5" fill="#8a3521"/>
<circle cx="136.0" cy="987.8" r="12.5" fill="#8a3521"/>
<circle cx="192.5" cy="998.3" r="12.5" fill="#8a3521"/>
<circle cx="148.7" cy="986.9" r="12.5" fill="#8a3521"/>
<circle cx="176.7" cy="988.0" r="12.5" fill="#8a3521"/>
<circle cx="211.1" cy="996.3" r="12.5" fill="#8a3521"/>
<circle cx="164.4" cy="981.8" r="12.5" fill="#8a3521"/>
<circle cx="141.8" cy="971.4" r="12.5" fill="#8a3521"/>
<circle cx="200.8" cy="985.8" r="12.5" fill="#8a3521"/>
<circle cx="188.2" cy="982.6" r="12.5" fill="#8a3521"/>
<circle cx="154.0" cy="973.3" r="12.5" fill="#8a3521"/>
<circle cx="173.9" cy="972.2" r="12.5" fill="#8a3521"/>
<circle cx="187.5" cy="968.7" r="12.5" fill="#8a3521"/>
<circle cx="202.4" cy="972.3" r="12.5" fill="#8a3521"/>
<circle cx="165.5" cy="962.5" r="12.5" fill="#8a3521"/>
<circle cx="181.4" cy="957.1" r="12.5" fill="#8a3521"/>
<ellipse cx="171" cy="1008" rx="47.3" ry="52.3" fill="#8a3521" transform="rotate(14.3 171 1008)"/>
<circle cx="169.0" cy="1057.0" r="10.9" fill="#8a3521"/>
<circle cx="169.0" cy="1057.0" r="8.2" fill="#ec5255"/>
<path d="M172.4,1057.4 Q174.2,1060.7 173.3,1064.0" stroke="#8a3521" stroke-width="2.6" fill="none" stroke-linecap="round"/>
<path d="M169.0,1055.5 Q170.2,1060.4 168.8,1065.2" stroke="#8a3521" stroke-width="2.6" fill="none" stroke-linecap="round"/>
<path d="M165.5,1057.3 Q166.3,1060.6 164.4,1063.9" stroke="#8a3521" stroke-width="2.6" fill="none" stroke-linecap="round"/>
<circle cx="147.0" cy="1046.5" r="11.4" fill="#8a3521"/>
<circle cx="147.0" cy="1046.5" r="8.7" fill="#ec5255"/>
<path d="M150.4,1047.8 Q151.3,1051.6 149.5,1054.7" stroke="#8a3521" stroke-width="2.6" fill="none" stroke-linecap="round"/>
<path d="M147.4,1045.0 Q147.4,1050.2 144.6,1054.8" stroke="#8a3521" stroke-width="2.6" fill="none" stroke-linecap="round"/>
<path d="M143.4,1045.8 Q143.3,1049.4 140.5,1052.2" stroke="#8a3521" stroke-width="2.6" fill="none" stroke-linecap="round"/>
<circle cx="132.6" cy="1039.1" r="11.0" fill="#8a3521"/>
<circle cx="132.6" cy="1039.1" r="8.3" fill="#ec5255"/>
<path d="M135.0,1041.7 Q134.2,1045.4 131.3,1047.3" stroke="#8a3521" stroke-width="2.6" fill="none" stroke-linecap="round"/>
<path d="M133.6,1038.0 Q131.3,1042.5 127.1,1045.3" stroke="#8a3521" stroke-width="2.6" fill="none" stroke-linecap="round"/>
<path d="M129.8,1037.0 Q128.2,1040.0 124.6,1041.3" stroke="#8a3521" stroke-width="2.6" fill="none" stroke-linecap="round"/>
<circle cx="161.7" cy="1046.4" r="10.7" fill="#8a3521"/>
<circle cx="161.7" cy="1046.4" r="8.0" fill="#ec5255"/>
<path d="M164.8,1047.6 Q165.7,1051.1 164.1,1054.0" stroke="#8a3521" stroke-width="2.6" fill="none" stroke-linecap="round"/>
<path d="M162.0,1045.0 Q162.0,1049.9 159.6,1054.1" stroke="#8a3521" stroke-width="2.6" fill="none" stroke-linecap="round"/>
<path d="M158.3,1045.8 Q158.3,1049.2 155.8,1051.8" stroke="#8a3521" stroke-width="2.6" fill="none" stroke-linecap="round"/>
<circle cx="194.9" cy="1052.0" r="11.1" fill="#8a3521"/>
<circle cx="194.9" cy="1052.0" r="8.4" fill="#ec5255"/>
<path d="M198.4,1051.3 Q201.1,1054.0 201.3,1057.5" stroke="#8a3521" stroke-width="2.6" fill="none" stroke-linecap="round"/>
<path d="M194.4,1050.6 Q197.2,1055.0 197.3,1060.1" stroke="#8a3521" stroke-width="2.6" fill="none" stroke-linecap="round"/>
<path d="M191.6,1053.4 Q193.4,1056.4 192.6,1060.2" stroke="#8a3521" stroke-width="2.6" fill="none" stroke-linecap="round"/>
<circle cx="182.9" cy="1048.7" r="10.9" fill="#8a3521"/>
<circle cx="182.9" cy="1048.7" r="8.2" fill="#ec5255"/>
<path d="M186.4,1049.1 Q188.0,1052.5 187.1,1055.8" stroke="#8a3521" stroke-width="2.6" fill="none" stroke-linecap="round"/>
<path d="M183.0,1047.2 Q184.1,1052.1 182.6,1056.9" stroke="#8a3521" stroke-width="2.6" fill="none" stroke-linecap="round"/>
<path d="M179.4,1048.8 Q180.1,1052.2 178.2,1055.4" stroke="#8a3521" stroke-width="2.6" fill="none" stroke-linecap="round"/>
<circle cx="173.6" cy="1039.6" r="11.0" fill="#8a3521"/>
<circle cx="173.6" cy="1039.6" r="8.3" fill="#ec5255"/>
<path d="M177.0,1040.6 Q178.1,1044.2 176.7,1047.3" stroke="#8a3521" stroke-width="2.6" fill="none" stroke-linecap="round"/>
<path d="M173.9,1038.2 Q174.3,1043.2 172.0,1047.8" stroke="#8a3521" stroke-width="2.6" fill="none" stroke-linecap="round"/>
<path d="M170.1,1039.3 Q170.3,1042.7 167.9,1045.7" stroke="#8a3521" stroke-width="2.6" fill="none" stroke-linecap="round"/>
<circle cx="147.4" cy="1032.8" r="10.7" fill="#8a3521"/>
<circle cx="147.4" cy="1032.8" r="8.0" fill="#ec5255"/>
<path d="M150.4,1034.3 Q150.9,1038.0 148.9,1040.7" stroke="#8a3521" stroke-width="2.6" fill="none" stroke-linecap="round"/>
<path d="M147.9,1031.4 Q147.4,1036.3 144.4,1040.2" stroke="#8a3521" stroke-width="2.6" fill="none" stroke-linecap="round"/>
<path d="M144.2,1031.8 Q143.7,1035.1 140.9,1037.4" stroke="#8a3521" stroke-width="2.6" fill="none" stroke-linecap="round"/>
<circle cx="135.6" cy="1025.8" r="10.7" fill="#8a3521"/>
<circle cx="135.6" cy="1025.8" r="8.0" fill="#ec5255"/>
<path d="M138.2,1028.0 Q137.8,1031.6 135.2,1033.8" stroke="#8a3521" stroke-width="2.6" fill="none" stroke-linecap="round"/>
<path d="M136.4,1024.6 Q134.7,1029.2 131.0,1032.3" stroke="#8a3521" stroke-width="2.6" fill="none" stroke-linecap="round"/>
<path d="M132.7,1024.1 Q131.5,1027.2 128.2,1028.8" stroke="#8a3521" stroke-width="2.6" fill="none" stroke-linecap="round"/>
<circle cx="159.9" cy="1031.9" r="11.4" fill="#8a3521"/>
<circle cx="159.9" cy="1031.9" r="8.7" fill="#ec5255"/>
<path d="M163.2,1033.4 Q163.9,1037.3 161.9,1040.4" stroke="#8a3521" stroke-width="2.6" fill="none" stroke-linecap="round"/>
<path d="M160.4,1030.4 Q160.0,1035.7 157.0,1040.1" stroke="#8a3521" stroke-width="2.6" fill="none" stroke-linecap="round"/>
<path d="M156.3,1031.0 Q156.0,1034.6 153.0,1037.2" stroke="#8a3521" stroke-width="2.6" fill="none" stroke-linecap="round"/>
<circle cx="191.5" cy="1036.0" r="11.3" fill="#8a3521"/>
<circle cx="191.5" cy="1036.0" r="8.6" fill="#ec5255"/>
<path d="M195.1,1036.0 Q197.4,1039.2 196.9,1042.7" stroke="#8a3521" stroke-width="2.6" fill="none" stroke-linecap="round"/>
<path d="M191.3,1034.5 Q193.3,1039.4 192.5,1044.6" stroke="#8a3521" stroke-width="2.6" fill="none" stroke-linecap="round"/>
<path d="M188.0,1036.8 Q189.2,1040.1 187.7,1043.7" stroke="#8a3521" stroke-width="2.6" fill="none" stroke-linecap="round"/>
<circle cx="204.0" cy="1036.5" r="11.3" fill="#8a3521"/>
<circle cx="204.0" cy="1036.5" r="8.6" fill="#ec5255"/>
<path d="M207.5,1035.6 Q210.4,1038.3 210.7,1041.8" stroke="#8a3521" stroke-width="2.6" fill="none" stroke-linecap="round"/>
<path d="M203.5,1035.1 Q206.4,1039.4 206.7,1044.6" stroke="#8a3521" stroke-width="2.6" fill="none" stroke-linecap="round"/>
<path d="M200.7,1038.0 Q202.6,1041.0 201.9,1044.8" stroke="#8a3521" stroke-width="2.6" fill="none" stroke-linecap="round"/>
<circle cx="179.7" cy="1027.6" r="10.9" fill="#8a3521"/>
<circle cx="179.7" cy="1027.6" r="8.2" fill="#ec5255"/>
<path d="M183.0,1028.4 Q184.3,1031.9 183.1,1035.1" stroke="#8a3521" stroke-width="2.6" fill="none" stroke-linecap="round"/>
<path d="M179.8,1026.2 Q180.5,1031.1 178.5,1035.7" stroke="#8a3521" stroke-width="2.6" fill="none" stroke-linecap="round"/>
<path d="M176.2,1027.5 Q176.6,1030.9 174.4,1033.9" stroke="#8a3521" stroke-width="2.6" fill="none" stroke-linecap="round"/>
<circle cx="127.3" cy="1012.2" r="11.2" fill="#8a3521"/>
<circle cx="127.3" cy="1012.2" r="8.5" fill="#ec5255"/>
<path d="M129.8,1014.8 Q129.0,1018.7 126.1,1020.7" stroke="#8a3521" stroke-width="2.6" fill="none" stroke-linecap="round"/>
<path d="M128.3,1011.1 Q126.1,1015.8 121.8,1018.7" stroke="#8a3521" stroke-width="2.6" fill="none" stroke-linecap="round"/>
<path d="M124.4,1010.1 Q122.8,1013.3 119.1,1014.7" stroke="#8a3521" stroke-width="2.6" fill="none" stroke-linecap="round"/>
<circle cx="155.9" cy="1018.3" r="10.7" fill="#8a3521"/>
<circle cx="155.9" cy="1018.3" r="8.0" fill="#ec5255"/>
<path d="M159.0,1019.7 Q159.6,1023.3 157.8,1026.1" stroke="#8a3521" stroke-width="2.6" fill="none" stroke-linecap="round"/>
<path d="M156.4,1017.0 Q156.0,1021.8 153.3,1025.9" stroke="#8a3521" stroke-width="2.6" fill="none" stroke-linecap="round"/>
<path d="M152.6,1017.5 Q152.3,1020.8 149.6,1023.3" stroke="#8a3521" stroke-width="2.6" fill="none" stroke-linecap="round"/>
<circle cx="144.1" cy="1014.6" r="10.8" fill="#8a3521"/>
<circle cx="144.1" cy="1014.6" r="8.1" fill="#ec5255"/>
<path d="M146.9,1016.4 Q147.0,1020.2 144.8,1022.7" stroke="#8a3521" stroke-width="2.6" fill="none" stroke-linecap="round"/>
<path d="M144.8,1013.3 Q143.7,1018.1 140.3,1021.7" stroke="#8a3521" stroke-width="2.6" fill="none" stroke-linecap="round"/>
<path d="M140.9,1013.3 Q140.1,1016.5 137.0,1018.6" stroke="#8a3521" stroke-width="2.6" fill="none" stroke-linecap="round"/>
<circle cx="169.5" cy="1020.8" r="11.3" fill="#8a3521"/>
<circle cx="169.5" cy="1020.8" r="8.6" fill="#ec5255"/>
<path d="M173.0,1021.6 Q174.4,1025.3 173.1,1028.6" stroke="#8a3521" stroke-width="2.6" fill="none" stroke-linecap="round"/>
<path d="M169.7,1019.2 Q170.4,1024.5 168.3,1029.3" stroke="#8a3521" stroke-width="2.6" fill="none" stroke-linecap="round"/>
<path d="M165.9,1020.6 Q166.2,1024.2 163.9,1027.3" stroke="#8a3521" stroke-width="2.6" fill="none" stroke-linecap="round"/>
<circle cx="193.2" cy="1022.2" r="11.4" fill="#8a3521"/>
<circle cx="193.2" cy="1022.2" r="8.7" fill="#ec5255"/>
<path d="M196.8,1022.7 Q198.5,1026.3 197.5,1029.8" stroke="#8a3521" stroke-width="2.6" fill="none" stroke-linecap="round"/>
<path d="M193.3,1020.7 Q194.4,1025.8 192.7,1030.9" stroke="#8a3521" stroke-width="2.6" fill="none" stroke-linecap="round"/>
<path d="M189.5,1022.3 Q190.2,1025.9 188.1,1029.3" stroke="#8a3521" stroke-width="2.6" fill="none" stroke-linecap="round"/>
<circle cx="137.0" cy="1003.2" r="10.7" fill="#8a3521"/>
<circle cx="137.0" cy="1003.2" r="8.0" fill="#ec5255"/>
<path d="M139.6,1005.4 Q139.1,1009.0 136.6,1011.2" stroke="#8a3521" stroke-width="2.6" fill="none" stroke-linecap="round"/>
<path d="M137.9,1002.1 Q136.1,1006.6 132.4,1009.7" stroke="#8a3521" stroke-width="2.6" fill="none" stroke-linecap="round"/>
<path d="M134.1,1001.5 Q132.9,1004.6 129.6,1006.2" stroke="#8a3521" stroke-width="2.6" fill="none" stroke-linecap="round"/>
<circle cx="206.3" cy="1020.2" r="11.0" fill="#8a3521"/>
<circle cx="206.3" cy="1020.2" r="8.3" fill="#ec5255"/>
<path d="M209.7,1019.3 Q212.6,1021.9 212.9,1025.3" stroke="#8a3521" stroke-width="2.6" fill="none" stroke-linecap="round"/>
<path d="M205.8,1018.8 Q208.7,1023.0 209.1,1028.1" stroke="#8a3521" stroke-width="2.6" fill="none" stroke-linecap="round"/>
<path d="M203.1,1021.6 Q205.0,1024.5 204.4,1028.3" stroke="#8a3521" stroke-width="2.6" fill="none" stroke-linecap="round"/>
<circle cx="165.7" cy="1008.0" r="11.0" fill="#8a3521"/>
<circle cx="165.7" cy="1008.0" r="8.3" fill="#ec5255"/>
<path d="M168.8,1009.8 Q169.0,1013.6 166.8,1016.2" stroke="#8a3521" stroke-width="2.6" fill="none" stroke-linecap="round"/>
<path d="M166.4,1006.7 Q165.5,1011.7 162.2,1015.5" stroke="#8a3521" stroke-width="2.6" fill="none" stroke-linecap="round"/>
<path d="M162.5,1006.8 Q161.8,1010.2 158.7,1012.5" stroke="#8a3521" stroke-width="2.6" fill="none" stroke-linecap="round"/>
<circle cx="186.4" cy="1010.9" r="10.7" fill="#8a3521"/>
<circle cx="186.4" cy="1010.9" r="8.0" fill="#ec5255"/>
<path d="M189.8,1011.5 Q191.2,1014.8 190.2,1018.0" stroke="#8a3521" stroke-width="2.6" fill="none" stroke-linecap="round"/>
<path d="M186.5,1009.5 Q187.4,1014.3 185.8,1018.9" stroke="#8a3521" stroke-width="2.6" fill="none" stroke-linecap="round"/>
<path d="M183.0,1010.9 Q183.6,1014.2 181.6,1017.2" stroke="#8a3521" stroke-width="2.6" fill="none" stroke-linecap="round"/>
<circle cx="124.8" cy="994.4" r="10.7" fill="#8a3521"/>
<circle cx="124.8" cy="994.4" r="8.0" fill="#ec5255"/>
<path d="M126.8,997.0 Q125.7,1000.5 122.8,1002.1" stroke="#8a3521" stroke-width="2.6" fill="none" stroke-linecap="round"/>
<path d="M125.8,993.4 Q123.2,997.5 118.9,999.8" stroke="#8a3521" stroke-width="2.6" fill="none" stroke-linecap="round"/>
<path d="M122.3,992.1 Q120.4,994.9 116.9,995.8" stroke="#8a3521" stroke-width="2.6" fill="none" stroke-linecap="round"/>
<circle cx="150.9" cy="1000.0" r="11.4" fill="#8a3521"/>
<circle cx="150.9" cy="1000.0" r="8.7" fill="#ec5255"/>
<path d="M154.1,1001.8 Q154.4,1005.8 152.2,1008.6" stroke="#8a3521" stroke-width="2.6" fill="none" stroke-linecap="round"/>
<path d="M151.6,998.6 Q150.7,1003.8 147.3,1007.9" stroke="#8a3521" stroke-width="2.6" fill="none" stroke-linecap="round"/>
<path d="M147.5,998.8 Q146.8,1002.4 143.6,1004.7" stroke="#8a3521" stroke-width="2.6" fill="none" stroke-linecap="round"/>
<circle cx="216.8" cy="1012.3" r="10.6" fill="#8a3521"/>
<circle cx="216.8" cy="1012.3" r="7.9" fill="#ec5255"/>
<path d="M220.0,1011.3 Q222.8,1013.6 223.3,1016.8" stroke="#8a3521" stroke-width="2.6" fill="none" stroke-linecap="round"/>
<path d="M216.2,1011.0 Q219.2,1014.8 219.8,1019.6" stroke="#8a3521" stroke-width="2.6" fill="none" stroke-linecap="round"/>
<path d="M213.8,1013.9 Q215.8,1016.5 215.4,1020.1" stroke="#8a3521" stroke-width="2.6" fill="none" stroke-linecap="round"/>
<circle cx="178.0" cy="1001.2" r="11.1" fill="#8a3521"/>
<circle cx="178.0" cy="1001.2" r="8.4" fill="#ec5255"/>
<path d="M181.5,1001.7 Q183.2,1005.1 182.2,1008.5" stroke="#8a3521" stroke-width="2.6" fill="none" stroke-linecap="round"/>
<path d="M178.0,999.7 Q179.2,1004.7 177.6,1009.6" stroke="#8a3521" stroke-width="2.6" fill="none" stroke-linecap="round"/>
<path d="M174.4,1001.4 Q175.1,1004.8 173.2,1008.1" stroke="#8a3521" stroke-width="2.6" fill="none" stroke-linecap="round"/>
<circle cx="202.1" cy="1006.4" r="10.7" fill="#8a3521"/>
<circle cx="202.1" cy="1006.4" r="8.0" fill="#ec5255"/>
<path d="M205.5,1006.3 Q207.6,1009.3 207.2,1012.6" stroke="#8a3521" stroke-width="2.6" fill="none" stroke-linecap="round"/>
<path d="M202.0,1005.0 Q203.8,1009.5 203.0,1014.3" stroke="#8a3521" stroke-width="2.6" fill="none" stroke-linecap="round"/>
<path d="M198.8,1007.1 Q200.0,1010.2 198.6,1013.5" stroke="#8a3521" stroke-width="2.6" fill="none" stroke-linecap="round"/>
<circle cx="163.0" cy="996.0" r="11.4" fill="#8a3521"/>
<circle cx="163.0" cy="996.0" r="8.7" fill="#ec5255"/>
<path d="M166.3,997.6 Q166.8,1001.6 164.8,1004.5" stroke="#8a3521" stroke-width="2.6" fill="none" stroke-linecap="round"/>
<path d="M163.5,994.6 Q163.0,999.8 159.9,1004.2" stroke="#8a3521" stroke-width="2.6" fill="none" stroke-linecap="round"/>
<path d="M159.4,995.0 Q159.0,998.6 156.0,1001.2" stroke="#8a3521" stroke-width="2.6" fill="none" stroke-linecap="round"/>
<circle cx="136.0" cy="987.8" r="11.0" fill="#8a3521"/>
<circle cx="136.0" cy="987.8" r="8.3" fill="#ec5255"/>
<path d="M138.3,990.4 Q137.4,994.0 134.5,995.9" stroke="#8a3521" stroke-width="2.6" fill="none" stroke-linecap="round"/>
<path d="M137.0,986.7 Q134.7,991.1 130.4,993.8" stroke="#8a3521" stroke-width="2.6" fill="none" stroke-linecap="round"/>
<path d="M133.3,985.6 Q131.6,988.6 128.0,989.8" stroke="#8a3521" stroke-width="2.6" fill="none" stroke-linecap="round"/>
<circle cx="192.5" cy="998.3" r="10.7" fill="#8a3521"/>
<circle cx="192.5" cy="998.3" r="8.0" fill="#ec5255"/>
<path d="M195.9,998.8 Q197.5,1002.0 196.6,1005.2" stroke="#8a3521" stroke-width="2.6" fill="none" stroke-linecap="round"/>
<path d="M192.6,996.9 Q193.7,1001.6 192.2,1006.3" stroke="#8a3521" stroke-width="2.6" fill="none" stroke-linecap="round"/>
<path d="M189.2,998.5 Q189.8,1001.7 187.9,1004.8" stroke="#8a3521" stroke-width="2.6" fill="none" stroke-linecap="round"/>
<circle cx="148.7" cy="986.9" r="10.8" fill="#8a3521"/>
<circle cx="148.7" cy="986.9" r="8.1" fill="#ec5255"/>
<path d="M151.3,989.1 Q150.9,992.8 148.4,995.0" stroke="#8a3521" stroke-width="2.6" fill="none" stroke-linecap="round"/>
<path d="M149.5,985.7 Q147.9,990.4 144.1,993.5" stroke="#8a3521" stroke-width="2.6" fill="none" stroke-linecap="round"/>
<path d="M145.7,985.2 Q144.5,988.3 141.2,990.0" stroke="#8a3521" stroke-width="2.6" fill="none" stroke-linecap="round"/>
<circle cx="176.7" cy="988.0" r="11.4" fill="#8a3521"/>
<circle cx="176.7" cy="988.0" r="8.7" fill="#ec5255"/>
<path d="M180.3,988.7 Q181.8,992.4 180.6,995.8" stroke="#8a3521" stroke-width="2.6" fill="none" stroke-linecap="round"/>
<path d="M176.8,986.4 Q177.7,991.7 175.7,996.7" stroke="#8a3521" stroke-width="2.6" fill="none" stroke-linecap="round"/>
<path d="M173.0,987.9 Q173.5,991.5 171.2,994.8" stroke="#8a3521" stroke-width="2.6" fill="none" stroke-linecap="round"/>
<circle cx="211.1" cy="996.3" r="11.1" fill="#8a3521"/>
<circle cx="211.1" cy="996.3" r="8.4" fill="#ec5255"/>
<path d="M214.7,996.1 Q217.0,999.2 216.7,1002.6" stroke="#8a3521" stroke-width="2.6" fill="none" stroke-linecap="round"/>
<path d="M210.9,994.8 Q213.0,999.5 212.4,1004.6" stroke="#8a3521" stroke-width="2.6" fill="none" stroke-linecap="round"/>
<path d="M207.7,997.1 Q209.0,1000.3 207.7,1004.0" stroke="#8a3521" stroke-width="2.6" fill="none" stroke-linecap="round"/>
<circle cx="164.4" cy="981.8" r="10.7" fill="#8a3521"/>
<circle cx="164.4" cy="981.8" r="8.0" fill="#ec5255"/>
<path d="M167.5,983.2 Q168.1,986.9 166.2,989.6" stroke="#8a3521" stroke-width="2.6" fill="none" stroke-linecap="round"/>
<path d="M164.9,980.4 Q164.5,985.3 161.7,989.4" stroke="#8a3521" stroke-width="2.6" fill="none" stroke-linecap="round"/>
<path d="M161.1,981.0 Q160.8,984.3 158.1,986.7" stroke="#8a3521" stroke-width="2.6" fill="none" stroke-linecap="round"/>
<circle cx="141.8" cy="971.4" r="11.5" fill="#8a3521"/>
<circle cx="141.8" cy="971.4" r="8.8" fill="#ec5255"/>
<path d="M144.0,974.4 Q142.6,978.2 139.4,979.9" stroke="#8a3521" stroke-width="2.6" fill="none" stroke-linecap="round"/>
<path d="M143.0,970.4 Q140.0,974.9 135.2,977.3" stroke="#8a3521" stroke-width="2.6" fill="none" stroke-linecap="round"/>
<path d="M139.1,968.9 Q137.0,971.9 133.1,972.8" stroke="#8a3521" stroke-width="2.6" fill="none" stroke-linecap="round"/>
<circle cx="200.8" cy="985.8" r="10.7" fill="#8a3521"/>
<circle cx="200.8" cy="985.8" r="8.0" fill="#ec5255"/>
<path d="M204.1,986.2 Q205.8,989.5 204.9,992.7" stroke="#8a3521" stroke-width="2.6" fill="none" stroke-linecap="round"/>
<path d="M200.8,984.4 Q202.0,989.1 200.6,993.8" stroke="#8a3521" stroke-width="2.6" fill="none" stroke-linecap="round"/>
<path d="M197.4,986.0 Q198.1,989.3 196.3,992.5" stroke="#8a3521" stroke-width="2.6" fill="none" stroke-linecap="round"/>
<circle cx="188.2" cy="982.6" r="11.4" fill="#8a3521"/>
<circle cx="188.2" cy="982.6" r="8.7" fill="#ec5255"/>
<path d="M191.9,983.1 Q193.7,986.7 192.7,990.1" stroke="#8a3521" stroke-width="2.6" fill="none" stroke-linecap="round"/>
<path d="M188.3,981.0 Q189.5,986.2 187.9,991.3" stroke="#8a3521" stroke-width="2.6" fill="none" stroke-linecap="round"/>
<path d="M184.5,982.8 Q185.3,986.3 183.2,989.8" stroke="#8a3521" stroke-width="2.6" fill="none" stroke-linecap="round"/>
<circle cx="154.0" cy="973.3" r="11.1" fill="#8a3521"/>
<circle cx="154.0" cy="973.3" r="8.4" fill="#ec5255"/>
<path d="M157.1,975.0 Q157.4,978.9 155.3,981.6" stroke="#8a3521" stroke-width="2.6" fill="none" stroke-linecap="round"/>
<path d="M154.6,971.9 Q153.8,977.0 150.5,981.0" stroke="#8a3521" stroke-width="2.6" fill="none" stroke-linecap="round"/>
<path d="M150.6,972.1 Q150.0,975.6 146.9,977.9" stroke="#8a3521" stroke-width="2.6" fill="none" stroke-linecap="round"/>
<circle cx="173.9" cy="972.2" r="10.9" fill="#8a3521"/>
<circle cx="173.9" cy="972.2" r="8.2" fill="#ec5255"/>
<path d="M177.0,973.8 Q177.4,977.5 175.4,980.3" stroke="#8a3521" stroke-width="2.6" fill="none" stroke-linecap="round"/>
<path d="M174.4,970.8 Q173.8,975.8 170.8,979.8" stroke="#8a3521" stroke-width="2.6" fill="none" stroke-linecap="round"/>
<path d="M170.5,971.2 Q170.1,974.6 167.2,977.0" stroke="#8a3521" stroke-width="2.6" fill="none" stroke-linecap="round"/>
<circle cx="187.5" cy="968.7" r="11.1" fill="#8a3521"/>
<circle cx="187.5" cy="968.7" r="8.4" fill="#ec5255"/>
<path d="M190.9,969.8 Q191.8,973.6 190.1,976.7" stroke="#8a3521" stroke-width="2.6" fill="none" stroke-linecap="round"/>
<path d="M187.9,967.2 Q188.0,972.3 185.4,976.8" stroke="#8a3521" stroke-width="2.6" fill="none" stroke-linecap="round"/>
<path d="M184.0,968.1 Q184.0,971.6 181.3,974.4" stroke="#8a3521" stroke-width="2.6" fill="none" stroke-linecap="round"/>
<circle cx="202.4" cy="972.3" r="10.7" fill="#8a3521"/>
<circle cx="202.4" cy="972.3" r="8.0" fill="#ec5255"/>
<path d="M205.8,972.4 Q207.7,975.5 207.1,978.7" stroke="#8a3521" stroke-width="2.6" fill="none" stroke-linecap="round"/>
<path d="M202.3,970.9 Q203.9,975.5 202.9,980.3" stroke="#8a3521" stroke-width="2.6" fill="none" stroke-linecap="round"/>
<path d="M199.1,972.8 Q200.1,976.0 198.5,979.3" stroke="#8a3521" stroke-width="2.6" fill="none" stroke-linecap="round"/>
<circle cx="165.5" cy="962.5" r="11.4" fill="#8a3521"/>
<circle cx="165.5" cy="962.5" r="8.7" fill="#ec5255"/>
<path d="M168.6,964.5 Q168.7,968.4 166.3,971.1" stroke="#8a3521" stroke-width="2.6" fill="none" stroke-linecap="round"/>
<path d="M166.2,961.1 Q165.1,966.3 161.5,970.1" stroke="#8a3521" stroke-width="2.6" fill="none" stroke-linecap="round"/>
<path d="M162.1,961.1 Q161.3,964.6 158.0,966.8" stroke="#8a3521" stroke-width="2.6" fill="none" stroke-linecap="round"/>
<circle cx="181.4" cy="957.1" r="11.0" fill="#8a3521"/>
<circle cx="181.4" cy="957.1" r="8.3" fill="#ec5255"/>
<path d="M184.7,958.3 Q185.6,962.0 184.0,965.0" stroke="#8a3521" stroke-width="2.6" fill="none" stroke-linecap="round"/>
<path d="M181.7,955.7 Q181.8,960.8 179.3,965.2" stroke="#8a3521" stroke-width="2.6" fill="none" stroke-linecap="round"/>
<path d="M177.9,956.6 Q177.9,960.0 175.3,962.8" stroke="#8a3521" stroke-width="2.6" fill="none" stroke-linecap="round"/>
</g>
<path d="M132.0,1004.0 C129.3,1001.3 128.0,998.3 126.0,996.0 C124.0,993.7 119.7,988.7 120.0,990.0 C120.3,991.3 125.7,999.7 128.0,1004.0 C130.3,1008.3 132.0,1012.7 134.0,1016.0 C136.0,1019.3 138.7,1024.7 140.0,1024.0 C141.3,1023.3 143.3,1015.3 142.0,1012.0 C140.7,1008.7 134.7,1006.7 132.0,1004.0Z" fill="#b1d45f" stroke="#8a3521" stroke-width="2.4" stroke-linejoin="round" stroke-linecap="round" />
<g>
<circle cx="944.4" cy="834.8" r="15.6" fill="#8a3521"/>
<circle cx="1027.5" cy="860.8" r="15.6" fill="#8a3521"/>
<circle cx="984.7" cy="786.1" r="15.6" fill="#8a3521"/>
<circle cx="967.1" cy="868.8" r="15.6" fill="#8a3521"/>
<circle cx="1032.9" cy="821.0" r="15.6" fill="#8a3521"/>
<circle cx="955.2" cy="811.3" r="15.6" fill="#8a3521"/>
<circle cx="1004.4" cy="870.2" r="15.6" fill="#8a3521"/>
<circle cx="1007.1" cy="795.2" r="15.6" fill="#8a3521"/>
<circle cx="957.2" cy="847.1" r="15.6" fill="#8a3521"/>
<circle cx="1025.6" cy="843.2" r="15.6" fill="#8a3521"/>
<circle cx="974.9" cy="800.7" r="15.6" fill="#8a3521"/>
<circle cx="983.7" cy="864.3" r="15.6" fill="#8a3521"/>
<circle cx="1017.6" cy="813.6" r="15.6" fill="#8a3521"/>
<circle cx="962.1" cy="827.0" r="15.6" fill="#8a3521"/>
<circle cx="1009.0" cy="853.6" r="15.6" fill="#8a3521"/>
<circle cx="993.2" cy="805.0" r="15.6" fill="#8a3521"/>
<circle cx="974.3" cy="848.5" r="15.6" fill="#8a3521"/>
<circle cx="1013.1" cy="830.9" r="15.6" fill="#8a3521"/>
<circle cx="977.1" cy="818.8" r="15.6" fill="#8a3521"/>
<circle cx="993.3" cy="847.8" r="15.6" fill="#8a3521"/>
<circle cx="998.9" cy="821.2" r="15.6" fill="#8a3521"/>
<circle cx="984.4" cy="833.0" r="15.6" fill="#8a3521"/>
<ellipse cx="991.5" cy="831.5" rx="44.7" ry="45.7" fill="#8a3521" transform="rotate(5.7 991.5 831.5)"/>
<circle cx="944.4" cy="834.8" r="14.1" fill="#8a3521"/>
<circle cx="944.4" cy="834.8" r="11.1" fill="#eb5c82"/>
<path d="M944.8,829.5 Q948.6,826.7 952.7,827.5" stroke="#8a3521" stroke-width="2.6" fill="none" stroke-linecap="round"/>
<path d="M943.1,833.2 Q948.9,830.7 955.1,831.8" stroke="#8a3521" stroke-width="2.6" fill="none" stroke-linecap="round"/>
<path d="M943.3,836.7 Q949.2,834.7 955.4,836.3" stroke="#8a3521" stroke-width="2.6" fill="none" stroke-linecap="round"/>
<path d="M945.5,840.0 Q949.5,838.7 953.6,840.9" stroke="#8a3521" stroke-width="2.6" fill="none" stroke-linecap="round"/>
<circle cx="1027.5" cy="860.8" r="14.5" fill="#8a3521"/>
<circle cx="1027.5" cy="860.8" r="11.5" fill="#eb5c82"/>
<path d="M1023.4,864.6 Q1018.5,864.0 1015.9,860.5" stroke="#8a3521" stroke-width="2.6" fill="none" stroke-linecap="round"/>
<path d="M1027.3,863.0 Q1021.1,860.7 1017.2,855.5" stroke="#8a3521" stroke-width="2.6" fill="none" stroke-linecap="round"/>
<path d="M1029.6,860.2 Q1023.7,857.5 1020.2,851.9" stroke="#8a3521" stroke-width="2.6" fill="none" stroke-linecap="round"/>
<path d="M1030.3,856.1 Q1026.4,854.3 1024.8,849.6" stroke="#8a3521" stroke-width="2.6" fill="none" stroke-linecap="round"/>
<circle cx="984.7" cy="786.1" r="14.0" fill="#8a3521"/>
<circle cx="984.7" cy="786.1" r="11.0" fill="#eb5c82"/>
<path d="M990.0,786.1 Q993.0,789.7 992.6,793.8" stroke="#8a3521" stroke-width="2.6" fill="none" stroke-linecap="round"/>
<path d="M986.2,784.7 Q989.1,790.3 988.5,796.5" stroke="#8a3521" stroke-width="2.6" fill="none" stroke-linecap="round"/>
<path d="M982.8,785.2 Q985.2,790.9 984.1,797.1" stroke="#8a3521" stroke-width="2.6" fill="none" stroke-linecap="round"/>
<path d="M979.6,787.7 Q981.2,791.5 979.4,795.8" stroke="#8a3521" stroke-width="2.6" fill="none" stroke-linecap="round"/>
<circle cx="967.1" cy="868.8" r="14.1" fill="#8a3521"/>
<circle cx="967.1" cy="868.8" r="11.1" fill="#eb5c82"/>
<path d="M963.2,865.3 Q963.3,860.6 966.3,857.8" stroke="#8a3521" stroke-width="2.6" fill="none" stroke-linecap="round"/>
<path d="M965.0,868.8 Q966.6,862.7 971.2,858.5" stroke="#8a3521" stroke-width="2.6" fill="none" stroke-linecap="round"/>
<path d="M968.0,870.7 Q970.0,864.9 974.9,860.9" stroke="#8a3521" stroke-width="2.6" fill="none" stroke-linecap="round"/>
<path d="M972.0,871.0 Q973.3,867.1 977.6,865.1" stroke="#8a3521" stroke-width="2.6" fill="none" stroke-linecap="round"/>
<circle cx="1032.9" cy="821.0" r="14.2" fill="#8a3521"/>
<circle cx="1032.9" cy="821.0" r="11.2" fill="#eb5c82"/>
<path d="M1033.4,826.3 Q1030.2,829.7 1026.0,829.7" stroke="#8a3521" stroke-width="2.6" fill="none" stroke-linecap="round"/>
<path d="M1034.5,822.4 Q1029.1,825.9 1022.9,825.9" stroke="#8a3521" stroke-width="2.6" fill="none" stroke-linecap="round"/>
<path d="M1033.6,819.0 Q1028.1,822.0 1021.8,821.5" stroke="#8a3521" stroke-width="2.6" fill="none" stroke-linecap="round"/>
<path d="M1030.8,816.1 Q1027.2,818.1 1022.6,816.6" stroke="#8a3521" stroke-width="2.6" fill="none" stroke-linecap="round"/>
<circle cx="955.2" cy="811.3" r="13.7" fill="#8a3521"/>
<circle cx="955.2" cy="811.3" r="10.7" fill="#eb5c82"/>
<path d="M958.3,807.3 Q962.9,807.0 965.8,809.8" stroke="#8a3521" stroke-width="2.6" fill="none" stroke-linecap="round"/>
<path d="M955.1,809.3 Q961.1,810.4 965.4,814.5" stroke="#8a3521" stroke-width="2.6" fill="none" stroke-linecap="round"/>
<path d="M953.4,812.3 Q959.2,813.8 963.3,818.3" stroke="#8a3521" stroke-width="2.6" fill="none" stroke-linecap="round"/>
<path d="M953.4,816.1 Q957.3,817.1 959.5,821.1" stroke="#8a3521" stroke-width="2.6" fill="none" stroke-linecap="round"/>
<circle cx="1004.4" cy="870.2" r="14.1" fill="#8a3521"/>
<circle cx="1004.4" cy="870.2" r="11.1" fill="#eb5c82"/>
<path d="M999.2,871.1 Q995.5,868.1 995.2,864.0" stroke="#8a3521" stroke-width="2.6" fill="none" stroke-linecap="round"/>
<path d="M1003.1,871.9 Q999.3,866.8 998.8,860.6" stroke="#8a3521" stroke-width="2.6" fill="none" stroke-linecap="round"/>
<path d="M1006.4,870.8 Q1003.1,865.6 1003.1,859.2" stroke="#8a3521" stroke-width="2.6" fill="none" stroke-linecap="round"/>
<path d="M1009.1,867.8 Q1006.9,864.3 1008.0,859.7" stroke="#8a3521" stroke-width="2.6" fill="none" stroke-linecap="round"/>
<circle cx="1007.1" cy="795.2" r="14.2" fill="#8a3521"/>
<circle cx="1007.1" cy="795.2" r="11.2" fill="#eb5c82"/>
<path d="M1011.7,798.0 Q1012.4,802.7 1009.9,806.0" stroke="#8a3521" stroke-width="2.6" fill="none" stroke-linecap="round"/>
<path d="M1009.2,794.8 Q1008.7,801.2 1004.9,806.2" stroke="#8a3521" stroke-width="2.6" fill="none" stroke-linecap="round"/>
<path d="M1006.0,793.4 Q1005.0,799.6 1000.7,804.4" stroke="#8a3521" stroke-width="2.6" fill="none" stroke-linecap="round"/>
<path d="M1001.9,793.8 Q1001.3,797.9 997.3,800.7" stroke="#8a3521" stroke-width="2.6" fill="none" stroke-linecap="round"/>
<circle cx="957.2" cy="847.1" r="14.4" fill="#8a3521"/>
<circle cx="957.2" cy="847.1" r="11.4" fill="#eb5c82"/>
<path d="M955.7,841.8 Q958.4,837.8 962.6,837.0" stroke="#8a3521" stroke-width="2.6" fill="none" stroke-linecap="round"/>
<path d="M955.4,845.9 Q960.2,841.5 966.4,840.3" stroke="#8a3521" stroke-width="2.6" fill="none" stroke-linecap="round"/>
<path d="M956.9,849.2 Q961.9,845.2 968.4,844.5" stroke="#8a3521" stroke-width="2.6" fill="none" stroke-linecap="round"/>
<path d="M960.2,851.6 Q963.5,849.0 968.3,849.6" stroke="#8a3521" stroke-width="2.6" fill="none" stroke-linecap="round"/>
<circle cx="1025.6" cy="843.2" r="13.6" fill="#8a3521"/>
<circle cx="1025.6" cy="843.2" r="10.6" fill="#eb5c82"/>
<path d="M1023.3,847.7 Q1018.9,848.7 1015.6,846.5" stroke="#8a3521" stroke-width="2.6" fill="none" stroke-linecap="round"/>
<path d="M1026.1,845.1 Q1020.1,845.1 1015.1,841.8" stroke="#8a3521" stroke-width="2.6" fill="none" stroke-linecap="round"/>
<path d="M1027.2,841.9 Q1021.3,841.5 1016.5,837.8" stroke="#8a3521" stroke-width="2.6" fill="none" stroke-linecap="round"/>
<path d="M1026.5,838.2 Q1022.6,837.9 1019.7,834.3" stroke="#8a3521" stroke-width="2.6" fill="none" stroke-linecap="round"/>
<circle cx="974.9" cy="800.7" r="13.8" fill="#8a3521"/>
<circle cx="974.9" cy="800.7" r="10.8" fill="#eb5c82"/>
<path d="M979.7,798.9 Q983.8,801.2 984.7,805.1" stroke="#8a3521" stroke-width="2.6" fill="none" stroke-linecap="round"/>
<path d="M975.8,798.8 Q980.4,803.1 981.8,809.0" stroke="#8a3521" stroke-width="2.6" fill="none" stroke-linecap="round"/>
<path d="M972.8,800.5 Q976.9,804.9 978.0,811.0" stroke="#8a3521" stroke-width="2.6" fill="none" stroke-linecap="round"/>
<path d="M970.7,803.8 Q973.5,806.7 973.2,811.4" stroke="#8a3521" stroke-width="2.6" fill="none" stroke-linecap="round"/>
<circle cx="983.7" cy="864.3" r="13.6" fill="#8a3521"/>
<circle cx="983.7" cy="864.3" r="10.6" fill="#eb5c82"/>
<path d="M979.0,862.4 Q977.5,858.1 979.4,854.6" stroke="#8a3521" stroke-width="2.6" fill="none" stroke-linecap="round"/>
<path d="M981.8,865.0 Q981.2,858.9 984.0,853.7" stroke="#8a3521" stroke-width="2.6" fill="none" stroke-linecap="round"/>
<path d="M985.0,865.8 Q985.0,859.8 988.2,854.7" stroke="#8a3521" stroke-width="2.6" fill="none" stroke-linecap="round"/>
<path d="M988.7,864.7 Q988.7,860.8 991.9,857.6" stroke="#8a3521" stroke-width="2.6" fill="none" stroke-linecap="round"/>
<circle cx="1017.6" cy="813.6" r="14.4" fill="#8a3521"/>
<circle cx="1017.6" cy="813.6" r="11.4" fill="#eb5c82"/>
<path d="M1020.0,818.5 Q1018.1,822.9 1014.1,824.4" stroke="#8a3521" stroke-width="2.6" fill="none" stroke-linecap="round"/>
<path d="M1019.6,814.4 Q1015.7,819.6 1009.7,821.8" stroke="#8a3521" stroke-width="2.6" fill="none" stroke-linecap="round"/>
<path d="M1017.6,811.4 Q1013.4,816.2 1007.1,818.0" stroke="#8a3521" stroke-width="2.6" fill="none" stroke-linecap="round"/>
<path d="M1013.9,809.5 Q1011.1,812.8 1006.2,813.0" stroke="#8a3521" stroke-width="2.6" fill="none" stroke-linecap="round"/>
<circle cx="962.1" cy="827.0" r="14.3" fill="#8a3521"/>
<circle cx="962.1" cy="827.0" r="11.3" fill="#eb5c82"/>
<path d="M963.7,821.9 Q968.1,820.0 972.0,821.6" stroke="#8a3521" stroke-width="2.6" fill="none" stroke-linecap="round"/>
<path d="M961.2,825.1 Q967.6,824.0 973.4,826.4" stroke="#8a3521" stroke-width="2.6" fill="none" stroke-linecap="round"/>
<path d="M960.7,828.6 Q967.0,828.0 972.7,831.0" stroke="#8a3521" stroke-width="2.6" fill="none" stroke-linecap="round"/>
<path d="M962.1,832.4 Q966.3,832.0 970.0,835.2" stroke="#8a3521" stroke-width="2.6" fill="none" stroke-linecap="round"/>
<circle cx="1009.0" cy="853.6" r="13.5" fill="#8a3521"/>
<circle cx="1009.0" cy="853.6" r="10.5" fill="#eb5c82"/>
<path d="M1004.6,856.1 Q1000.4,854.6 998.8,851.0" stroke="#8a3521" stroke-width="2.6" fill="none" stroke-linecap="round"/>
<path d="M1008.4,855.5 Q1003.3,852.2 1000.9,846.8" stroke="#8a3521" stroke-width="2.6" fill="none" stroke-linecap="round"/>
<path d="M1011.0,853.5 Q1006.3,849.9 1004.3,844.2" stroke="#8a3521" stroke-width="2.6" fill="none" stroke-linecap="round"/>
<path d="M1012.5,849.9 Q1009.3,847.6 1008.8,843.1" stroke="#8a3521" stroke-width="2.6" fill="none" stroke-linecap="round"/>
<circle cx="993.2" cy="805.0" r="14.6" fill="#8a3521"/>
<circle cx="993.2" cy="805.0" r="11.6" fill="#eb5c82"/>
<path d="M998.6,806.2 Q1001.0,810.5 999.6,814.7" stroke="#8a3521" stroke-width="2.6" fill="none" stroke-linecap="round"/>
<path d="M995.1,803.9 Q996.8,810.3 994.8,816.5" stroke="#8a3521" stroke-width="2.6" fill="none" stroke-linecap="round"/>
<path d="M991.4,803.7 Q992.6,810.1 990.1,816.2" stroke="#8a3521" stroke-width="2.6" fill="none" stroke-linecap="round"/>
<path d="M987.6,805.5 Q988.4,809.8 985.5,813.8" stroke="#8a3521" stroke-width="2.6" fill="none" stroke-linecap="round"/>
<circle cx="974.3" cy="848.5" r="14.6" fill="#8a3521"/>
<circle cx="974.3" cy="848.5" r="11.6" fill="#eb5c82"/>
<path d="M971.0,844.0 Q972.1,839.2 975.9,837.0" stroke="#8a3521" stroke-width="2.6" fill="none" stroke-linecap="round"/>
<path d="M972.1,848.0 Q975.1,842.1 980.7,838.8" stroke="#8a3521" stroke-width="2.6" fill="none" stroke-linecap="round"/>
<path d="M974.7,850.6 Q978.0,845.1 984.0,842.2" stroke="#8a3521" stroke-width="2.6" fill="none" stroke-linecap="round"/>
<path d="M978.7,851.8 Q980.9,848.1 985.8,847.0" stroke="#8a3521" stroke-width="2.6" fill="none" stroke-linecap="round"/>
<circle cx="1013.1" cy="830.9" r="14.2" fill="#8a3521"/>
<circle cx="1013.1" cy="830.9" r="11.2" fill="#eb5c82"/>
<path d="M1012.5,836.2 Q1008.5,838.9 1004.4,838.0" stroke="#8a3521" stroke-width="2.6" fill="none" stroke-linecap="round"/>
<path d="M1014.3,832.6 Q1008.3,834.8 1002.2,833.5" stroke="#8a3521" stroke-width="2.6" fill="none" stroke-linecap="round"/>
<path d="M1014.2,829.1 Q1008.2,830.8 1002.0,828.9" stroke="#8a3521" stroke-width="2.6" fill="none" stroke-linecap="round"/>
<path d="M1012.2,825.6 Q1008.1,826.8 1004.0,824.3" stroke="#8a3521" stroke-width="2.6" fill="none" stroke-linecap="round"/>
<circle cx="977.1" cy="818.8" r="14.2" fill="#8a3521"/>
<circle cx="977.1" cy="818.8" r="11.2" fill="#eb5c82"/>
<path d="M981.3,815.3 Q986.0,816.1 988.3,819.6" stroke="#8a3521" stroke-width="2.6" fill="none" stroke-linecap="round"/>
<path d="M977.4,816.7 Q983.3,819.2 986.8,824.3" stroke="#8a3521" stroke-width="2.6" fill="none" stroke-linecap="round"/>
<path d="M975.1,819.3 Q980.7,822.2 983.8,827.7" stroke="#8a3521" stroke-width="2.6" fill="none" stroke-linecap="round"/>
<path d="M974.2,823.2 Q977.9,825.2 979.3,829.7" stroke="#8a3521" stroke-width="2.6" fill="none" stroke-linecap="round"/>
<circle cx="993.3" cy="847.8" r="13.7" fill="#8a3521"/>
<circle cx="993.3" cy="847.8" r="10.7" fill="#eb5c82"/>
<path d="M988.2,847.6 Q985.4,844.1 985.9,840.1" stroke="#8a3521" stroke-width="2.6" fill="none" stroke-linecap="round"/>
<path d="M991.7,849.1 Q989.2,843.6 990.0,837.7" stroke="#8a3521" stroke-width="2.6" fill="none" stroke-linecap="round"/>
<path d="M995.1,848.8 Q993.0,843.2 994.3,837.2" stroke="#8a3521" stroke-width="2.6" fill="none" stroke-linecap="round"/>
<path d="M998.2,846.5 Q996.8,842.8 998.8,838.7" stroke="#8a3521" stroke-width="2.6" fill="none" stroke-linecap="round"/>
<circle cx="998.9" cy="821.2" r="13.5" fill="#8a3521"/>
<circle cx="998.9" cy="821.2" r="10.5" fill="#eb5c82"/>
<path d="M1002.5,824.7 Q1002.2,829.1 999.2,831.7" stroke="#8a3521" stroke-width="2.6" fill="none" stroke-linecap="round"/>
<path d="M1000.9,821.2 Q999.1,827.0 994.6,830.8" stroke="#8a3521" stroke-width="2.6" fill="none" stroke-linecap="round"/>
<path d="M998.1,819.3 Q996.0,824.8 991.2,828.3" stroke="#8a3521" stroke-width="2.6" fill="none" stroke-linecap="round"/>
<path d="M994.4,818.9 Q993.0,822.6 988.8,824.3" stroke="#8a3521" stroke-width="2.6" fill="none" stroke-linecap="round"/>
<circle cx="984.4" cy="833.0" r="14.1" fill="#8a3521"/>
<circle cx="984.4" cy="833.0" r="11.1" fill="#eb5c82"/>
<path d="M984.1,827.7 Q987.5,824.4 991.7,824.6" stroke="#8a3521" stroke-width="2.6" fill="none" stroke-linecap="round"/>
<path d="M982.9,831.5 Q988.4,828.3 994.6,828.6" stroke="#8a3521" stroke-width="2.6" fill="none" stroke-linecap="round"/>
<path d="M983.7,834.9 Q989.2,832.2 995.5,833.0" stroke="#8a3521" stroke-width="2.6" fill="none" stroke-linecap="round"/>
<path d="M986.3,838.0 Q990.0,836.1 994.4,837.8" stroke="#8a3521" stroke-width="2.6" fill="none" stroke-linecap="round"/>
</g>
<ellipse cx="1012" cy="811" rx="13" ry="9" fill="#a8232b" stroke="#8a3521" stroke-width="3" transform="rotate(20 1012 811)"/>
<path d="M1006.0,806.0 L1007.0,815.0" fill="none" stroke="#d9414a" stroke-width="1.4" stroke-linecap="round" stroke-linejoin="round"/>
<path d="M1010.0,806.0 L1011.0,815.0" fill="none" stroke="#d9414a" stroke-width="1.4" stroke-linecap="round" stroke-linejoin="round"/>
<path d="M1014.0,806.0 L1015.0,815.0" fill="none" stroke="#d9414a" stroke-width="1.4" stroke-linecap="round" stroke-linejoin="round"/>
<path d="M1018.0,806.0 L1019.0,815.0" fill="none" stroke="#d9414a" stroke-width="1.4" stroke-linecap="round" stroke-linejoin="round"/>
<g>
<circle cx="743.6" cy="777.5" r="11.3" fill="#8a3521"/>
<circle cx="728.6" cy="770.6" r="11.3" fill="#8a3521"/>
<circle cx="735.9" cy="767.7" r="11.3" fill="#8a3521"/>
<circle cx="746.1" cy="761.2" r="11.3" fill="#8a3521"/>
<circle cx="753.7" cy="755.9" r="11.3" fill="#8a3521"/>
<circle cx="734.1" cy="750.9" r="11.3" fill="#8a3521"/>
<circle cx="726.4" cy="748.6" r="11.3" fill="#8a3521"/>
<circle cx="740.8" cy="747.3" r="11.3" fill="#8a3521"/>
<circle cx="747.9" cy="742.3" r="11.3" fill="#8a3521"/>
<circle cx="758.4" cy="737.0" r="11.3" fill="#8a3521"/>
<circle cx="730.3" cy="731.7" r="11.3" fill="#8a3521"/>
<circle cx="737.6" cy="730.2" r="11.3" fill="#8a3521"/>
<circle cx="752.1" cy="728.4" r="11.3" fill="#8a3521"/>
<circle cx="743.2" cy="718.6" r="11.3" fill="#8a3521"/>
<circle cx="727.7" cy="715.6" r="11.3" fill="#8a3521"/>
<circle cx="736.5" cy="709.9" r="11.3" fill="#8a3521"/>
<circle cx="749.6" cy="709.4" r="11.3" fill="#8a3521"/>
<ellipse cx="741" cy="740" rx="17.2" ry="41.2" fill="#8a3521" transform="rotate(0.0 741 740)"/>
<circle cx="743.6" cy="777.5" r="10.0" fill="#8a3521"/>
<circle cx="743.6" cy="777.5" r="7.4" fill="#ec5255"/>
<path d="M746.7,777.7 Q748.4,780.7 747.7,783.7" stroke="#8a3521" stroke-width="2.2" fill="none" stroke-linecap="round"/>
<path d="M743.6,776.2 Q744.9,780.5 743.8,784.9" stroke="#8a3521" stroke-width="2.2" fill="none" stroke-linecap="round"/>
<path d="M740.5,777.8 Q741.3,780.8 739.7,783.8" stroke="#8a3521" stroke-width="2.2" fill="none" stroke-linecap="round"/>
<circle cx="728.6" cy="770.6" r="10.1" fill="#8a3521"/>
<circle cx="728.6" cy="770.6" r="7.5" fill="#ec5255"/>
<path d="M731.6,771.6 Q732.5,775.0 731.0,777.7" stroke="#8a3521" stroke-width="2.2" fill="none" stroke-linecap="round"/>
<path d="M729.0,769.2 Q729.0,773.9 726.8,777.9" stroke="#8a3521" stroke-width="2.2" fill="none" stroke-linecap="round"/>
<path d="M725.5,770.0 Q725.5,773.2 723.1,775.7" stroke="#8a3521" stroke-width="2.2" fill="none" stroke-linecap="round"/>
<circle cx="735.9" cy="767.7" r="9.7" fill="#8a3521"/>
<circle cx="735.9" cy="767.7" r="7.1" fill="#ec5255"/>
<path d="M738.9,768.1 Q740.3,771.0 739.5,773.8" stroke="#8a3521" stroke-width="2.2" fill="none" stroke-linecap="round"/>
<path d="M735.9,766.4 Q736.9,770.6 735.6,774.8" stroke="#8a3521" stroke-width="2.2" fill="none" stroke-linecap="round"/>
<path d="M732.9,767.8 Q733.5,770.7 731.8,773.5" stroke="#8a3521" stroke-width="2.2" fill="none" stroke-linecap="round"/>
<circle cx="746.1" cy="761.2" r="9.7" fill="#8a3521"/>
<circle cx="746.1" cy="761.2" r="7.1" fill="#ec5255"/>
<path d="M749.1,761.2 Q750.8,763.9 750.3,766.8" stroke="#8a3521" stroke-width="2.2" fill="none" stroke-linecap="round"/>
<path d="M746.0,759.9 Q747.4,764.0 746.6,768.2" stroke="#8a3521" stroke-width="2.2" fill="none" stroke-linecap="round"/>
<path d="M743.1,761.6 Q744.1,764.4 742.7,767.4" stroke="#8a3521" stroke-width="2.2" fill="none" stroke-linecap="round"/>
<circle cx="753.7" cy="755.9" r="9.6" fill="#8a3521"/>
<circle cx="753.7" cy="755.9" r="7.0" fill="#ec5255"/>
<path d="M756.5,755.1 Q758.9,757.3 759.2,760.1" stroke="#8a3521" stroke-width="2.2" fill="none" stroke-linecap="round"/>
<path d="M753.2,754.7 Q755.7,758.2 756.0,762.5" stroke="#8a3521" stroke-width="2.2" fill="none" stroke-linecap="round"/>
<path d="M751.0,757.1 Q752.6,759.5 752.1,762.7" stroke="#8a3521" stroke-width="2.2" fill="none" stroke-linecap="round"/>
<circle cx="734.1" cy="750.9" r="9.7" fill="#8a3521"/>
<circle cx="734.1" cy="750.9" r="7.1" fill="#ec5255"/>
<path d="M737.1,751.6 Q738.2,754.6 737.1,757.3" stroke="#8a3521" stroke-width="2.2" fill="none" stroke-linecap="round"/>
<path d="M734.3,749.6 Q734.9,753.9 733.2,757.9" stroke="#8a3521" stroke-width="2.2" fill="none" stroke-linecap="round"/>
<path d="M731.2,750.8 Q731.5,753.7 729.6,756.3" stroke="#8a3521" stroke-width="2.2" fill="none" stroke-linecap="round"/>
<circle cx="726.4" cy="748.6" r="9.8" fill="#8a3521"/>
<circle cx="726.4" cy="748.6" r="7.2" fill="#ec5255"/>
<path d="M729.0,750.3 Q728.9,753.6 726.9,755.8" stroke="#8a3521" stroke-width="2.2" fill="none" stroke-linecap="round"/>
<path d="M727.0,747.5 Q726.0,751.8 722.9,754.9" stroke="#8a3521" stroke-width="2.2" fill="none" stroke-linecap="round"/>
<path d="M723.6,747.4 Q722.9,750.3 720.1,752.1" stroke="#8a3521" stroke-width="2.2" fill="none" stroke-linecap="round"/>
<circle cx="740.8" cy="747.3" r="10.0" fill="#8a3521"/>
<circle cx="740.8" cy="747.3" r="7.4" fill="#ec5255"/>
<path d="M743.9,747.1 Q745.9,749.8 745.6,752.9" stroke="#8a3521" stroke-width="2.2" fill="none" stroke-linecap="round"/>
<path d="M740.6,746.0 Q742.4,750.1 741.9,754.6" stroke="#8a3521" stroke-width="2.2" fill="none" stroke-linecap="round"/>
<path d="M737.8,748.0 Q738.9,750.8 737.8,754.0" stroke="#8a3521" stroke-width="2.2" fill="none" stroke-linecap="round"/>
<circle cx="747.9" cy="742.3" r="9.7" fill="#8a3521"/>
<circle cx="747.9" cy="742.3" r="7.1" fill="#ec5255"/>
<path d="M750.9,741.7 Q753.2,743.9 753.4,746.9" stroke="#8a3521" stroke-width="2.2" fill="none" stroke-linecap="round"/>
<path d="M747.6,741.1 Q749.9,744.8 750.1,749.1" stroke="#8a3521" stroke-width="2.2" fill="none" stroke-linecap="round"/>
<path d="M745.2,743.5 Q746.7,746.0 746.1,749.2" stroke="#8a3521" stroke-width="2.2" fill="none" stroke-linecap="round"/>
<circle cx="758.4" cy="737.0" r="10.2" fill="#8a3521"/>
<circle cx="758.4" cy="737.0" r="7.6" fill="#ec5255"/>
<path d="M761.5,736.1 Q764.1,738.3 764.5,741.4" stroke="#8a3521" stroke-width="2.2" fill="none" stroke-linecap="round"/>
<path d="M757.9,735.8 Q760.7,739.5 761.2,744.0" stroke="#8a3521" stroke-width="2.2" fill="none" stroke-linecap="round"/>
<path d="M755.6,738.5 Q757.4,741.0 757.0,744.4" stroke="#8a3521" stroke-width="2.2" fill="none" stroke-linecap="round"/>
<circle cx="730.3" cy="731.7" r="10.1" fill="#8a3521"/>
<circle cx="730.3" cy="731.7" r="7.5" fill="#ec5255"/>
<path d="M733.1,733.2 Q733.4,736.7 731.5,739.1" stroke="#8a3521" stroke-width="2.2" fill="none" stroke-linecap="round"/>
<path d="M730.8,730.5 Q730.2,735.0 727.3,738.7" stroke="#8a3521" stroke-width="2.2" fill="none" stroke-linecap="round"/>
<path d="M727.2,730.8 Q726.8,733.8 724.1,736.0" stroke="#8a3521" stroke-width="2.2" fill="none" stroke-linecap="round"/>
<circle cx="737.6" cy="730.2" r="10.1" fill="#8a3521"/>
<circle cx="737.6" cy="730.2" r="7.5" fill="#ec5255"/>
<path d="M740.5,731.2 Q741.4,734.5 740.0,737.2" stroke="#8a3521" stroke-width="2.2" fill="none" stroke-linecap="round"/>
<path d="M737.9,728.9 Q738.0,733.5 735.8,737.5" stroke="#8a3521" stroke-width="2.2" fill="none" stroke-linecap="round"/>
<path d="M734.4,729.7 Q734.5,732.8 732.2,735.4" stroke="#8a3521" stroke-width="2.2" fill="none" stroke-linecap="round"/>
<circle cx="752.1" cy="728.4" r="10.1" fill="#8a3521"/>
<circle cx="752.1" cy="728.4" r="7.5" fill="#ec5255"/>
<path d="M755.1,727.4 Q757.8,729.6 758.2,732.7" stroke="#8a3521" stroke-width="2.2" fill="none" stroke-linecap="round"/>
<path d="M751.6,727.1 Q754.3,730.8 754.9,735.3" stroke="#8a3521" stroke-width="2.2" fill="none" stroke-linecap="round"/>
<path d="M749.3,729.8 Q751.1,732.3 750.7,735.7" stroke="#8a3521" stroke-width="2.2" fill="none" stroke-linecap="round"/>
<circle cx="743.2" cy="718.6" r="10.1" fill="#8a3521"/>
<circle cx="743.2" cy="718.6" r="7.5" fill="#ec5255"/>
<path d="M746.3,718.7 Q748.2,721.6 747.6,724.7" stroke="#8a3521" stroke-width="2.2" fill="none" stroke-linecap="round"/>
<path d="M743.1,717.3 Q744.6,721.6 743.7,726.2" stroke="#8a3521" stroke-width="2.2" fill="none" stroke-linecap="round"/>
<path d="M740.0,719.1 Q741.0,722.1 739.5,725.2" stroke="#8a3521" stroke-width="2.2" fill="none" stroke-linecap="round"/>
<circle cx="727.7" cy="715.6" r="10.1" fill="#8a3521"/>
<circle cx="727.7" cy="715.6" r="7.5" fill="#ec5255"/>
<path d="M730.6,717.0 Q730.9,720.4 729.1,722.9" stroke="#8a3521" stroke-width="2.2" fill="none" stroke-linecap="round"/>
<path d="M728.3,714.3 Q727.7,718.9 724.9,722.5" stroke="#8a3521" stroke-width="2.2" fill="none" stroke-linecap="round"/>
<path d="M724.7,714.7 Q724.3,717.7 721.6,719.9" stroke="#8a3521" stroke-width="2.2" fill="none" stroke-linecap="round"/>
<circle cx="736.5" cy="709.9" r="9.8" fill="#8a3521"/>
<circle cx="736.5" cy="709.9" r="7.2" fill="#ec5255"/>
<path d="M739.5,710.4 Q740.8,713.5 739.8,716.3" stroke="#8a3521" stroke-width="2.2" fill="none" stroke-linecap="round"/>
<path d="M736.6,708.6 Q737.4,713.0 735.8,717.1" stroke="#8a3521" stroke-width="2.2" fill="none" stroke-linecap="round"/>
<path d="M733.4,709.9 Q733.9,712.9 732.1,715.6" stroke="#8a3521" stroke-width="2.2" fill="none" stroke-linecap="round"/>
<circle cx="749.6" cy="709.4" r="9.8" fill="#8a3521"/>
<circle cx="749.6" cy="709.4" r="7.2" fill="#ec5255"/>
<path d="M752.6,708.8 Q755.0,711.1 755.1,714.1" stroke="#8a3521" stroke-width="2.2" fill="none" stroke-linecap="round"/>
<path d="M749.2,708.2 Q751.6,711.9 751.8,716.3" stroke="#8a3521" stroke-width="2.2" fill="none" stroke-linecap="round"/>
<path d="M746.8,710.6 Q748.3,713.2 747.7,716.4" stroke="#8a3521" stroke-width="2.2" fill="none" stroke-linecap="round"/>
</g>
<path d="M749.0,700.0 C748.7,698.0 750.5,693.0 752.0,690.0 C753.5,687.0 757.0,681.7 758.0,682.0 C759.0,682.3 758.7,688.7 758.0,692.0 C757.3,695.3 755.5,700.7 754.0,702.0 C752.5,703.3 749.3,702.0 749.0,700.0Z" fill="#b1d45f" stroke="#8a3521" stroke-width="2.2" stroke-linejoin="round" stroke-linecap="round" />
<path d="M848.0,927.0 C848.0,929.0 847.0,935.0 848.0,939.0 C849.0,943.0 850.9,947.4 854.0,951.0 C857.1,954.6 862.5,958.2 866.5,960.5 C870.5,962.8 876.1,964.2 878.0,965.0" fill="none" stroke="#8a3521" stroke-width="14" stroke-linecap="round" stroke-linejoin="round"/>
<circle cx="846.5" cy="930" r="1.1" fill="#d9e27c"/>
<circle cx="847" cy="935" r="1.1" fill="#d9e27c"/>
<circle cx="848" cy="940" r="1.1" fill="#d9e27c"/>
<circle cx="849.5" cy="945" r="1.1" fill="#d9e27c"/>
<circle cx="852" cy="949.5" r="1.1" fill="#d9e27c"/>
<circle cx="855" cy="953.5" r="1.1" fill="#d9e27c"/>
<circle cx="858.5" cy="957" r="1.1" fill="#d9e27c"/>
<path d="M879.0,958.0 L881.0,944.0 L886.0,931.0 L891.0,942.0 L895.0,951.0Z" fill="#8a3521" stroke="#8a3521" stroke-width="2.6" stroke-linejoin="round" stroke-linecap="round" />
<path d="M884.0,957.0 L885.0,946.0 L887.5,939.0 L889.0,947.0Z" fill="#74b83c" stroke="none" stroke-width="0" stroke-linejoin="round" stroke-linecap="round" />
<path d="M903.0,948.0 L909.0,935.0 L915.5,924.5 L918.5,934.0 L920.0,941.0Z" fill="#8a3521" stroke="#8a3521" stroke-width="2.6" stroke-linejoin="round" stroke-linecap="round" />
<path d="M907.5,944.5 L911.0,936.0 L914.0,930.5 L915.0,937.5Z" fill="#74b83c" stroke="none" stroke-width="0" stroke-linejoin="round" stroke-linecap="round" />
<path d="M862.0,972.0 L850.0,972.5 L837.0,975.5 L848.0,982.0 L860.0,987.0Z" fill="#8a3521" stroke="#8a3521" stroke-width="2.6" stroke-linejoin="round" stroke-linecap="round" />
<path d="M859.0,977.0 L850.0,976.0 L841.0,977.5 L850.0,981.0 L859.0,982.5Z" fill="#74b83c" stroke="none" stroke-width="0" stroke-linejoin="round" stroke-linecap="round" />
<path d="M848.0,995.0 L836.0,999.0 L825.5,1006.5 L838.0,1011.0 L850.0,1014.0Z" fill="#8a3521" stroke="#8a3521" stroke-width="2.6" stroke-linejoin="round" stroke-linecap="round" />
<path d="M847.0,1002.0 L841.0,1004.0 L836.0,1007.0 L842.0,1008.0 L848.0,1007.0Z" fill="#74b83c" stroke="none" stroke-width="0" stroke-linejoin="round" stroke-linecap="round" />
<path d="M860.0,956.0 L876.0,962.0 L878.0,970.0 L866.0,972.0 L858.0,966.0Z" fill="#8a3521" stroke="#8a3521" stroke-width="2.4" stroke-linejoin="round" stroke-linecap="round" />
<path d="M862.0,960.0 L873.0,964.0 L874.0,968.0 L866.0,968.0Z" fill="#74b83c" stroke="none" stroke-width="0" stroke-linejoin="round" stroke-linecap="round" />
<path d="M848.0,1060.0 C824.7,1054.0 850.9,1033.2 852.0,1024.0 C853.1,1014.8 853.7,1010.7 854.5,1005.0 C855.3,999.3 855.8,994.5 857.0,990.0 C858.2,985.5 859.7,981.4 861.5,978.0 C863.3,974.6 865.4,972.0 868.0,969.5 C870.6,967.0 873.8,965.0 877.0,963.0 C880.2,961.0 883.5,959.2 887.0,957.5 C890.5,955.8 894.3,954.1 898.0,952.5 C901.7,950.9 905.5,949.5 909.0,948.0 C912.5,946.5 915.7,944.6 919.0,943.5 C922.3,942.4 925.7,941.8 929.0,941.5 C932.3,941.2 935.7,941.5 939.0,942.0 C942.3,942.5 945.7,943.3 949.0,944.5 C952.3,945.7 955.8,947.0 959.0,949.0 C962.2,951.0 965.2,953.8 968.0,956.5 C970.8,959.2 973.8,962.2 976.0,965.5 C978.2,968.8 980.0,972.6 981.5,976.0 C983.0,979.4 984.0,982.7 985.0,986.0 C986.0,989.3 986.8,992.7 987.5,996.0 C988.2,999.3 988.5,1001.3 989.0,1006.0 C989.5,1010.7 990.0,1015.0 990.5,1024.0 C991.0,1033.0 1015.8,1054.0 992.0,1060.0 C968.2,1066.0 871.3,1066.0 848.0,1060.0Z" fill="#ec5255" stroke="#8a3521" stroke-width="4.6" stroke-linejoin="round" stroke-linecap="round" />
<path d="M862.0,984.0 C862.4,982.8 863.2,979.0 864.5,977.0 C865.8,975.0 869.1,972.8 870.0,972.0" fill="none" stroke="#8a3521" stroke-width="3.2" stroke-linecap="round" stroke-linejoin="round"/>
<path d="M866.0,994.0 C866.8,992.2 868.5,986.3 870.5,983.0 C872.5,979.7 876.8,975.5 878.0,974.0" fill="none" stroke="#8a3521" stroke-width="3.2" stroke-linecap="round" stroke-linejoin="round"/>
<path d="M864.0,1008.0 C864.4,1006.5 865.2,1001.7 866.5,999.0 C867.8,996.3 871.1,993.2 872.0,992.0" fill="none" stroke="#8a3521" stroke-width="3.2" stroke-linecap="round" stroke-linejoin="round"/>
<path d="M872.0,1000.0 C872.8,998.3 874.5,993.0 876.5,990.0 C878.5,987.0 882.8,983.3 884.0,982.0" fill="none" stroke="#8a3521" stroke-width="3.2" stroke-linecap="round" stroke-linejoin="round"/>
<path d="M870.0,1018.0 C870.6,1016.3 871.8,1011.0 873.5,1008.0 C875.2,1005.0 878.9,1001.3 880.0,1000.0" fill="none" stroke="#8a3521" stroke-width="3.2" stroke-linecap="round" stroke-linejoin="round"/>
<path d="M880.0,1010.0 C880.6,1008.5 881.8,1003.7 883.5,1001.0 C885.2,998.3 888.9,995.2 890.0,994.0" fill="none" stroke="#8a3521" stroke-width="3.2" stroke-linecap="round" stroke-linejoin="round"/>
<path d="M878.0,1024.0 C878.6,1022.7 879.8,1018.3 881.5,1016.0 C883.2,1013.7 886.9,1011.0 888.0,1010.0" fill="none" stroke="#8a3521" stroke-width="3.2" stroke-linecap="round" stroke-linejoin="round"/>
<path d="M888.0,1020.0 C888.4,1018.7 889.2,1014.3 890.5,1012.0 C891.8,1009.7 895.1,1007.0 896.0,1006.0" fill="none" stroke="#8a3521" stroke-width="3.2" stroke-linecap="round" stroke-linejoin="round"/>
<path d="M884.0,978.0 C884.6,976.8 885.8,973.0 887.5,971.0 C889.2,969.0 892.9,966.8 894.0,966.0" fill="none" stroke="#8a3521" stroke-width="3.2" stroke-linecap="round" stroke-linejoin="round"/>
<path d="M892.0,990.0 C892.4,988.8 893.2,985.0 894.5,983.0 C895.8,981.0 899.1,978.8 900.0,978.0" fill="none" stroke="#8a3521" stroke-width="3.2" stroke-linecap="round" stroke-linejoin="round"/>
<path d="M858.0,1020.0 C858.2,1018.5 858.5,1013.7 859.5,1011.0 C860.5,1008.3 863.2,1005.2 864.0,1004.0" fill="none" stroke="#8a3521" stroke-width="3.2" stroke-linecap="round" stroke-linejoin="round"/>
<path d="M896.0,1000.0 C896.2,999.0 896.5,995.7 897.5,994.0 C898.5,992.3 901.2,990.7 902.0,990.0" fill="none" stroke="#8a3521" stroke-width="3.2" stroke-linecap="round" stroke-linejoin="round"/>
<ellipse cx="905" cy="966" rx="2.6" ry="3.4" fill="none" stroke="#8a3521" stroke-width="2.6" transform="rotate(11 905 966)"/>
<path d="M916.6,958.5 C917.2,959.1 918.9,962.0 920.0,962.0 C921.1,962.0 922.8,959.1 923.4,958.5" fill="none" stroke="#8a3521" stroke-width="2.8" stroke-linecap="round" stroke-linejoin="round"/>
<path d="M932.6,956.5 C933.2,957.1 934.9,960.0 936.0,960.0 C937.1,960.0 938.8,957.1 939.4,956.5" fill="none" stroke="#8a3521" stroke-width="2.8" stroke-linecap="round" stroke-linejoin="round"/>
<ellipse cx="952" cy="962" rx="2.6" ry="3.4" fill="none" stroke="#8a3521" stroke-width="2.6" transform="rotate(18 952 962)"/>
<path d="M960.6,970.5 C961.2,971.1 962.9,974.0 964.0,974.0 C965.1,974.0 966.8,971.1 967.4,970.5" fill="none" stroke="#8a3521" stroke-width="2.8" stroke-linecap="round" stroke-linejoin="round"/>
<path d="M896.6,982.5 C897.2,983.1 898.9,986.0 900.0,986.0 C901.1,986.0 902.8,983.1 903.4,982.5" fill="none" stroke="#8a3521" stroke-width="2.8" stroke-linecap="round" stroke-linejoin="round"/>
<path d="M912.6,976.5 C913.2,977.1 914.9,980.0 916.0,980.0 C917.1,980.0 918.8,977.1 919.4,976.5" fill="none" stroke="#8a3521" stroke-width="2.8" stroke-linecap="round" stroke-linejoin="round"/>
<ellipse cx="932" cy="976" rx="2.6" ry="3.4" fill="none" stroke="#8a3521" stroke-width="2.6" transform="rotate(-30 932 976)"/>
<ellipse cx="948" cy="980" rx="2.6" ry="3.4" fill="none" stroke="#8a3521" stroke-width="2.6" transform="rotate(5 948 980)"/>
<ellipse cx="962" cy="988" rx="2.6" ry="3.4" fill="none" stroke="#8a3521" stroke-width="2.6" transform="rotate(18 962 988)"/>
<ellipse cx="974" cy="996" rx="2.6" ry="3.4" fill="none" stroke="#8a3521" stroke-width="2.6" transform="rotate(-16 974 996)"/>
<ellipse cx="898" cy="1002" rx="2.6" ry="3.4" fill="none" stroke="#8a3521" stroke-width="2.6" transform="rotate(30 898 1002)"/>
<path d="M910.6,994.5 C911.2,995.1 912.9,998.0 914.0,998.0 C915.1,998.0 916.8,995.1 917.4,994.5" fill="none" stroke="#8a3521" stroke-width="2.8" stroke-linecap="round" stroke-linejoin="round"/>
<path d="M926.6,992.5 C927.2,993.1 928.9,996.0 930.0,996.0 C931.1,996.0 932.8,993.1 933.4,992.5" fill="none" stroke="#8a3521" stroke-width="2.8" stroke-linecap="round" stroke-linejoin="round"/>
<path d="M942.6,996.5 C943.2,997.1 944.9,1000.0 946.0,1000.0 C947.1,1000.0 948.8,997.1 949.4,996.5" fill="none" stroke="#8a3521" stroke-width="2.8" stroke-linecap="round" stroke-linejoin="round"/>
<ellipse cx="960" cy="1006" rx="2.6" ry="3.4" fill="none" stroke="#8a3521" stroke-width="2.6" transform="rotate(-10 960 1006)"/>
<path d="M970.6,1012.5 C971.2,1013.1 972.9,1016.0 974.0,1016.0 C975.1,1016.0 976.8,1013.1 977.4,1012.5" fill="none" stroke="#8a3521" stroke-width="2.8" stroke-linecap="round" stroke-linejoin="round"/>
<ellipse cx="896" cy="1018" rx="2.6" ry="3.4" fill="none" stroke="#8a3521" stroke-width="2.6" transform="rotate(27 896 1018)"/>
<ellipse cx="912" cy="1014" rx="2.6" ry="3.4" fill="none" stroke="#8a3521" stroke-width="2.6" transform="rotate(-21 912 1014)"/>
<path d="M924.6,1010.5 C925.2,1011.1 926.9,1014.0 928.0,1014.0 C929.1,1014.0 930.8,1011.1 931.4,1010.5" fill="none" stroke="#8a3521" stroke-width="2.8" stroke-linecap="round" stroke-linejoin="round"/>
<ellipse cx="944" cy="1016" rx="2.6" ry="3.4" fill="none" stroke="#8a3521" stroke-width="2.6" transform="rotate(26 944 1016)"/>
<path d="M954.6,1020.5 C955.2,1021.1 956.9,1024.0 958.0,1024.0 C959.1,1024.0 960.8,1021.1 961.4,1020.5" fill="none" stroke="#8a3521" stroke-width="2.8" stroke-linecap="round" stroke-linejoin="round"/>
<path d="M974.6,1020.5 C975.2,1021.1 976.9,1024.0 978.0,1024.0 C979.1,1024.0 980.8,1021.1 981.4,1020.5" fill="none" stroke="#8a3521" stroke-width="2.8" stroke-linecap="round" stroke-linejoin="round"/>
<path d="M908.0,1006.0 L911.0,1001.5" fill="none" stroke="#8a3521" stroke-width="2.4" stroke-linecap="round" stroke-linejoin="round"/>
<path d="M926.0,1004.0 L929.0,999.5" fill="none" stroke="#8a3521" stroke-width="2.4" stroke-linecap="round" stroke-linejoin="round"/>
<path d="M968.0,982.0 L971.0,977.5" fill="none" stroke="#8a3521" stroke-width="2.4" stroke-linecap="round" stroke-linejoin="round"/>
<path d="M978.0,1006.0 L981.0,1001.5" fill="none" stroke="#8a3521" stroke-width="2.4" stroke-linecap="round" stroke-linejoin="round"/>
<path d="M940.0,968.0 L943.0,963.5" fill="none" stroke="#8a3521" stroke-width="2.4" stroke-linecap="round" stroke-linejoin="round"/>
<path d="M972.0,1000.0 L975.0,995.5" fill="none" stroke="#8a3521" stroke-width="2.4" stroke-linecap="round" stroke-linejoin="round"/>
<path d="M980.0,990.0 L983.0,985.5" fill="none" stroke="#8a3521" stroke-width="2.4" stroke-linecap="round" stroke-linejoin="round"/>
<path d="M966.0,964.0 L969.0,959.5" fill="none" stroke="#8a3521" stroke-width="2.4" stroke-linecap="round" stroke-linejoin="round"/>
<path d="M954.0,954.0 L957.0,949.5" fill="none" stroke="#8a3521" stroke-width="2.4" stroke-linecap="round" stroke-linejoin="round"/>
<path d="M984.0,1016.0 L987.0,1011.5" fill="none" stroke="#8a3521" stroke-width="2.4" stroke-linecap="round" stroke-linejoin="round"/>
</svg>
<div id="panel"></div>
<div id="lbl">
<div class="title">Supplement Facts</div>
<div class="t " style="top:115.22px;left:282.10px;transform:scaleX(0.962);transform-origin:0 0;">Serving Size</div>
<div class="t " style="top:115.22px;left:330.00px;width:300px;text-align:center;">1-3 Years</div>
<div class="t " style="top:115.22px;left:492.00px;width:300px;text-align:center;">4-13 Years</div>
<div class="t " style="top:134.72px;left:330.00px;width:300px;text-align:center;">1/2 tsp (2.5 mL)</div>
<div class="t " style="top:134.72px;left:492.00px;width:300px;text-align:center;">1 tbsp (15 mL)</div>
<div class="t " style="top:154.22px;left:282.10px;transform:scaleX(0.977);transform-origin:0 0;">Servings Per Container</div>
<div class="t " style="top:154.22px;left:330.00px;width:300px;text-align:center;">About 180</div>
<div class="t " style="top:154.22px;left:493.00px;width:300px;text-align:center;">About 30</div>
<div class="b" style="left:282.4px;top:178px;width:456.90px;height:9.50px;background:#1d1d1d"></div>
<div class="t " style="top:192.22px;left:226.20px;width:300px;text-align:center;transform:scaleX(1.05);">Amount</div>
<div class="t " style="top:192.22px;left:388.80px;width:300px;text-align:center;">% DV for</div>
<div class="t " style="top:192.22px;left:548.60px;width:300px;text-align:center;">% DV for</div>
<div class="t " style="top:211.12px;left:228.10px;width:300px;text-align:center;transform:scaleX(0.965);">Per Serving</div>
<div class="t " style="top:210.97px;left:388.80px;width:300px;text-align:center;">1-3 Years</div>
<div class="t " style="top:210.97px;left:548.60px;width:300px;text-align:center;">4-13 Years</div>
<div class="b" style="left:282.4px;top:237px;width:456.90px;height:6.00px;background:#1d1d1d"></div>
<div class="t " style="top:244.72px;left:282.10px;">Calories</div>
<div class="t " style="top:244.72px;left:468.60px;width:300px;text-align:center;">20</div>
<div class="b" style="left:282.4px;top:265px;width:456.90px;height:1.00px;background:#343434"></div>
<div class="b" style="left:282.4px;top:266px;width:456.90px;height:1.00px;background:rgba(40,40,40,0.08)"></div>
<div class="b" style="left:282.4px;top:264px;width:456.90px;height:1.00px;background:rgba(40,40,40,0.22)"></div>
<div class="t " style="top:264.29px;left:282.10px;">Total Carbohydrate</div>
<div class="t " style="top:264.29px;left:307.00px;width:300px;text-align:center;">1 g</div>
<div class="t " style="top:264.29px;left:388.80px;width:300px;text-align:center;">1%**</div>
<div class="t " style="top:264.29px;left:468.60px;width:300px;text-align:center;">4 g</div>
<div class="t " style="top:264.29px;left:548.60px;width:300px;text-align:center;">1%*</div>
<div class="b" style="left:282.4px;top:284px;width:456.90px;height:1.00px;background:#343434"></div>
<div class="b" style="left:282.4px;top:285px;width:456.90px;height:1.00px;background:rgba(40,40,40,0.21)"></div>
<div class="b" style="left:282.4px;top:283px;width:456.90px;height:1.00px;background:rgba(40,40,40,0.09)"></div>
<div class="t " style="top:283.86px;left:282.10px;">Vitamin A</div>
<div class="t " style="top:283.86px;left:307.00px;width:300px;text-align:center;">60 mcg</div>
<div class="t " style="top:283.86px;left:388.80px;width:300px;text-align:center;">20%</div>
<div class="t " style="top:283.86px;left:468.60px;width:300px;text-align:center;">360 mcg</div>
<div class="t " style="top:283.86px;left:548.60px;width:300px;text-align:center;">40%</div>
<div class="t " style="top:303.43px;left:289.40px;transform:scaleX(0.962);transform-origin:0 0;">(as Beta Carotene)</div>
<div class="b" style="left:282.4px;top:323px;width:456.90px;height:1.00px;background:#343434"></div>
<div class="b" style="left:282.4px;top:324px;width:456.90px;height:1.00px;background:rgba(40,40,40,0.24)"></div>
<div class="b" style="left:282.4px;top:322px;width:456.90px;height:1.00px;background:rgba(40,40,40,0.06)"></div>
<div class="t " style="top:323.00px;left:282.10px;">Vitamin C</div>
<div class="t " style="top:323.00px;left:307.00px;width:300px;text-align:center;">8 mg</div>
<div class="t " style="top:323.00px;left:388.80px;width:300px;text-align:center;">53%</div>
<div class="t " style="top:323.00px;left:468.60px;width:300px;text-align:center;">45 mg</div>
<div class="t " style="top:323.00px;left:548.60px;width:300px;text-align:center;">50%</div>
<div class="t " style="top:342.57px;left:289.40px;">(Ascorbic Acid)</div>
<div class="b" style="left:282.4px;top:363px;width:456.90px;height:1.00px;background:#343434"></div>
<div class="b" style="left:282.4px;top:364px;width:456.90px;height:1.00px;background:rgba(40,40,40,0.05)"></div>
<div class="b" style="left:282.4px;top:362px;width:456.90px;height:1.00px;background:rgba(40,40,40,0.25)"></div>
<div class="t " style="top:362.14px;left:282.10px;">Vitamin D</div>
<div class="t " style="top:362.14px;left:307.00px;width:300px;text-align:center;transform:scaleX(0.962);">3.3 mcg (132 IU)</div>
<div class="t " style="top:362.14px;left:388.80px;width:300px;text-align:center;">22%</div>
<div class="t " style="top:362.14px;left:468.60px;width:300px;text-align:center;transform:scaleX(0.965);">20 mcg (800 IU)</div>
<div class="t " style="top:362.14px;left:548.60px;width:300px;text-align:center;">100%</div>
<div class="t " style="top:381.71px;left:289.40px;transform:scaleX(0.983);transform-origin:0 0;">(as Cholecalciferol)</div>
<div class="b" style="left:282.4px;top:402px;width:456.90px;height:1.00px;background:#343434"></div>
<div class="b" style="left:282.4px;top:403px;width:456.90px;height:1.00px;background:rgba(40,40,40,0.08)"></div>
<div class="b" style="left:282.4px;top:401px;width:456.90px;height:1.00px;background:rgba(40,40,40,0.22)"></div>
<div class="t " style="top:401.28px;left:282.10px;">Vitamin E</div>
<div class="t " style="top:401.28px;left:307.00px;width:300px;text-align:center;">1.3 mg</div>
<div class="t " style="top:401.28px;left:388.80px;width:300px;text-align:center;">21%</div>
<div class="t " style="top:401.28px;left:468.60px;width:300px;text-align:center;">7.5 mg</div>
<div class="t " style="top:401.28px;left:548.60px;width:300px;text-align:center;">50%</div>
<div class="t " style="top:420.85px;left:289.40px;">(as D-Alpha Tocopherol Acetate)</div>
<div class="b" style="left:282.4px;top:441px;width:456.90px;height:1.00px;background:#343434"></div>
<div class="b" style="left:282.4px;top:442px;width:456.90px;height:1.00px;background:rgba(40,40,40,0.11)"></div>
<div class="b" style="left:282.4px;top:440px;width:456.90px;height:1.00px;background:rgba(40,40,40,0.19)"></div>
<div class="t " style="top:440.42px;left:282.10px;">Thiamin</div>
<div class="t " style="top:440.42px;left:307.00px;width:300px;text-align:center;">0.13 mg</div>
<div class="t " style="top:440.42px;left:388.80px;width:300px;text-align:center;">25%</div>
<div class="t " style="top:440.42px;left:468.60px;width:300px;text-align:center;">0.75 mg</div>
<div class="t " style="top:440.42px;left:548.60px;width:300px;text-align:center;">63%</div>
<div class="t " style="top:459.99px;left:289.40px;">(as Thiamine Hydrochloride)</div>
<div class="b" style="left:282.4px;top:480px;width:456.90px;height:1.00px;background:#343434"></div>
<div class="b" style="left:282.4px;top:481px;width:456.90px;height:1.00px;background:rgba(40,40,40,0.14)"></div>
<div class="b" style="left:282.4px;top:479px;width:456.90px;height:1.00px;background:rgba(40,40,40,0.16)"></div>
<div class="t " style="top:479.56px;left:282.10px;">Riboflavin</div>
<div class="t " style="top:479.56px;left:307.00px;width:300px;text-align:center;">0.13 mg</div>
<div class="t " style="top:479.56px;left:388.80px;width:300px;text-align:center;">25%</div>
<div class="t " style="top:479.56px;left:468.60px;width:300px;text-align:center;">0.75 mg</div>
<div class="t " style="top:479.56px;left:548.60px;width:300px;text-align:center;">58%</div>
<div class="b" style="left:282.4px;top:500px;width:456.90px;height:1.00px;background:#343434"></div>
<div class="b" style="left:282.4px;top:501px;width:456.90px;height:1.00px;background:rgba(40,40,40,0.05)"></div>
<div class="b" style="left:282.4px;top:499px;width:456.90px;height:1.00px;background:rgba(40,40,40,0.25)"></div>
<div class="t " style="top:499.13px;left:282.10px;transform:scaleX(0.972);transform-origin:0 0;">Niacin (as Niacinamide)</div>
<div class="t " style="top:499.13px;left:307.00px;width:300px;text-align:center;">1.8 mg</div>
<div class="t " style="top:499.13px;left:388.80px;width:300px;text-align:center;">30%</div>
<div class="t " style="top:499.13px;left:468.60px;width:300px;text-align:center;">10 mg</div>
<div class="t " style="top:499.13px;left:548.60px;width:300px;text-align:center;">63%</div>
<div class="b" style="left:282.4px;top:519px;width:456.90px;height:1.00px;background:#343434"></div>
<div class="b" style="left:282.4px;top:520px;width:456.90px;height:1.00px;background:rgba(40,40,40,0.17)"></div>
<div class="b" style="left:282.4px;top:518px;width:456.90px;height:1.00px;background:rgba(40,40,40,0.13)"></div>
<div class="t " style="top:518.70px;left:282.10px;">Vitamin B6</div>
<div class="t " style="top:518.70px;left:307.00px;width:300px;text-align:center;">0.1 mg</div>
<div class="t " style="top:518.70px;left:388.80px;width:300px;text-align:center;">20%</div>
<div class="t " style="top:518.70px;left:468.60px;width:300px;text-align:center;">0.6 mg</div>
<div class="t " style="top:518.70px;left:548.60px;width:300px;text-align:center;">35%</div>
<div class="t " style="top:538.27px;left:289.40px;">(as Pyridoxine Hydrochloride)</div>
<div class="b" style="left:282.4px;top:558px;width:456.90px;height:1.00px;background:#343434"></div>
<div class="b" style="left:282.4px;top:559px;width:456.90px;height:1.00px;background:rgba(40,40,40,0.21)"></div>
<div class="b" style="left:282.4px;top:557px;width:456.90px;height:1.00px;background:rgba(40,40,40,0.09)"></div>
<div class="t " style="top:557.84px;left:282.10px;">Folate</div>
<div class="t " style="top:557.84px;left:307.00px;width:300px;text-align:center;transform:scaleX(0.948);">35 mcg DFE</div>
<div class="t " style="top:557.84px;left:388.80px;width:300px;text-align:center;">22%</div>
<div class="t " style="top:557.84px;left:468.60px;width:300px;text-align:center;transform:scaleX(0.95);">200 mcg DFE</div>
<div class="t " style="top:557.84px;left:548.60px;width:300px;text-align:center;">50%</div>
<div class="t " style="top:577.41px;left:289.40px;transform:scaleX(0.962);transform-origin:0 0;">(as Calcium</div>
<div class="b" style="left:282.4px;top:597px;width:456.90px;height:1.00px;background:#343434"></div>
<div class="b" style="left:282.4px;top:598px;width:456.90px;height:1.00px;background:rgba(40,40,40,0.24)"></div>
<div class="b" style="left:282.4px;top:596px;width:456.90px;height:1.00px;background:rgba(40,40,40,0.06)"></div>
<div class="t " style="top:596.98px;left:289.40px;transform:scaleX(1.035);transform-origin:0 0;">L-5-Methyltetrahydrofolate)</div>
<div class="t " style="top:596.98px;left:307.00px;width:300px;text-align:center;">0.4 mcg</div>
<div class="t " style="top:596.98px;left:388.80px;width:300px;text-align:center;">44%</div>
<div class="t " style="top:596.98px;left:468.60px;width:300px;text-align:center;">2.4 mcg</div>
<div class="t " style="top:596.98px;left:548.60px;width:300px;text-align:center;">100%</div>
<div class="t " style="top:616.55px;left:282.10px;">Vitamin B12</div>
<div class="b" style="left:282.4px;top:637px;width:456.90px;height:1.00px;background:#343434"></div>
<div class="b" style="left:282.4px;top:638px;width:456.90px;height:1.00px;background:rgba(40,40,40,0.05)"></div>
<div class="b" style="left:282.4px;top:636px;width:456.90px;height:1.00px;background:rgba(40,40,40,0.25)"></div>
<div class="t " style="top:636.12px;left:289.40px;">(as Methylcobalamin)</div>
<div class="t " style="top:636.12px;left:307.00px;width:300px;text-align:center;">7.5 mcg</div>
<div class="t " style="top:636.12px;left:388.80px;width:300px;text-align:center;">94%</div>
<div class="t " style="top:636.12px;left:468.60px;width:300px;text-align:center;">45 mcg</div>
<div class="t " style="top:636.12px;left:548.60px;width:300px;text-align:center;">150%</div>
<div class="b" style="left:282.4px;top:656px;width:456.90px;height:1.00px;background:#343434"></div>
<div class="b" style="left:282.4px;top:657px;width:456.90px;height:1.00px;background:rgba(40,40,40,0.17)"></div>
<div class="b" style="left:282.4px;top:655px;width:456.90px;height:1.00px;background:rgba(40,40,40,0.13)"></div>
<div class="t " style="top:655.69px;left:282.10px;">Biotin (as D-Biotin)</div>
<div class="t " style="top:655.69px;left:307.00px;width:300px;text-align:center;">0.4 mg</div>
<div class="t " style="top:655.69px;left:388.80px;width:300px;text-align:center;">20%</div>
<div class="t " style="top:655.69px;left:468.60px;width:300px;text-align:center;">2.5 mg</div>
<div class="t " style="top:655.69px;left:548.60px;width:300px;text-align:center;">50%</div>
<div class="t " style="top:675.26px;left:282.10px;">Pantothenic Acid</div>
<div class="b" style="left:282.4px;top:695px;width:456.90px;height:1.00px;background:#343434"></div>
<div class="b" style="left:282.4px;top:696px;width:456.90px;height:1.00px;background:rgba(40,40,40,0.20)"></div>
<div class="b" style="left:282.4px;top:694px;width:456.90px;height:1.00px;background:rgba(40,40,40,0.10)"></div>
<div class="t " style="top:694.83px;left:289.40px;">(as D-Calcium Pantothenate)</div>
<div class="t " style="top:694.83px;left:307.00px;width:300px;text-align:center;">2 mg</div>
<div class="t " style="top:694.83px;left:388.80px;width:300px;text-align:center;">1%</div>
<div class="t " style="top:694.83px;left:468.60px;width:300px;text-align:center;">10 mg</div>
<div class="t " style="top:694.83px;left:548.60px;width:300px;text-align:center;">2%</div>
<div class="t " style="top:714.40px;left:282.10px;">Choline</div>
<div class="b" style="left:282.4px;top:734px;width:456.90px;height:1.00px;background:#343434"></div>
<div class="b" style="left:282.4px;top:735px;width:456.90px;height:1.00px;background:rgba(40,40,40,0.23)"></div>
<div class="b" style="left:282.4px;top:733px;width:456.90px;height:1.00px;background:rgba(40,40,40,0.07)"></div>
<div class="t " style="top:733.97px;left:289.40px;transform:scaleX(0.983);transform-origin:0 0;">(as Choline Bitartrate)</div>
<div class="t " style="top:733.97px;left:307.00px;width:300px;text-align:center;">1.5 mg</div>
<div class="t " style="top:733.97px;left:388.80px;width:300px;text-align:center;">50%</div>
<div class="t " style="top:733.97px;left:468.60px;width:300px;text-align:center;">9 mg</div>
<div class="t " style="top:733.97px;left:548.60px;width:300px;text-align:center;">82%</div>
<div class="b" style="left:282.4px;top:754px;width:456.90px;height:1.00px;background:#343434"></div>
<div class="b" style="left:282.4px;top:755px;width:456.90px;height:1.00px;background:rgba(40,40,40,0.14)"></div>
<div class="b" style="left:282.4px;top:753px;width:456.90px;height:1.00px;background:rgba(40,40,40,0.16)"></div>
<div class="t " style="top:753.54px;left:282.10px;transform:scaleX(0.973);transform-origin:0 0;">Zinc (as Zinc Citrate)</div>
<div class="t " style="top:753.54px;left:307.00px;width:300px;text-align:center;">20 mg</div>
<div class="t " style="top:753.54px;left:388.80px;width:300px;text-align:center;">1%</div>
<div class="t " style="top:753.54px;left:468.60px;width:300px;text-align:center;">99 mg</div>
<div class="t " style="top:753.54px;left:548.60px;width:300px;text-align:center;">2%</div>
<div class="t " style="top:773.11px;left:282.10px;">Potassium</div>
<div class="t " style="top:712.63px;font-size:12.6px;left:354.30px;width:300px;text-align:center;">†</div>
<div class="t " style="top:729.13px;font-size:12.6px;left:354.30px;width:300px;text-align:center;">†</div>
<div class="t " style="top:746.13px;font-size:12.6px;left:354.30px;width:300px;text-align:center;">†</div>
<div class="t " style="top:793.63px;font-size:12.6px;left:354.30px;width:300px;text-align:center;">†</div>
<div class="t " style="top:811.13px;font-size:12.6px;left:354.30px;width:300px;text-align:center;">†</div>
<div class="b" style="left:282.4px;top:793.9px;width:456.90px;height:10.30px;background:#1d1d1d"></div>
<div class="t " style="top:806.17px;left:282.10px;">Vitamin K2</div>
<div class="t " style="top:806.17px;left:307.00px;width:300px;text-align:center;">7.5 mcg</div>
<div class="t " style="top:806.17px;left:388.80px;width:300px;text-align:center;">†</div>
<div class="t " style="top:806.17px;left:468.60px;width:300px;text-align:center;">45 mcg</div>
<div class="t " style="top:806.17px;left:548.60px;width:300px;text-align:center;">†</div>
<div class="t " style="top:825.52px;left:289.40px;">(as Menaquinone)</div>
<div class="b" style="left:282.4px;top:843.6px;width:456.90px;height:10.40px;background:#1d1d1d"></div>
<div class="t " style="top:855.67px;left:282.10px;transform:scaleX(0.977);transform-origin:0 0;">*Percent Daily Values (DV) are based on a 2,000 calorie diet.</div>
<div class="t " style="top:875.17px;left:282.10px;transform:scaleX(0.98);transform-origin:0 0;">**Percent Daily Values (DV) are based on a 1,000 calorie diet.</div>
<div class="t " style="top:893.92px;left:282.10px;">†Daily Value (DV) not established.</div>
</div>
<div class="oi" style="top:928.59px;left:0px"><span style="transform:scaleX(1.075)">Other Ingredients: Purified Water, Organic Vegetable</span></div>
<div class="oi" style="top:948.09px;left:0px"><span style="transform:scaleX(1.032)">Glycerin, Natural Flavors, Organic Natural Flavors, Citric</span></div>
<div class="oi" style="top:967.29px;left:0px"><span style="transform:scaleX(1.042)">Acid, Xanthan Gum, and Grape Skin Extract (color).</span></div>
</body></html>
